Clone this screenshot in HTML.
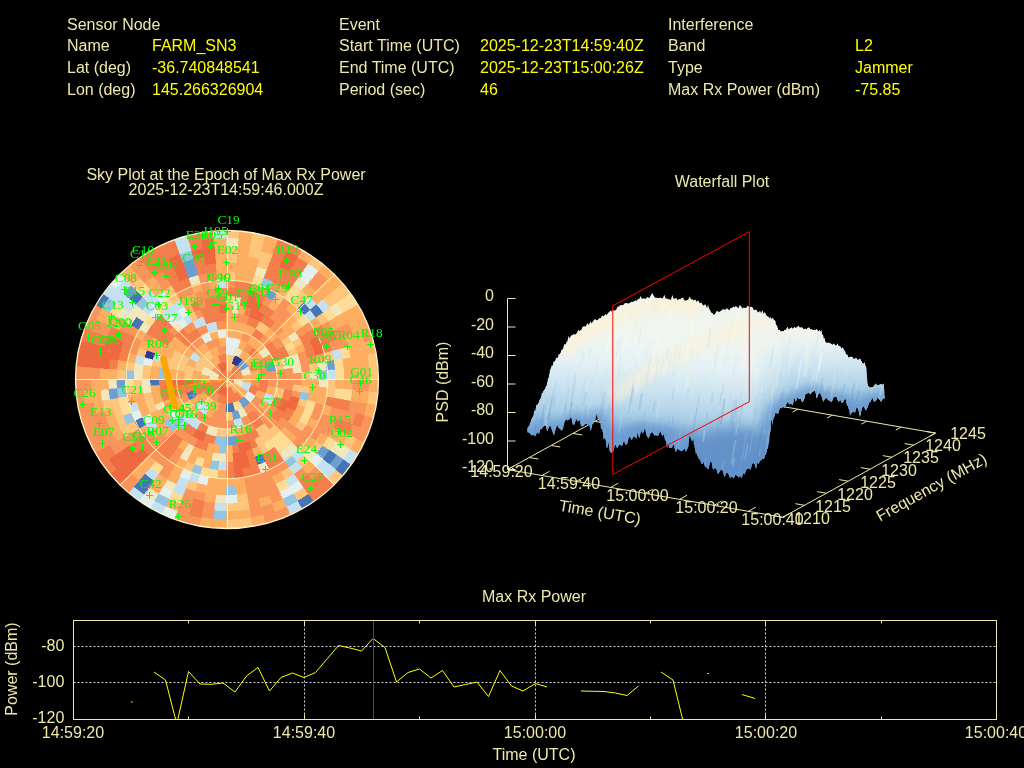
<!DOCTYPE html>
<html lang="en"><head><meta charset="utf-8"><title>Interference Event Report</title>
<style>html,body{margin:0;padding:0;background:#000;overflow:hidden}svg{display:block}text{font-family:"Liberation Sans",Arial,sans-serif;font-size:16px;fill:#eee8aa}.v{fill:#ffff00}.s{font-family:"Liberation Serif","Times New Roman",serif;font-size:13.3px;fill:#00ff00}.m{text-anchor:middle}.e{text-anchor:end}</style></head><body>
<svg width="1024" height="768" viewBox="0 0 1024 768">
<rect width="1024" height="768" fill="#000"/>
<g id="header">
<text x="67" y="30">Sensor Node</text>
<text x="67" y="51">Name</text>
<text x="152" y="51" class="v">FARM_SN3</text>
<text x="67" y="73">Lat (deg)</text>
<text x="152" y="73" class="v">-36.740848541</text>
<text x="67" y="95">Lon (deg)</text>
<text x="152" y="95" class="v">145.266326904</text>
<text x="339" y="30">Event</text>
<text x="339" y="51">Start Time (UTC)</text>
<text x="480" y="51" class="v">2025-12-23T14:59:40Z</text>
<text x="339" y="73">End Time (UTC)</text>
<text x="480" y="73" class="v">2025-12-23T15:00:26Z</text>
<text x="339" y="95">Period (sec)</text>
<text x="480" y="95" class="v">46</text>
<text x="668" y="30">Interference</text>
<text x="668" y="51">Band</text>
<text x="855" y="51" class="v">L2</text>
<text x="668" y="73">Type</text>
<text x="855" y="73" class="v">Jammer</text>
<text x="668" y="95">Max Rx Power (dBm)</text>
<text x="855" y="95" class="v">-75.85</text>
</g>
<g id="sky">
<text x="226" y="180" class="m">Sky Plot at the Epoch of Max Rx Power</text>
<text x="226" y="195" class="m">2025-12-23T14:59:46.000Z</text>
<ellipse cx="227.0" cy="379.5" rx="151.5" ry="149.0" fill="#f9955a"/>
<clipPath id="hc"><ellipse cx="227.0" cy="379.5" rx="151.5" ry="149.0"/></clipPath>
<g clip-path="url(#hc)" shape-rendering="crispEdges">
<path d="M226.2 379.0L233.5 374.9A8.4 8.3 0 0 1 233.5 383.1L226.2 379.0ZM226.2 379.0L226.2 387.3A8.4 8.3 0 0 1 218.9 383.1L226.2 379.0ZM226.2 379.0L218.9 374.9A8.4 8.3 0 0 1 226.2 370.7L226.2 379.0ZM230.4 371.8L234.6 364.7A16.8 16.6 0 0 1 240.8 370.7L233.5 374.9A8.4 8.3 0 0 0 230.4 371.8ZM230.4 386.2L234.6 393.3A16.8 16.6 0 0 1 226.2 395.6L226.2 387.3A8.4 8.3 0 0 0 230.4 386.2ZM222.0 386.2L217.8 393.3A16.8 16.6 0 0 1 209.4 379.0L217.8 379.0A8.4 8.3 0 0 0 222.0 386.2ZM237.0 391.7L242.4 398.0A25.2 24.8 0 0 1 217.6 402.3L220.4 394.6A16.8 16.6 0 0 0 237.0 391.7ZM215.4 391.7L210.0 398.0A25.2 24.8 0 0 1 201.3 383.3L209.6 381.9A16.8 16.6 0 0 0 215.4 391.7ZM220.4 363.4L217.6 355.7A25.2 24.8 0 0 1 226.2 354.2L226.2 362.4A16.8 16.6 0 0 0 220.4 363.4ZM250.6 385.4L258.7 387.6A33.7 33.1 0 0 1 255.4 395.6L248.1 391.4A25.2 24.8 0 0 0 250.6 385.4ZM204.3 391.4L197.0 395.6A33.7 33.1 0 0 1 192.5 379.0L200.9 379.0A25.2 24.8 0 0 0 204.3 391.4ZM247.8 353.6L253.3 347.3A42.1 41.4 0 0 1 258.4 352.4L252.0 357.7A33.7 33.1 0 0 0 247.8 353.6ZM259.9 379.0L268.3 379.0A42.1 41.4 0 0 1 265.7 393.2L257.8 390.3A33.7 33.1 0 0 0 259.9 379.0ZM194.6 390.3L186.7 393.2A42.1 41.4 0 0 1 184.8 386.2L193.0 384.7A33.7 33.1 0 0 0 194.6 390.3ZM253.3 410.7L258.7 417.0A50.5 49.7 0 0 1 251.5 422.0L247.2 414.8A42.1 41.4 0 0 0 253.3 410.7ZM186.7 393.2L178.7 396.0A50.5 49.7 0 0 1 176.5 387.6L184.8 386.2A42.1 41.4 0 0 0 186.7 393.2ZM251.4 336.0L255.7 328.8A58.9 57.9 0 0 1 264.1 334.6L258.7 341.0A50.5 49.7 0 0 0 251.4 336.0ZM264.9 347.1L271.3 341.8A58.9 57.9 0 0 1 281.6 359.2L273.7 362.0A50.5 49.7 0 0 0 264.9 347.1ZM273.7 396.0L281.6 398.8A58.9 57.9 0 0 1 277.2 408.0L269.9 403.8A50.5 49.7 0 0 0 273.7 396.0ZM258.7 417.0L264.1 423.4A58.9 57.9 0 0 1 255.7 429.2L251.5 422.0A50.5 49.7 0 0 0 258.7 417.0ZM208.9 425.7L206.0 433.4A58.9 57.9 0 0 1 196.7 429.2L200.9 422.0A50.5 49.7 0 0 0 208.9 425.7ZM178.7 396.0L170.8 398.8A58.9 57.9 0 0 1 168.2 389.1L176.5 387.6A50.5 49.7 0 0 0 178.7 396.0ZM187.5 347.1L181.1 341.8A58.9 57.9 0 0 1 196.7 328.8L201.0 336.0A50.5 49.7 0 0 0 187.5 347.1ZM246.4 324.6L249.2 316.8A67.3 66.2 0 0 1 259.9 321.6L255.7 328.8A58.9 57.9 0 0 0 246.4 324.6ZM277.2 350.0L284.5 345.9A67.3 66.2 0 0 1 289.5 356.4L281.6 359.2A58.9 57.9 0 0 0 277.2 350.0ZM284.2 389.1L292.5 390.5A67.3 66.2 0 0 1 289.5 401.6L281.6 398.8A58.9 57.9 0 0 0 284.2 389.1ZM277.2 408.0L284.5 412.1A67.3 66.2 0 0 1 277.8 421.6L271.3 416.2A58.9 57.9 0 0 0 277.2 408.0ZM255.7 429.2L259.9 436.4A67.3 66.2 0 0 1 237.9 444.2L236.4 436.1A58.9 57.9 0 0 0 255.7 429.2ZM216.0 436.1L214.5 444.2A67.3 66.2 0 0 1 203.2 441.2L206.0 433.4A58.9 57.9 0 0 0 216.0 436.1ZM196.7 429.2L192.5 436.4A67.3 66.2 0 0 1 182.9 429.7L188.3 423.4A58.9 57.9 0 0 0 196.7 429.2ZM170.8 398.8L162.9 401.6A67.3 66.2 0 0 1 158.9 379.0L167.3 379.0A58.9 57.9 0 0 0 170.8 398.8ZM181.1 341.8L174.6 336.4A67.3 66.2 0 0 1 182.9 328.3L188.3 334.6A58.9 57.9 0 0 0 181.1 341.8ZM206.0 324.6L203.2 316.8A67.3 66.2 0 0 1 226.2 312.8L226.2 321.1A58.9 57.9 0 0 0 206.0 324.6ZM243.6 315.0L245.8 307.0A75.8 74.5 0 0 1 252.1 309.0L249.2 316.8A67.3 66.2 0 0 0 243.6 315.0ZM259.9 321.6L264.1 314.5A75.8 74.5 0 0 1 274.9 321.9L269.5 328.3A67.3 66.2 0 0 0 259.9 321.6ZM287.2 407.0L294.9 410.5A75.8 74.5 0 0 1 288.3 421.7L281.4 417.0A67.3 66.2 0 0 0 287.2 407.0ZM254.7 439.0L258.2 446.5A75.8 74.5 0 0 1 252.1 449.0L249.2 441.2A67.3 66.2 0 0 0 254.7 439.0ZM237.9 444.2L239.4 452.4A75.8 74.5 0 0 1 232.8 453.2L232.1 445.0A67.3 66.2 0 0 0 237.9 444.2ZM208.8 443.0L206.6 451.0A75.8 74.5 0 0 1 194.2 446.5L197.7 439.0A67.3 66.2 0 0 0 208.8 443.0ZM167.9 345.9L160.6 341.8A75.8 74.5 0 0 1 168.2 331.1L174.6 336.4A67.3 66.2 0 0 0 167.9 345.9ZM203.2 316.8L200.3 309.0A75.8 74.5 0 0 1 219.6 304.8L220.3 313.0A67.3 66.2 0 0 0 203.2 316.8ZM239.4 305.6L240.8 297.5A84.2 82.8 0 0 1 248.0 299.0L245.8 307.0A75.8 74.5 0 0 0 239.4 305.6ZM258.2 311.5L261.8 304.0A84.2 82.8 0 0 1 274.5 311.2L269.6 318.0A75.8 74.5 0 0 0 258.2 311.5ZM252.1 449.0L255.0 456.8A84.2 82.8 0 0 1 248.0 459.0L245.8 451.0A75.8 74.5 0 0 0 252.1 449.0ZM182.8 440.0L177.9 446.8A84.2 82.8 0 0 1 166.7 437.5L172.6 431.7A75.8 74.5 0 0 0 182.8 440.0ZM160.6 341.8L153.3 337.6A84.2 82.8 0 0 1 166.7 320.5L172.6 326.3A75.8 74.5 0 0 0 160.6 341.8ZM194.2 311.5L190.6 304.0A84.2 82.8 0 0 1 197.4 301.2L200.3 309.0A75.8 74.5 0 0 0 194.2 311.5ZM206.6 307.0L204.4 299.0A84.2 82.8 0 0 1 226.2 296.2L226.2 304.5A75.8 74.5 0 0 0 206.6 307.0ZM226.2 296.2L226.2 287.9A92.6 91.1 0 0 1 250.2 291.0L248.0 299.0A84.2 82.8 0 0 0 226.2 296.2ZM255.0 301.2L257.9 293.4A92.6 91.1 0 0 1 265.3 296.5L261.8 304.0A84.2 82.8 0 0 0 255.0 301.2ZM299.1 337.6L306.4 333.5A92.6 91.1 0 0 1 315.6 355.4L307.5 357.6A84.2 82.8 0 0 0 299.1 337.6ZM274.5 446.8L279.3 453.6A92.6 91.1 0 0 1 265.3 461.5L261.8 454.0A84.2 82.8 0 0 0 274.5 446.8ZM255.0 456.8L257.9 464.6A92.6 91.1 0 0 1 250.2 467.0L248.0 459.0A84.2 82.8 0 0 0 255.0 456.8ZM233.5 461.5L234.3 469.7A92.6 91.1 0 0 1 226.2 470.1L226.2 461.8A84.2 82.8 0 0 0 233.5 461.5ZM177.9 446.8L173.1 453.6A92.6 91.1 0 0 1 160.7 443.4L166.7 437.5A84.2 82.8 0 0 0 177.9 446.8ZM153.3 337.6L146.0 333.5A92.6 91.1 0 0 1 160.7 314.6L166.7 320.5A84.2 82.8 0 0 0 153.3 337.6ZM234.3 288.3L235.0 280.0A101.0 99.3 0 0 1 252.3 283.1L250.2 291.0A92.6 91.1 0 0 0 234.3 288.3ZM306.4 333.5L313.7 329.3A101.0 99.3 0 0 1 317.7 337.0L310.1 340.5A92.6 91.1 0 0 0 306.4 333.5ZM279.3 453.6L284.1 460.4A101.0 99.3 0 0 1 268.9 469.0L265.3 461.5A92.6 91.1 0 0 0 279.3 453.6ZM257.9 464.6L260.7 472.3A101.0 99.3 0 0 1 243.7 476.8L242.3 468.7A92.6 91.1 0 0 0 257.9 464.6ZM234.3 469.7L235.0 478.0A101.0 99.3 0 0 1 226.2 478.3L226.2 470.1A92.6 91.1 0 0 0 234.3 469.7ZM173.1 453.6L168.3 460.4A101.0 99.3 0 0 1 154.8 449.2L160.7 443.4A92.6 91.1 0 0 0 173.1 453.6ZM313.7 329.3L321.0 325.2A109.4 107.6 0 0 1 331.9 351.1L323.8 353.3A101.0 99.3 0 0 0 313.7 329.3ZM325.7 396.2L334.0 397.7A109.4 107.6 0 0 1 331.9 406.9L323.8 404.7A101.0 99.3 0 0 0 325.7 396.2ZM154.8 449.2L148.8 455.1A109.4 107.6 0 0 1 136.6 440.7L143.5 436.0A101.0 99.3 0 0 0 154.8 449.2ZM126.7 361.8L118.4 360.3A109.4 107.6 0 0 1 127.0 333.5L134.7 337.0A101.0 99.3 0 0 0 126.7 361.8ZM175.7 293.0L171.5 285.8A109.4 107.6 0 0 1 188.8 277.9L191.7 285.7A101.0 99.3 0 0 0 175.7 293.0ZM263.6 277.9L266.5 270.1A117.8 115.9 0 0 1 293.8 284.1L289.0 290.9A109.4 107.6 0 0 0 263.6 277.9ZM325.4 333.5L333.0 330.0A117.8 115.9 0 0 1 336.9 339.4L329.0 342.2A109.4 107.6 0 0 0 325.4 333.5ZM334.0 397.7L342.2 399.1A117.8 115.9 0 0 1 340.0 409.0L331.9 406.9A109.4 107.6 0 0 0 334.0 397.7ZM142.4 448.2L135.9 453.5A117.8 115.9 0 0 1 129.7 445.5L136.6 440.7A109.4 107.6 0 0 0 142.4 448.2ZM117.2 369.6L108.8 368.9A117.8 115.9 0 0 1 110.2 358.9L118.4 360.3A109.4 107.6 0 0 0 117.2 369.6ZM123.4 342.2L115.5 339.4A117.8 115.9 0 0 1 119.4 330.0L127.0 333.5A109.4 107.6 0 0 0 123.4 342.2ZM171.5 285.8L167.3 278.6A117.8 115.9 0 0 1 176.4 274.0L180.0 281.5A109.4 107.6 0 0 0 171.5 285.8ZM197.9 275.1L195.7 267.1A117.8 115.9 0 0 1 215.9 263.6L216.7 271.8A109.4 107.6 0 0 0 197.9 275.1ZM266.5 270.1L269.4 262.3A126.2 124.2 0 0 1 298.6 277.3L293.8 284.1A117.8 115.9 0 0 0 266.5 270.1ZM342.2 399.1L350.5 400.6A126.2 124.2 0 0 1 348.1 411.1L340.0 409.0A117.8 115.9 0 0 0 342.2 399.1ZM336.9 418.6L344.8 421.5A126.2 124.2 0 0 1 340.6 431.5L333.0 428.0A117.8 115.9 0 0 0 336.9 418.6ZM115.5 339.4L107.6 336.5A126.2 124.2 0 0 1 111.8 326.5L119.4 330.0A117.8 115.9 0 0 0 115.5 339.4ZM167.3 278.6L163.1 271.5A126.2 124.2 0 0 1 172.8 266.5L176.4 274.0A117.8 115.9 0 0 0 167.3 278.6ZM195.7 267.1L193.5 259.1A126.2 124.2 0 0 1 204.3 256.7L205.7 264.9A117.8 115.9 0 0 0 195.7 267.1ZM269.4 262.3L272.3 254.5A134.7 132.4 0 0 1 283.1 259.0L279.6 266.5A126.2 124.2 0 0 0 269.4 262.3ZM289.3 271.5L293.5 264.3A134.7 132.4 0 0 1 303.4 270.5L298.6 277.3A126.2 124.2 0 0 0 289.3 271.5ZM344.8 421.5L352.7 424.3A134.7 132.4 0 0 1 348.2 435.0L340.6 431.5A126.2 124.2 0 0 0 344.8 421.5ZM307.4 474.1L312.8 480.5A134.7 132.4 0 0 1 303.4 487.5L298.6 480.7A126.2 124.2 0 0 0 307.4 474.1ZM204.3 501.3L202.8 509.4A134.7 132.4 0 0 1 191.3 506.9L193.5 498.9A126.2 124.2 0 0 0 204.3 501.3ZM104.3 346.9L96.1 344.7A134.7 132.4 0 0 1 99.7 333.7L107.6 336.5A126.2 124.2 0 0 0 104.3 346.9ZM153.8 277.3L149.0 270.5A134.7 132.4 0 0 1 169.3 259.0L172.8 266.5A126.2 124.2 0 0 0 153.8 277.3ZM272.3 254.5L275.1 246.8A143.1 140.7 0 0 1 286.7 251.5L283.1 259.0A134.7 132.4 0 0 0 272.3 254.5ZM293.5 264.3L297.7 257.1A143.1 140.7 0 0 1 308.3 263.7L303.4 270.5A134.7 132.4 0 0 0 293.5 264.3ZM356.3 413.3L364.4 415.4A143.1 140.7 0 0 1 360.7 427.1L352.7 424.3A134.7 132.4 0 0 0 356.3 413.3ZM321.4 472.7L327.4 478.5A143.1 140.7 0 0 1 308.3 494.3L303.4 487.5A134.7 132.4 0 0 0 321.4 472.7ZM202.8 509.4L201.4 517.6A143.1 140.7 0 0 1 189.2 514.9L191.3 506.9A134.7 132.4 0 0 0 202.8 509.4ZM115.9 455.0L109.0 459.7A143.1 140.7 0 0 1 102.3 449.4L109.6 445.2A134.7 132.4 0 0 0 115.9 455.0ZM96.1 344.7L88.0 342.6A143.1 140.7 0 0 1 91.7 330.9L99.7 333.7A134.7 132.4 0 0 0 96.1 344.7ZM149.0 270.5L144.1 263.7A143.1 140.7 0 0 1 177.3 246.8L180.1 254.5A134.7 132.4 0 0 0 149.0 270.5ZM191.3 251.1L189.2 243.1A143.1 140.7 0 0 1 201.4 240.4L202.8 248.6A134.7 132.4 0 0 0 191.3 251.1ZM275.1 246.8L278.0 239.0A151.5 149.0 0 0 1 301.9 250.0L297.7 257.1A143.1 140.7 0 0 0 275.1 246.8ZM327.4 478.5L333.3 484.4A151.5 149.0 0 0 1 313.1 501.1L308.3 494.3A143.1 140.7 0 0 0 327.4 478.5ZM116.6 469.5L110.1 474.8A151.5 149.0 0 0 1 95.0 453.5L102.3 449.4A143.1 140.7 0 0 0 116.6 469.5ZM88.0 342.6L79.9 340.4A151.5 149.0 0 0 1 83.8 328.0L91.7 330.9A143.1 140.7 0 0 0 88.0 342.6ZM144.1 263.7L139.3 256.9A151.5 149.0 0 0 1 174.4 239.0L177.3 246.8A143.1 140.7 0 0 0 144.1 263.7ZM189.2 243.1L187.0 235.1A151.5 149.0 0 0 1 213.0 230.6L213.7 238.8A143.1 140.7 0 0 0 189.2 243.1Z" fill="#f47f4d" stroke="#f47f4d" stroke-width="0.4"/>
<path d="M226.2 379.0L233.5 383.1A8.4 8.3 0 0 1 226.2 387.3L226.2 379.0ZM226.2 370.7L226.2 362.4A16.8 16.6 0 0 1 234.6 364.7L230.4 371.8A8.4 8.3 0 0 0 226.2 370.7ZM226.2 362.4L226.2 354.2A25.2 24.8 0 0 1 234.8 355.7L232.0 363.4A16.8 16.6 0 0 0 226.2 362.4ZM211.6 370.7L204.3 366.6A25.2 24.8 0 0 1 210.0 360.0L215.4 366.3A16.8 16.6 0 0 0 211.6 370.7ZM213.6 400.5L209.4 407.7A33.7 33.1 0 0 1 202.4 402.4L208.3 396.6A25.2 24.8 0 0 0 213.6 400.5ZM201.8 372.6L193.7 370.4A33.7 33.1 0 0 1 209.4 350.3L213.6 357.5A25.2 24.8 0 0 0 201.8 372.6ZM232.0 411.6L233.5 419.8A42.1 41.4 0 0 1 226.2 420.4L226.2 412.1A33.7 33.1 0 0 0 232.0 411.6ZM192.5 379.0L184.1 379.0A42.1 41.4 0 0 1 186.7 364.8L194.6 367.7A33.7 33.1 0 0 0 192.5 379.0ZM194.0 405.6L187.5 410.9A50.5 49.7 0 0 1 182.5 403.8L189.8 399.7A42.1 41.4 0 0 0 194.0 405.6ZM184.8 371.8L176.5 370.4A50.5 49.7 0 0 1 182.5 354.2L189.8 358.3A42.1 41.4 0 0 0 184.8 371.8ZM273.7 362.0L281.6 359.2A58.9 57.9 0 0 1 284.2 368.9L275.9 370.4A50.5 49.7 0 0 0 273.7 362.0ZM275.9 387.6L284.2 389.1A58.9 57.9 0 0 1 281.6 398.8L273.7 396.0A50.5 49.7 0 0 0 275.9 387.6ZM235.0 427.9L236.4 436.1A58.9 57.9 0 0 1 216.0 436.1L217.4 427.9A50.5 49.7 0 0 0 235.0 427.9ZM176.5 370.4L168.2 368.9A58.9 57.9 0 0 1 175.2 350.0L182.5 354.2A50.5 49.7 0 0 0 176.5 370.4ZM255.7 328.8L259.9 321.6A67.3 66.2 0 0 1 269.5 328.3L264.1 334.6A58.9 57.9 0 0 0 255.7 328.8ZM264.1 423.4L269.5 429.7A67.3 66.2 0 0 1 259.9 436.4L255.7 429.2A58.9 57.9 0 0 0 264.1 423.4ZM168.2 368.9L159.9 367.5A67.3 66.2 0 0 1 162.9 356.4L170.8 359.2A58.9 57.9 0 0 0 168.2 368.9ZM281.4 341.0L288.3 336.3A75.8 74.5 0 0 1 291.8 341.8L284.5 345.9A67.3 66.2 0 0 0 281.4 341.0ZM287.2 351.0L294.9 347.5A75.8 74.5 0 0 1 297.4 353.5L289.5 356.4A67.3 66.2 0 0 0 287.2 351.0ZM293.3 384.8L301.7 385.5A75.8 74.5 0 0 1 300.8 391.9L292.5 390.5A67.3 66.2 0 0 0 293.3 384.8ZM273.8 425.8L279.8 431.7A75.8 74.5 0 0 1 258.2 446.5L254.7 439.0A67.3 66.2 0 0 0 273.8 425.8ZM159.9 367.5L151.6 366.1A75.8 74.5 0 0 1 153.0 359.7L161.2 361.9A67.3 66.2 0 0 0 159.9 367.5ZM192.5 321.6L188.3 314.5A75.8 74.5 0 0 1 194.2 311.5L197.7 319.0A67.3 66.2 0 0 0 192.5 321.6ZM226.2 304.5L226.2 296.2A84.2 82.8 0 0 1 233.5 296.5L232.8 304.8A75.8 74.5 0 0 0 226.2 304.5ZM291.8 341.8L299.1 337.6A84.2 82.8 0 0 1 302.5 344.0L294.9 347.5A75.8 74.5 0 0 0 291.8 341.8ZM301.7 372.5L310.0 371.8A84.2 82.8 0 0 1 310.4 379.0L301.9 379.0A75.8 74.5 0 0 0 301.7 372.5ZM301.7 385.5L310.0 386.2A84.2 82.8 0 0 1 309.1 393.4L300.8 391.9A75.8 74.5 0 0 0 301.7 385.5ZM299.4 398.3L307.5 400.4A84.2 82.8 0 0 1 305.3 407.3L297.4 404.5A75.8 74.5 0 0 0 299.4 398.3ZM264.1 443.5L268.3 450.7A84.2 82.8 0 0 1 261.8 454.0L258.2 446.5A75.8 74.5 0 0 0 264.1 443.5ZM157.5 410.5L149.9 414.0A84.2 82.8 0 0 1 143.3 393.4L151.6 391.9A75.8 74.5 0 0 0 157.5 410.5ZM150.4 379.0L142.0 379.0A84.2 82.8 0 0 1 143.3 364.6L151.6 366.1A75.8 74.5 0 0 0 150.4 379.0ZM290.7 325.8L297.1 320.5A92.6 91.1 0 0 1 302.0 326.8L295.1 331.5A84.2 82.8 0 0 0 290.7 325.8ZM309.1 364.6L317.4 363.2A92.6 91.1 0 0 1 318.4 371.1L310.0 371.8A84.2 82.8 0 0 0 309.1 364.6ZM299.1 420.4L306.4 424.5A92.6 91.1 0 0 1 302.0 431.2L295.1 426.5A84.2 82.8 0 0 0 299.1 420.4ZM143.3 393.4L135.0 394.8A92.6 91.1 0 0 1 133.6 379.0L142.0 379.0A84.2 82.8 0 0 0 143.3 393.4ZM144.9 357.6L136.8 355.4A92.6 91.1 0 0 1 139.2 347.9L147.1 350.7A84.2 82.8 0 0 0 144.9 357.6ZM272.5 300.1L276.7 293.0A101.0 99.3 0 0 1 284.1 297.6L279.3 304.4A92.6 91.1 0 0 0 272.5 300.1ZM291.7 314.6L297.6 308.8A101.0 99.3 0 0 1 303.6 315.1L297.1 320.5A92.6 91.1 0 0 0 291.7 314.6ZM194.5 464.6L191.7 472.3A101.0 99.3 0 0 1 183.5 469.0L187.1 461.5A92.6 91.1 0 0 0 194.5 464.6ZM135.0 394.8L126.7 396.2A101.0 99.3 0 0 1 125.6 387.7L134.0 386.9A92.6 91.1 0 0 0 135.0 394.8ZM134.0 371.1L125.6 370.3A101.0 99.3 0 0 1 126.7 361.8L135.0 363.2A92.6 91.1 0 0 0 134.0 371.1ZM173.1 304.4L168.3 297.6A101.0 99.3 0 0 1 175.7 293.0L179.9 300.1A92.6 91.1 0 0 0 173.1 304.4ZM226.2 279.7L226.2 271.4A109.4 107.6 0 0 1 235.7 271.8L235.0 280.0A101.0 99.3 0 0 0 226.2 279.7ZM291.1 302.9L296.5 296.6A109.4 107.6 0 0 1 303.6 302.9L297.6 308.8A101.0 99.3 0 0 0 291.1 302.9ZM323.8 353.3L331.9 351.1A109.4 107.6 0 0 1 334.0 360.3L325.7 361.8A101.0 99.3 0 0 0 323.8 353.3ZM327.2 379.0L335.6 379.0A109.4 107.6 0 0 1 334.0 397.7L325.7 396.2A101.0 99.3 0 0 0 327.2 379.0ZM303.6 442.9L310.0 448.2A109.4 107.6 0 0 1 303.6 455.1L297.6 449.2A101.0 99.3 0 0 0 303.6 442.9ZM138.7 428.7L131.4 432.8A109.4 107.6 0 0 1 127.0 424.5L134.7 421.0A101.0 99.3 0 0 0 138.7 428.7ZM125.2 379.0L116.8 379.0A109.4 107.6 0 0 1 117.2 369.6L125.6 370.3A101.0 99.3 0 0 0 125.2 379.0ZM168.3 297.6L163.4 290.9A109.4 107.6 0 0 1 171.5 285.8L175.7 293.0A101.0 99.3 0 0 0 168.3 297.6ZM296.5 296.6L301.9 290.2A117.8 115.9 0 0 1 309.5 297.1L303.6 302.9A109.4 107.6 0 0 0 296.5 296.6ZM315.8 317.3L322.7 312.5A117.8 115.9 0 0 1 328.2 321.1L321.0 325.2A109.4 107.6 0 0 0 315.8 317.3ZM315.8 440.7L322.7 445.5A117.8 115.9 0 0 1 316.5 453.5L310.0 448.2A109.4 107.6 0 0 0 315.8 440.7ZM303.6 455.1L309.5 460.9A117.8 115.9 0 0 1 301.9 467.8L296.5 461.4A109.4 107.6 0 0 0 303.6 455.1ZM289.0 467.1L293.8 473.9A117.8 115.9 0 0 1 285.1 479.4L280.9 472.2A109.4 107.6 0 0 0 289.0 467.1ZM197.9 482.9L195.7 490.9A117.8 115.9 0 0 1 185.9 487.9L188.8 480.1A109.4 107.6 0 0 0 197.9 482.9ZM131.4 432.8L124.2 436.9A117.8 115.9 0 0 1 110.2 399.1L118.4 397.7A109.4 107.6 0 0 0 131.4 432.8ZM226.2 263.1L226.2 254.8A126.2 124.2 0 0 1 237.2 255.3L236.5 263.6A117.8 115.9 0 0 0 226.2 263.1ZM256.7 267.1L258.9 259.1A126.2 124.2 0 0 1 269.4 262.3L266.5 270.1A117.8 115.9 0 0 0 256.7 267.1ZM246.7 493.1L248.1 501.3A126.2 124.2 0 0 1 237.2 502.7L236.5 494.4A117.8 115.9 0 0 0 246.7 493.1ZM112.4 409.0L104.3 411.1A126.2 124.2 0 0 1 101.9 400.6L110.2 399.1A117.8 115.9 0 0 0 112.4 409.0ZM226.2 254.8L226.2 246.6A134.7 132.4 0 0 1 237.9 247.1L237.2 255.3A126.2 124.2 0 0 0 226.2 254.8ZM248.1 256.7L249.6 248.6A134.7 132.4 0 0 1 272.3 254.5L269.4 262.3A126.2 124.2 0 0 0 248.1 256.7ZM322.9 299.2L329.4 293.9A134.7 132.4 0 0 1 336.5 303.0L329.6 307.8A126.2 124.2 0 0 0 322.9 299.2ZM248.1 501.3L249.6 509.4A134.7 132.4 0 0 1 226.2 511.4L226.2 503.2A126.2 124.2 0 0 0 248.1 501.3ZM136.9 291.2L131.0 285.3A134.7 132.4 0 0 1 139.6 277.5L145.0 283.9A126.2 124.2 0 0 0 136.9 291.2ZM249.6 248.6L251.0 240.4A143.1 140.7 0 0 1 263.2 243.1L261.1 251.1A134.7 132.4 0 0 0 249.6 248.6ZM329.4 293.9L335.8 288.5A143.1 140.7 0 0 1 343.4 298.3L336.5 303.0A134.7 132.4 0 0 0 329.4 293.9ZM348.2 435.0L355.9 438.5A143.1 140.7 0 0 1 350.1 449.4L342.8 445.2A134.7 132.4 0 0 0 348.2 435.0ZM303.4 487.5L308.3 494.3A143.1 140.7 0 0 1 297.7 500.9L293.5 493.7A134.7 132.4 0 0 0 303.4 487.5ZM226.2 238.3L226.2 230.0A151.5 149.0 0 0 1 239.4 230.6L238.7 238.8A143.1 140.7 0 0 0 226.2 238.3ZM251.0 240.4L252.5 232.3A151.5 149.0 0 0 1 265.4 235.1L263.2 243.1A143.1 140.7 0 0 0 251.0 240.4ZM308.3 263.7L313.1 256.9A151.5 149.0 0 0 1 323.6 264.9L318.2 271.2A143.1 140.7 0 0 0 308.3 263.7ZM335.8 288.5L342.3 283.2A151.5 149.0 0 0 1 350.3 293.5L343.4 298.3A143.1 140.7 0 0 0 335.8 288.5ZM367.1 354.6L375.4 353.1A151.5 149.0 0 0 1 377.7 379.0L369.3 379.0A143.1 140.7 0 0 0 367.1 354.6ZM368.7 391.3L377.1 392.0A151.5 149.0 0 0 1 375.4 404.9L367.1 403.4A143.1 140.7 0 0 0 368.7 391.3ZM335.8 469.5L342.3 474.8A151.5 149.0 0 0 1 333.3 484.4L327.4 478.5A143.1 140.7 0 0 0 335.8 469.5ZM251.0 517.6L252.5 525.7A151.5 149.0 0 0 1 226.2 528.0L226.2 519.7A143.1 140.7 0 0 0 251.0 517.6Z" fill="#fdc67c" stroke="#fdc67c" stroke-width="0.4"/>
<path d="M234.6 379.0L243.0 379.0A16.8 16.6 0 0 1 240.8 387.3L233.5 383.1A8.4 8.3 0 0 0 234.6 379.0ZM217.8 379.0L209.4 379.0A16.8 16.6 0 0 1 211.6 370.7L218.9 374.9A8.4 8.3 0 0 0 217.8 379.0ZM240.8 370.7L248.1 366.6A25.2 24.8 0 0 1 251.1 374.7L242.8 376.1A16.8 16.6 0 0 0 240.8 370.7ZM209.6 376.1L201.3 374.7A25.2 24.8 0 0 1 204.3 366.6L211.6 370.7A16.8 16.6 0 0 0 209.6 376.1ZM232.7 355.0L234.9 347.0A33.7 33.1 0 0 1 243.0 350.3L238.8 357.5A25.2 24.8 0 0 0 232.7 355.0ZM243.0 407.7L247.2 414.8A42.1 41.4 0 0 1 240.6 417.9L237.7 410.1A33.7 33.1 0 0 0 243.0 407.7ZM258.4 352.4L264.9 347.1A50.5 49.7 0 0 1 269.9 354.2L262.6 358.3A42.1 41.4 0 0 0 258.4 352.4ZM217.4 427.9L216.0 436.1A58.9 57.9 0 0 1 206.0 433.4L208.9 425.7A50.5 49.7 0 0 0 217.4 427.9ZM281.6 359.2L289.5 356.4A67.3 66.2 0 0 1 292.5 367.5L284.2 368.9A58.9 57.9 0 0 0 281.6 359.2ZM232.1 313.0L232.8 304.8A75.8 74.5 0 0 1 239.4 305.6L237.9 313.8A67.3 66.2 0 0 0 232.1 313.0ZM289.5 356.4L297.4 353.5A75.8 74.5 0 0 1 301.7 372.5L293.3 373.2A67.3 66.2 0 0 0 289.5 356.4ZM165.2 407.0L157.5 410.5A75.8 74.5 0 0 1 155.0 404.5L162.9 401.6A67.3 66.2 0 0 0 165.2 407.0ZM178.6 332.2L172.6 326.3A75.8 74.5 0 0 1 177.5 321.9L182.9 328.3A67.3 66.2 0 0 0 178.6 332.2ZM232.8 304.8L233.5 296.5A84.2 82.8 0 0 1 240.8 297.5L239.4 305.6A75.8 74.5 0 0 0 232.8 304.8ZM288.3 336.3L295.1 331.5A84.2 82.8 0 0 1 299.1 337.6L291.8 341.8A75.8 74.5 0 0 0 288.3 336.3ZM226.2 453.5L226.2 461.8A84.2 82.8 0 0 1 211.6 460.5L213.0 452.4A75.8 74.5 0 0 0 226.2 453.5ZM194.2 446.5L190.6 454.0A84.2 82.8 0 0 1 184.1 450.7L188.3 443.5A75.8 74.5 0 0 0 194.2 446.5ZM151.6 391.9L143.3 393.4A84.2 82.8 0 0 1 142.0 379.0L150.4 379.0A75.8 74.5 0 0 0 151.6 391.9ZM310.0 371.8L318.4 371.1A92.6 91.1 0 0 1 318.8 379.0L310.4 379.0A84.2 82.8 0 0 0 310.0 371.8ZM190.6 454.0L187.1 461.5A92.6 91.1 0 0 1 179.9 457.9L184.1 450.7A84.2 82.8 0 0 0 190.6 454.0ZM142.0 379.0L133.6 379.0A92.6 91.1 0 0 1 135.0 363.2L143.3 364.6A84.2 82.8 0 0 0 142.0 379.0ZM317.4 363.2L325.7 361.8A101.0 99.3 0 0 1 326.8 370.3L318.4 371.1A92.6 91.1 0 0 0 317.4 363.2ZM318.8 379.0L327.2 379.0A101.0 99.3 0 0 1 326.8 387.7L318.4 386.9A92.6 91.1 0 0 0 318.8 379.0ZM291.7 443.4L297.6 449.2A101.0 99.3 0 0 1 284.1 460.4L279.3 453.6A92.6 91.1 0 0 0 291.7 443.4ZM265.3 461.5L268.9 469.0A101.0 99.3 0 0 1 260.7 472.3L257.9 464.6A92.6 91.1 0 0 0 265.3 461.5ZM146.0 333.5L138.7 329.3A101.0 99.3 0 0 1 143.5 322.0L150.4 326.8A92.6 91.1 0 0 0 146.0 333.5ZM143.5 322.0L136.6 317.3A109.4 107.6 0 0 1 142.4 309.8L148.8 315.1A101.0 99.3 0 0 0 143.5 322.0ZM191.7 285.7L188.8 277.9A109.4 107.6 0 0 1 197.9 275.1L200.1 283.1A101.0 99.3 0 0 0 191.7 285.7ZM254.5 275.1L256.7 267.1A117.8 115.9 0 0 1 266.5 270.1L263.6 277.9A109.4 107.6 0 0 0 254.5 275.1ZM310.0 448.2L316.5 453.5A117.8 115.9 0 0 1 309.5 460.9L303.6 455.1A109.4 107.6 0 0 0 310.0 448.2ZM117.2 388.4L108.8 389.1A117.8 115.9 0 0 1 108.4 379.0L116.8 379.0A109.4 107.6 0 0 0 117.2 388.4ZM131.4 325.2L124.2 321.1A117.8 115.9 0 0 1 135.9 304.5L142.4 309.8A109.4 107.6 0 0 0 131.4 325.2ZM293.8 284.1L298.6 277.3A126.2 124.2 0 0 1 307.4 283.9L301.9 290.2A117.8 115.9 0 0 0 293.8 284.1ZM226.2 494.9L226.2 503.2A126.2 124.2 0 0 1 215.2 502.7L215.9 494.4A117.8 115.9 0 0 0 226.2 494.9ZM176.4 484.0L172.8 491.5A126.2 124.2 0 0 1 163.1 486.5L167.3 479.4A117.8 115.9 0 0 0 176.4 484.0ZM110.2 399.1L101.9 400.6A126.2 124.2 0 0 1 100.4 389.8L108.8 389.1A117.8 115.9 0 0 0 110.2 399.1ZM124.2 321.1L116.9 316.9A126.2 124.2 0 0 1 122.8 307.8L129.7 312.5A117.8 115.9 0 0 0 124.2 321.1ZM329.6 307.8L336.5 303.0A134.7 132.4 0 0 1 342.8 312.8L335.5 316.9A126.2 124.2 0 0 0 329.6 307.8ZM335.5 441.1L342.8 445.2A134.7 132.4 0 0 1 336.5 455.0L329.6 450.2A126.2 124.2 0 0 0 335.5 441.1ZM226.2 246.6L226.2 238.3A143.1 140.7 0 0 1 238.7 238.8L237.9 247.1A134.7 132.4 0 0 0 226.2 246.6ZM342.8 445.2L350.1 449.4A143.1 140.7 0 0 1 343.4 459.7L336.5 455.0A134.7 132.4 0 0 0 342.8 445.2ZM158.9 493.7L154.7 500.9A143.1 140.7 0 0 1 144.1 494.3L149.0 487.5A134.7 132.4 0 0 0 158.9 493.7Z" fill="#f2e8bf" stroke="#f2e8bf" stroke-width="0.4"/>
<path d="M233.5 383.1L240.8 387.3A16.8 16.6 0 0 1 234.6 393.3L230.4 386.2A8.4 8.3 0 0 0 233.5 383.1ZM242.8 376.1L251.1 374.7A25.2 24.8 0 0 1 251.1 383.3L242.8 381.9A16.8 16.6 0 0 0 242.8 376.1ZM240.8 387.3L248.1 391.4A25.2 24.8 0 0 1 242.4 398.0L237.0 391.7A16.8 16.6 0 0 0 240.8 387.3ZM209.6 381.9L201.3 383.3A25.2 24.8 0 0 1 201.3 374.7L209.6 376.1A16.8 16.6 0 0 0 209.6 381.9ZM215.4 366.3L210.0 360.0A25.2 24.8 0 0 1 217.6 355.7L220.4 363.4A16.8 16.6 0 0 0 215.4 366.3ZM238.8 357.5L243.0 350.3A33.7 33.1 0 0 1 255.4 362.4L248.1 366.6A25.2 24.8 0 0 0 238.8 357.5ZM250.6 372.6L258.7 370.4A33.7 33.1 0 0 1 259.9 379.0L251.4 379.0A25.2 24.8 0 0 0 250.6 372.6ZM219.7 403.0L217.5 411.0A33.7 33.1 0 0 1 209.4 407.7L213.6 400.5A25.2 24.8 0 0 0 219.7 403.0ZM208.3 396.6L202.4 402.4A33.7 33.1 0 0 1 197.0 395.6L204.3 391.4A25.2 24.8 0 0 0 208.3 396.6ZM200.9 379.0L192.5 379.0A33.7 33.1 0 0 1 193.7 370.4L201.8 372.6A25.2 24.8 0 0 0 200.9 379.0ZM213.6 357.5L209.4 350.3A33.7 33.1 0 0 1 217.5 347.0L219.7 355.0A25.2 24.8 0 0 0 213.6 357.5ZM237.7 347.9L240.6 340.1A42.1 41.4 0 0 1 247.2 343.2L243.0 350.3A33.7 33.1 0 0 0 237.7 347.9ZM252.0 357.7L258.4 352.4A42.1 41.4 0 0 1 262.6 358.3L255.4 362.4A33.7 33.1 0 0 0 252.0 357.7ZM257.8 390.3L265.7 393.2A42.1 41.4 0 0 1 262.6 399.7L255.4 395.6A33.7 33.1 0 0 0 257.8 390.3ZM214.7 410.1L211.8 417.9A42.1 41.4 0 0 1 205.2 414.8L209.4 407.7A33.7 33.1 0 0 0 214.7 410.1ZM200.4 400.3L194.0 405.6A42.1 41.4 0 0 1 189.8 399.7L197.0 395.6A33.7 33.1 0 0 0 200.4 400.3ZM194.6 367.7L186.7 364.8A42.1 41.4 0 0 1 189.8 358.3L197.0 362.4A33.7 33.1 0 0 0 194.6 367.7ZM200.4 357.7L194.0 352.4A42.1 41.4 0 0 1 205.2 343.2L209.4 350.3A33.7 33.1 0 0 0 200.4 357.7ZM220.4 346.4L218.9 338.2A42.1 41.4 0 0 1 226.2 337.6L226.2 345.9A33.7 33.1 0 0 0 220.4 346.4ZM226.2 337.6L226.2 329.3A50.5 49.7 0 0 1 243.5 332.3L240.6 340.1A42.1 41.4 0 0 0 226.2 337.6ZM247.2 343.2L251.4 336.0A50.5 49.7 0 0 1 264.9 347.1L258.4 352.4A42.1 41.4 0 0 0 247.2 343.2ZM267.6 386.2L275.9 387.6A50.5 49.7 0 0 1 273.7 396.0L265.7 393.2A42.1 41.4 0 0 0 267.6 386.2ZM262.6 399.7L269.9 403.8A50.5 49.7 0 0 1 264.9 410.9L258.4 405.6A42.1 41.4 0 0 0 262.6 399.7ZM199.1 410.7L193.7 417.0A50.5 49.7 0 0 1 187.5 410.9L194.0 405.6A42.1 41.4 0 0 0 199.1 410.7ZM184.1 379.0L175.7 379.0A50.5 49.7 0 0 1 176.5 370.4L184.8 371.8A42.1 41.4 0 0 0 184.1 379.0ZM189.8 358.3L182.5 354.2A50.5 49.7 0 0 1 187.5 347.1L194.0 352.4A42.1 41.4 0 0 0 189.8 358.3ZM211.8 340.1L208.9 332.3A50.5 49.7 0 0 1 217.4 330.1L218.9 338.2A42.1 41.4 0 0 0 211.8 340.1ZM226.2 329.3L226.2 321.1A58.9 57.9 0 0 1 255.7 328.8L251.4 336.0A50.5 49.7 0 0 0 226.2 329.3ZM243.5 425.7L246.4 433.4A58.9 57.9 0 0 1 236.4 436.1L235.0 427.9A50.5 49.7 0 0 0 243.5 425.7ZM187.5 410.9L181.1 416.2A58.9 57.9 0 0 1 170.8 398.8L178.7 396.0A50.5 49.7 0 0 0 187.5 410.9ZM175.7 379.0L167.3 379.0A58.9 57.9 0 0 1 168.2 368.9L176.5 370.4A50.5 49.7 0 0 0 175.7 379.0ZM182.5 354.2L175.2 350.0A58.9 57.9 0 0 1 181.1 341.8L187.5 347.1A50.5 49.7 0 0 0 182.5 354.2ZM226.2 321.1L226.2 312.8A67.3 66.2 0 0 1 237.9 313.8L236.4 321.9A58.9 57.9 0 0 0 226.2 321.1ZM264.1 334.6L269.5 328.3A67.3 66.2 0 0 1 277.8 336.4L271.3 341.8A58.9 57.9 0 0 0 264.1 334.6ZM175.2 408.0L167.9 412.1A67.3 66.2 0 0 1 162.9 401.6L170.8 398.8A58.9 57.9 0 0 0 175.2 408.0ZM170.8 359.2L162.9 356.4A67.3 66.2 0 0 1 174.6 336.4L181.1 341.8A58.9 57.9 0 0 0 170.8 359.2ZM226.2 312.8L226.2 304.5A75.8 74.5 0 0 1 232.8 304.8L232.1 313.0A67.3 66.2 0 0 0 226.2 312.8ZM237.9 313.8L239.4 305.6A75.8 74.5 0 0 1 245.8 307.0L243.6 315.0A67.3 66.2 0 0 0 237.9 313.8ZM277.8 336.4L284.2 331.1A75.8 74.5 0 0 1 288.3 336.3L281.4 341.0A67.3 66.2 0 0 0 277.8 336.4ZM232.1 445.0L232.8 453.2A75.8 74.5 0 0 1 226.2 453.5L226.2 445.2A67.3 66.2 0 0 0 232.1 445.0ZM220.3 445.0L219.6 453.2A75.8 74.5 0 0 1 206.6 451.0L208.8 443.0A67.3 66.2 0 0 0 220.3 445.0ZM171.0 417.0L164.1 421.7A75.8 74.5 0 0 1 157.5 410.5L165.2 407.0A67.3 66.2 0 0 0 171.0 417.0ZM162.9 401.6L155.0 404.5A75.8 74.5 0 0 1 150.7 385.5L159.1 384.8A67.3 66.2 0 0 0 162.9 401.6ZM158.9 379.0L150.4 379.0A75.8 74.5 0 0 1 151.6 366.1L159.9 367.5A67.3 66.2 0 0 0 158.9 379.0ZM162.9 356.4L155.0 353.5A75.8 74.5 0 0 1 160.6 341.8L167.9 345.9A67.3 66.2 0 0 0 162.9 356.4ZM279.8 326.3L285.7 320.5A84.2 82.8 0 0 1 295.1 331.5L288.3 336.3A75.8 74.5 0 0 0 279.8 326.3ZM294.9 347.5L302.5 344.0A84.2 82.8 0 0 1 305.3 350.7L297.4 353.5A75.8 74.5 0 0 0 294.9 347.5ZM301.9 379.0L310.4 379.0A84.2 82.8 0 0 1 310.0 386.2L301.7 385.5A75.8 74.5 0 0 0 301.9 379.0ZM297.4 404.5L305.3 407.3A84.2 82.8 0 0 1 295.1 426.5L288.3 421.7A75.8 74.5 0 0 0 297.4 404.5ZM284.2 426.9L290.7 432.2A84.2 82.8 0 0 1 285.7 437.5L279.8 431.7A75.8 74.5 0 0 0 284.2 426.9ZM258.2 446.5L261.8 454.0A84.2 82.8 0 0 1 255.0 456.8L252.1 449.0A75.8 74.5 0 0 0 258.2 446.5ZM232.8 453.2L233.5 461.5A84.2 82.8 0 0 1 226.2 461.8L226.2 453.5A75.8 74.5 0 0 0 232.8 453.2ZM213.0 452.4L211.6 460.5A84.2 82.8 0 0 1 190.6 454.0L194.2 446.5A75.8 74.5 0 0 0 213.0 452.4ZM188.3 443.5L184.1 450.7A84.2 82.8 0 0 1 177.9 446.8L182.8 440.0A75.8 74.5 0 0 0 188.3 443.5ZM172.6 431.7L166.7 437.5A84.2 82.8 0 0 1 149.9 414.0L157.5 410.5A75.8 74.5 0 0 0 172.6 431.7ZM155.0 353.5L147.1 350.7A84.2 82.8 0 0 1 153.3 337.6L160.6 341.8A75.8 74.5 0 0 0 155.0 353.5ZM188.3 314.5L184.1 307.3A84.2 82.8 0 0 1 190.6 304.0L194.2 311.5A75.8 74.5 0 0 0 188.3 314.5ZM268.3 307.3L272.5 300.1A92.6 91.1 0 0 1 279.3 304.4L274.5 311.2A84.2 82.8 0 0 0 268.3 307.3ZM285.7 320.5L291.7 314.6A92.6 91.1 0 0 1 297.1 320.5L290.7 325.8A84.2 82.8 0 0 0 285.7 320.5ZM310.4 379.0L318.8 379.0A92.6 91.1 0 0 1 315.6 402.6L307.5 400.4A84.2 82.8 0 0 0 310.4 379.0ZM290.7 432.2L297.1 437.5A92.6 91.1 0 0 1 291.7 443.4L285.7 437.5A84.2 82.8 0 0 0 290.7 432.2ZM211.6 460.5L210.1 468.7A92.6 91.1 0 0 1 202.2 467.0L204.4 459.0A84.2 82.8 0 0 0 211.6 460.5ZM197.4 456.8L194.5 464.6A92.6 91.1 0 0 1 187.1 461.5L190.6 454.0A84.2 82.8 0 0 0 197.4 456.8ZM161.7 432.2L155.3 437.5A92.6 91.1 0 0 1 150.4 431.2L157.3 426.5A84.2 82.8 0 0 0 161.7 432.2ZM149.9 414.0L142.3 417.5A92.6 91.1 0 0 1 135.0 394.8L143.3 393.4A84.2 82.8 0 0 0 149.9 414.0ZM147.1 350.7L139.2 347.9A92.6 91.1 0 0 1 142.3 340.5L149.9 344.0A84.2 82.8 0 0 0 147.1 350.7ZM184.1 307.3L179.9 300.1A92.6 91.1 0 0 1 194.5 293.4L197.4 301.2A84.2 82.8 0 0 0 184.1 307.3ZM285.7 309.2L291.1 302.9A101.0 99.3 0 0 1 297.6 308.8L291.7 314.6A92.6 91.1 0 0 0 285.7 309.2ZM315.6 355.4L323.8 353.3A101.0 99.3 0 0 1 325.7 361.8L317.4 363.2A92.6 91.1 0 0 0 315.6 355.4ZM318.4 386.9L326.8 387.7A101.0 99.3 0 0 1 323.8 404.7L315.6 402.6A92.6 91.1 0 0 0 318.4 386.9ZM310.1 417.5L317.7 421.0A101.0 99.3 0 0 1 313.7 428.7L306.4 424.5A92.6 91.1 0 0 0 310.1 417.5ZM226.2 470.1L226.2 478.3A101.0 99.3 0 0 1 217.4 478.0L218.1 469.7A92.6 91.1 0 0 0 226.2 470.1ZM187.1 461.5L183.5 469.0A101.0 99.3 0 0 1 175.7 465.0L179.9 457.9A92.6 91.1 0 0 0 187.1 461.5ZM150.4 431.2L143.5 436.0A101.0 99.3 0 0 1 138.7 428.7L146.0 424.5A92.6 91.1 0 0 0 150.4 431.2ZM136.8 402.6L128.6 404.7A101.0 99.3 0 0 1 126.7 396.2L135.0 394.8A92.6 91.1 0 0 0 136.8 402.6ZM135.0 363.2L126.7 361.8A101.0 99.3 0 0 1 128.6 353.3L136.8 355.4A92.6 91.1 0 0 0 135.0 363.2ZM142.3 340.5L134.7 337.0A101.0 99.3 0 0 1 138.7 329.3L146.0 333.5A92.6 91.1 0 0 0 142.3 340.5ZM194.5 293.4L191.7 285.7A101.0 99.3 0 0 1 200.1 283.1L202.2 291.0A92.6 91.1 0 0 0 194.5 293.4ZM210.1 289.3L208.7 281.2A101.0 99.3 0 0 1 217.4 280.0L218.1 288.3A92.6 91.1 0 0 0 210.1 289.3ZM235.0 280.0L235.7 271.8A109.4 107.6 0 0 1 254.5 275.1L252.3 283.1A101.0 99.3 0 0 0 235.0 280.0ZM276.7 293.0L280.9 285.8A109.4 107.6 0 0 1 289.0 290.9L284.1 297.6A101.0 99.3 0 0 0 276.7 293.0ZM308.9 322.0L315.8 317.3A109.4 107.6 0 0 1 321.0 325.2L313.7 329.3A101.0 99.3 0 0 0 308.9 322.0ZM323.8 404.7L331.9 406.9A109.4 107.6 0 0 1 329.0 415.8L321.1 413.0A101.0 99.3 0 0 0 323.8 404.7ZM308.9 436.0L315.8 440.7A109.4 107.6 0 0 1 310.0 448.2L303.6 442.9A101.0 99.3 0 0 0 308.9 436.0ZM243.7 476.8L245.2 485.0A109.4 107.6 0 0 1 207.2 485.0L208.7 476.8A101.0 99.3 0 0 0 243.7 476.8ZM183.5 469.0L180.0 476.5A109.4 107.6 0 0 1 171.5 472.2L175.7 465.0A101.0 99.3 0 0 0 183.5 469.0ZM125.6 370.3L117.2 369.6A109.4 107.6 0 0 1 118.4 360.3L126.7 361.8A101.0 99.3 0 0 0 125.6 370.3ZM217.4 280.0L216.7 271.8A109.4 107.6 0 0 1 226.2 271.4L226.2 279.7A101.0 99.3 0 0 0 217.4 280.0ZM226.2 271.4L226.2 263.1A117.8 115.9 0 0 1 256.7 267.1L254.5 275.1A109.4 107.6 0 0 0 226.2 271.4ZM335.6 379.0L344.0 379.0A117.8 115.9 0 0 1 343.6 389.1L335.2 388.4A109.4 107.6 0 0 0 335.6 379.0ZM321.0 432.8L328.2 436.9A117.8 115.9 0 0 1 322.7 445.5L315.8 440.7A109.4 107.6 0 0 0 321.0 432.8ZM280.9 472.2L285.1 479.4A117.8 115.9 0 0 1 276.0 484.0L272.4 476.5A109.4 107.6 0 0 0 280.9 472.2ZM245.2 485.0L246.7 493.1A117.8 115.9 0 0 1 236.5 494.4L235.7 486.2A109.4 107.6 0 0 0 245.2 485.0ZM226.2 486.6L226.2 494.9A117.8 115.9 0 0 1 195.7 490.9L197.9 482.9A109.4 107.6 0 0 0 226.2 486.6ZM180.0 476.5L176.4 484.0A117.8 115.9 0 0 1 167.3 479.4L171.5 472.2A109.4 107.6 0 0 0 180.0 476.5ZM155.9 461.4L150.5 467.8A117.8 115.9 0 0 1 142.9 460.9L148.8 455.1A109.4 107.6 0 0 0 155.9 461.4ZM116.8 379.0L108.4 379.0A117.8 115.9 0 0 1 108.8 368.9L117.2 369.6A109.4 107.6 0 0 0 116.8 379.0ZM155.9 296.6L150.5 290.2A117.8 115.9 0 0 1 158.6 284.1L163.4 290.9A109.4 107.6 0 0 0 155.9 296.6ZM216.7 271.8L215.9 263.6A117.8 115.9 0 0 1 226.2 263.1L226.2 271.4A109.4 107.6 0 0 0 216.7 271.8ZM236.5 263.6L237.2 255.3A126.2 124.2 0 0 1 258.9 259.1L256.7 267.1A117.8 115.9 0 0 0 236.5 263.6ZM301.9 290.2L307.4 283.9A126.2 124.2 0 0 1 322.9 299.2L316.5 304.5A117.8 115.9 0 0 0 301.9 290.2ZM328.2 321.1L335.5 316.9A126.2 124.2 0 0 1 340.6 326.5L333.0 330.0A117.8 115.9 0 0 0 328.2 321.1ZM342.2 358.9L350.5 357.4A126.2 124.2 0 0 1 352.0 389.8L343.6 389.1A117.8 115.9 0 0 0 342.2 358.9ZM333.0 428.0L340.6 431.5A126.2 124.2 0 0 1 335.5 441.1L328.2 436.9A117.8 115.9 0 0 0 333.0 428.0ZM309.5 460.9L315.5 466.8A126.2 124.2 0 0 1 307.4 474.1L301.9 467.8A117.8 115.9 0 0 0 309.5 460.9ZM215.9 494.4L215.2 502.7A126.2 124.2 0 0 1 204.3 501.3L205.7 493.1A117.8 115.9 0 0 0 215.9 494.4ZM167.3 479.4L163.1 486.5A126.2 124.2 0 0 1 153.8 480.7L158.6 473.9A117.8 115.9 0 0 0 167.3 479.4ZM150.5 467.8L145.0 474.1A126.2 124.2 0 0 1 136.9 466.8L142.9 460.9A117.8 115.9 0 0 0 150.5 467.8ZM124.2 436.9L116.9 441.1A126.2 124.2 0 0 1 104.3 411.1L112.4 409.0A117.8 115.9 0 0 0 124.2 436.9ZM108.8 389.1L100.4 389.8A126.2 124.2 0 0 1 100.4 368.2L108.8 368.9A117.8 115.9 0 0 0 108.8 389.1ZM119.4 330.0L111.8 326.5A126.2 124.2 0 0 1 116.9 316.9L124.2 321.1A117.8 115.9 0 0 0 119.4 330.0ZM150.5 290.2L145.0 283.9A126.2 124.2 0 0 1 153.8 277.3L158.6 284.1A117.8 115.9 0 0 0 150.5 290.2ZM215.9 263.6L215.2 255.3A126.2 124.2 0 0 1 226.2 254.8L226.2 263.1A117.8 115.9 0 0 0 215.9 263.6ZM237.2 255.3L237.9 247.1A134.7 132.4 0 0 1 249.6 248.6L248.1 256.7A126.2 124.2 0 0 0 237.2 255.3ZM315.5 291.2L321.4 285.3A134.7 132.4 0 0 1 329.4 293.9L322.9 299.2A126.2 124.2 0 0 0 315.5 291.2ZM335.5 316.9L342.8 312.8A134.7 132.4 0 0 1 348.2 323.0L340.6 326.5A126.2 124.2 0 0 0 335.5 316.9ZM344.8 336.5L352.7 333.7A134.7 132.4 0 0 1 360.9 379.0L352.4 379.0A126.2 124.2 0 0 0 344.8 336.5ZM352.0 389.8L360.4 390.5A134.7 132.4 0 0 1 358.8 402.0L350.5 400.6A126.2 124.2 0 0 0 352.0 389.8ZM340.6 431.5L348.2 435.0A134.7 132.4 0 0 1 342.8 445.2L335.5 441.1A126.2 124.2 0 0 0 340.6 431.5ZM269.4 495.7L272.3 503.5A134.7 132.4 0 0 1 261.1 506.9L258.9 498.9A126.2 124.2 0 0 0 269.4 495.7ZM163.1 486.5L158.9 493.7A134.7 132.4 0 0 1 149.0 487.5L153.8 480.7A126.2 124.2 0 0 0 163.1 486.5ZM145.0 474.1L139.6 480.5A134.7 132.4 0 0 1 131.0 472.7L136.9 466.8A126.2 124.2 0 0 0 145.0 474.1ZM104.3 411.1L96.1 413.3A134.7 132.4 0 0 1 91.5 379.0L99.9 379.0A126.2 124.2 0 0 0 104.3 411.1ZM111.8 326.5L104.2 323.0A134.7 132.4 0 0 1 109.6 312.8L116.9 316.9A126.2 124.2 0 0 0 111.8 326.5ZM215.2 255.3L214.5 247.1A134.7 132.4 0 0 1 226.2 246.6L226.2 254.8A126.2 124.2 0 0 0 215.2 255.3ZM237.9 247.1L238.7 238.8A143.1 140.7 0 0 1 251.0 240.4L249.6 248.6A134.7 132.4 0 0 0 237.9 247.1ZM261.1 251.1L263.2 243.1A143.1 140.7 0 0 1 275.1 246.8L272.3 254.5A134.7 132.4 0 0 0 261.1 251.1ZM321.4 285.3L327.4 279.5A143.1 140.7 0 0 1 335.8 288.5L329.4 293.9A134.7 132.4 0 0 0 321.4 285.3ZM342.8 312.8L350.1 308.6A143.1 140.7 0 0 1 369.3 379.0L360.9 379.0A134.7 132.4 0 0 0 342.8 312.8ZM360.4 390.5L368.7 391.3A143.1 140.7 0 0 1 367.1 403.4L358.8 402.0A134.7 132.4 0 0 0 360.4 390.5ZM283.1 499.0L286.7 506.5A143.1 140.7 0 0 1 275.1 511.2L272.3 503.5A134.7 132.4 0 0 0 283.1 499.0ZM249.6 509.4L251.0 517.6A143.1 140.7 0 0 1 226.2 519.7L226.2 511.4A134.7 132.4 0 0 0 249.6 509.4ZM180.1 503.5L177.3 511.2A143.1 140.7 0 0 1 165.7 506.5L169.3 499.0A134.7 132.4 0 0 0 180.1 503.5ZM93.6 402.0L85.3 403.4A143.1 140.7 0 0 1 83.7 391.3L92.0 390.5A134.7 132.4 0 0 0 93.6 402.0ZM104.2 323.0L96.5 319.5A143.1 140.7 0 0 1 102.3 308.6L109.6 312.8A134.7 132.4 0 0 0 104.2 323.0ZM131.0 285.3L125.0 279.5A143.1 140.7 0 0 1 134.2 271.2L139.6 277.5A134.7 132.4 0 0 0 131.0 285.3ZM214.5 247.1L213.7 238.8A143.1 140.7 0 0 1 226.2 238.3L226.2 246.6A134.7 132.4 0 0 0 214.5 247.1ZM238.7 238.8L239.4 230.6A151.5 149.0 0 0 1 252.5 232.3L251.0 240.4A143.1 140.7 0 0 0 238.7 238.8ZM263.2 243.1L265.4 235.1A151.5 149.0 0 0 1 278.0 239.0L275.1 246.8A143.1 140.7 0 0 0 263.2 243.1ZM297.7 257.1L301.9 250.0A151.5 149.0 0 0 1 313.1 256.9L308.3 263.7A143.1 140.7 0 0 0 297.7 257.1ZM318.2 271.2L323.6 264.9A151.5 149.0 0 0 1 342.3 283.2L335.8 288.5A143.1 140.7 0 0 0 318.2 271.2ZM350.1 308.6L357.4 304.5A151.5 149.0 0 0 1 368.6 328.0L360.7 330.9A143.1 140.7 0 0 0 350.1 308.6ZM364.4 342.6L372.5 340.4A151.5 149.0 0 0 1 375.4 353.1L367.1 354.6A143.1 140.7 0 0 0 364.4 342.6ZM369.3 379.0L377.7 379.0A151.5 149.0 0 0 1 377.1 392.0L368.7 391.3A143.1 140.7 0 0 0 369.3 379.0ZM367.1 403.4L375.4 404.9A151.5 149.0 0 0 1 372.5 417.6L364.4 415.4A143.1 140.7 0 0 0 367.1 403.4ZM355.9 438.5L363.5 442.0A151.5 149.0 0 0 1 357.4 453.5L350.1 449.4A143.1 140.7 0 0 0 355.9 438.5ZM263.2 514.9L265.4 522.9A151.5 149.0 0 0 1 252.5 525.7L251.0 517.6A143.1 140.7 0 0 0 263.2 514.9ZM226.2 519.7L226.2 528.0A151.5 149.0 0 0 1 199.9 525.7L201.4 517.6A143.1 140.7 0 0 0 226.2 519.7ZM125.0 279.5L119.1 273.6A151.5 149.0 0 0 1 128.8 264.9L134.2 271.2A143.1 140.7 0 0 0 125.0 279.5Z" fill="#fdae61" stroke="#fdae61" stroke-width="0.4"/>
<path d="M226.2 387.3L226.2 395.6A16.8 16.6 0 0 1 217.8 393.3L222.0 386.2A8.4 8.3 0 0 0 226.2 387.3ZM222.0 371.8L217.8 364.7A16.8 16.6 0 0 1 226.2 362.4L226.2 370.7A8.4 8.3 0 0 0 222.0 371.8ZM193.0 384.7L184.8 386.2A42.1 41.4 0 0 1 184.1 379.0L192.5 379.0A33.7 33.1 0 0 0 193.0 384.7ZM184.8 386.2L176.5 387.6A50.5 49.7 0 0 1 175.7 379.0L184.1 379.0A42.1 41.4 0 0 0 184.8 386.2ZM176.5 387.6L168.2 389.1A58.9 57.9 0 0 1 167.3 379.0L175.7 379.0A50.5 49.7 0 0 0 176.5 387.6ZM281.6 398.8L289.5 401.6A67.3 66.2 0 0 1 284.5 412.1L277.2 408.0A58.9 57.9 0 0 0 281.6 398.8ZM206.0 433.4L203.2 441.2A67.3 66.2 0 0 1 192.5 436.4L196.7 429.2A58.9 57.9 0 0 0 206.0 433.4ZM249.2 316.8L252.1 309.0A75.8 74.5 0 0 1 264.1 314.5L259.9 321.6A67.3 66.2 0 0 0 249.2 316.8ZM291.2 396.1L299.4 398.3A75.8 74.5 0 0 1 294.9 410.5L287.2 407.0A67.3 66.2 0 0 0 291.2 396.1ZM249.2 441.2L252.1 449.0A75.8 74.5 0 0 1 239.4 452.4L237.9 444.2A67.3 66.2 0 0 0 249.2 441.2ZM220.3 313.0L219.6 304.8A75.8 74.5 0 0 1 226.2 304.5L226.2 312.8A67.3 66.2 0 0 0 220.3 313.0ZM245.8 307.0L248.0 299.0A84.2 82.8 0 0 1 261.8 304.0L258.2 311.5A75.8 74.5 0 0 0 245.8 307.0ZM245.8 451.0L248.0 459.0A84.2 82.8 0 0 1 233.5 461.5L232.8 453.2A75.8 74.5 0 0 0 245.8 451.0ZM248.0 299.0L250.2 291.0A92.6 91.1 0 0 1 257.9 293.4L255.0 301.2A84.2 82.8 0 0 0 248.0 299.0ZM248.0 459.0L250.2 467.0A92.6 91.1 0 0 1 234.3 469.7L233.5 461.5A84.2 82.8 0 0 0 248.0 459.0ZM310.1 340.5L317.7 337.0A101.0 99.3 0 0 1 323.8 353.3L315.6 355.4A92.6 91.1 0 0 0 310.1 340.5ZM242.3 468.7L243.7 476.8A101.0 99.3 0 0 1 235.0 478.0L234.3 469.7A92.6 91.1 0 0 0 242.3 468.7ZM148.8 455.1L142.9 460.9A117.8 115.9 0 0 1 135.9 453.5L142.4 448.2A109.4 107.6 0 0 0 148.8 455.1ZM118.4 360.3L110.2 358.9A117.8 115.9 0 0 1 115.5 339.4L123.4 342.2A109.4 107.6 0 0 0 118.4 360.3ZM180.0 281.5L176.4 274.0A117.8 115.9 0 0 1 185.9 270.1L188.8 277.9A109.4 107.6 0 0 0 180.0 281.5ZM142.9 460.9L136.9 466.8A126.2 124.2 0 0 1 122.8 450.2L129.7 445.5A117.8 115.9 0 0 0 142.9 460.9ZM108.8 368.9L100.4 368.2A126.2 124.2 0 0 1 107.6 336.5L115.5 339.4A117.8 115.9 0 0 0 108.8 368.9ZM176.4 274.0L172.8 266.5A126.2 124.2 0 0 1 183.0 262.3L185.9 270.1A117.8 115.9 0 0 0 176.4 274.0ZM205.7 264.9L204.3 256.7A126.2 124.2 0 0 1 215.2 255.3L215.9 263.6A117.8 115.9 0 0 0 205.7 264.9ZM279.6 266.5L283.1 259.0A134.7 132.4 0 0 1 293.5 264.3L289.3 271.5A126.2 124.2 0 0 0 279.6 266.5ZM136.9 466.8L131.0 472.7A134.7 132.4 0 0 1 115.9 455.0L122.8 450.2A126.2 124.2 0 0 0 136.9 466.8ZM100.4 368.2L92.0 367.5A134.7 132.4 0 0 1 96.1 344.7L104.3 346.9A126.2 124.2 0 0 0 100.4 368.2ZM172.8 266.5L169.3 259.0A134.7 132.4 0 0 1 180.1 254.5L183.0 262.3A126.2 124.2 0 0 0 172.8 266.5ZM193.5 259.1L191.3 251.1A134.7 132.4 0 0 1 214.5 247.1L215.2 255.3A126.2 124.2 0 0 0 193.5 259.1ZM283.1 259.0L286.7 251.5A143.1 140.7 0 0 1 297.7 257.1L293.5 264.3A134.7 132.4 0 0 0 283.1 259.0ZM131.0 472.7L125.0 478.5A143.1 140.7 0 0 1 109.0 459.7L115.9 455.0A134.7 132.4 0 0 0 131.0 472.7ZM92.0 367.5L83.7 366.7A143.1 140.7 0 0 1 88.0 342.6L96.1 344.7A134.7 132.4 0 0 0 92.0 367.5ZM202.8 248.6L201.4 240.4A143.1 140.7 0 0 1 213.7 238.8L214.5 247.1A134.7 132.4 0 0 0 202.8 248.6ZM125.0 478.5L119.1 484.4A151.5 149.0 0 0 1 110.1 474.8L116.6 469.5A143.1 140.7 0 0 0 125.0 478.5ZM83.7 366.7L75.3 366.0A151.5 149.0 0 0 1 79.9 340.4L88.0 342.6A143.1 140.7 0 0 0 83.7 366.7Z" fill="#ee6940" stroke="#ee6940" stroke-width="0.4"/>
<path d="M232.0 363.4L234.8 355.7A25.2 24.8 0 0 1 242.4 360.0L237.0 366.3A16.8 16.6 0 0 0 232.0 363.4ZM153.0 359.7L144.9 357.6A84.2 82.8 0 0 1 147.1 350.7L155.0 353.5A75.8 74.5 0 0 0 153.0 359.7Z" fill="#2b3a95" stroke="#2b3a95" stroke-width="0.4"/>
<path d="M237.0 366.3L242.4 360.0A25.2 24.8 0 0 1 248.1 366.6L240.8 370.7A16.8 16.6 0 0 0 237.0 366.3ZM244.1 396.6L250.0 402.4A33.7 33.1 0 0 1 243.0 407.7L238.8 400.5A25.2 24.8 0 0 0 244.1 396.6ZM237.7 410.1L240.6 417.9A42.1 41.4 0 0 1 233.5 419.8L232.0 411.6A33.7 33.1 0 0 0 237.7 410.1ZM265.7 364.8L273.7 362.0A50.5 49.7 0 0 1 275.9 370.4L267.6 371.8A42.1 41.4 0 0 0 265.7 364.8ZM236.4 436.1L237.9 444.2A67.3 66.2 0 0 1 226.2 445.2L226.2 436.9A58.9 57.9 0 0 0 236.4 436.1ZM265.3 296.5L268.9 289.0A101.0 99.3 0 0 1 276.7 293.0L272.5 300.1A92.6 91.1 0 0 0 265.3 296.5ZM325.7 361.8L334.0 360.3A109.4 107.6 0 0 1 335.2 369.6L326.8 370.3A101.0 99.3 0 0 0 325.7 361.8ZM125.6 387.7L117.2 388.4A109.4 107.6 0 0 1 116.8 379.0L125.2 379.0A101.0 99.3 0 0 0 125.6 387.7ZM118.4 397.7L110.2 399.1A117.8 115.9 0 0 1 108.8 389.1L117.2 388.4A109.4 107.6 0 0 0 118.4 397.7ZM188.8 277.9L185.9 270.1A117.8 115.9 0 0 1 195.7 267.1L197.9 275.1A109.4 107.6 0 0 0 188.8 277.9ZM322.7 445.5L329.6 450.2A126.2 124.2 0 0 1 322.9 458.8L316.5 453.5A117.8 115.9 0 0 0 322.7 445.5ZM185.9 270.1L183.0 262.3A126.2 124.2 0 0 1 193.5 259.1L195.7 267.1A117.8 115.9 0 0 0 185.9 270.1ZM129.5 299.2L123.0 293.9A134.7 132.4 0 0 1 131.0 285.3L136.9 291.2A126.2 124.2 0 0 0 129.5 299.2ZM336.5 455.0L343.4 459.7A143.1 140.7 0 0 1 335.8 469.5L329.4 464.1A134.7 132.4 0 0 0 336.5 455.0Z" fill="#6c9fd0" stroke="#6c9fd0" stroke-width="0.4"/>
<path d="M242.8 381.9L251.1 383.3A25.2 24.8 0 0 1 248.1 391.4L240.8 387.3A16.8 16.6 0 0 0 242.8 381.9ZM209.4 407.7L205.2 414.8A42.1 41.4 0 0 1 194.0 405.6L200.4 400.3A33.7 33.1 0 0 0 209.4 407.7ZM197.0 362.4L189.8 358.3A42.1 41.4 0 0 1 194.0 352.4L200.4 357.7A33.7 33.1 0 0 0 197.0 362.4ZM265.7 393.2L273.7 396.0A50.5 49.7 0 0 1 269.9 403.8L262.6 399.7A42.1 41.4 0 0 0 265.7 393.2ZM240.6 417.9L243.5 425.7A50.5 49.7 0 0 1 235.0 427.9L233.5 419.8A42.1 41.4 0 0 0 240.6 417.9ZM200.9 422.0L196.7 429.2A58.9 57.9 0 0 1 181.1 416.2L187.5 410.9A50.5 49.7 0 0 0 200.9 422.0ZM208.9 332.3L206.0 324.6A58.9 57.9 0 0 1 216.0 321.9L217.4 330.1A50.5 49.7 0 0 0 208.9 332.3ZM196.7 328.8L192.5 321.6A67.3 66.2 0 0 1 203.2 316.8L206.0 324.6A58.9 57.9 0 0 0 196.7 328.8ZM161.2 361.9L153.0 359.7A75.8 74.5 0 0 1 155.0 353.5L162.9 356.4A67.3 66.2 0 0 0 161.2 361.9ZM187.6 324.8L182.8 318.0A75.8 74.5 0 0 1 188.3 314.5L192.5 321.6A67.3 66.2 0 0 0 187.6 324.8ZM177.5 321.9L172.1 315.6A84.2 82.8 0 0 1 177.9 311.2L182.8 318.0A75.8 74.5 0 0 0 177.5 321.9ZM226.2 461.8L226.2 470.1A92.6 91.1 0 0 1 218.1 469.7L218.9 461.5A84.2 82.8 0 0 0 226.2 461.8ZM157.3 426.5L150.4 431.2A92.6 91.1 0 0 1 146.0 424.5L153.3 420.4A84.2 82.8 0 0 0 157.3 426.5ZM143.3 364.6L135.0 363.2A92.6 91.1 0 0 1 136.8 355.4L144.9 357.6A84.2 82.8 0 0 0 143.3 364.6ZM166.7 320.5L160.7 314.6A92.6 91.1 0 0 1 179.9 300.1L184.1 307.3A84.2 82.8 0 0 0 166.7 320.5ZM139.2 410.1L131.3 413.0A101.0 99.3 0 0 1 128.6 404.7L136.8 402.6A92.6 91.1 0 0 0 139.2 410.1ZM218.1 288.3L217.4 280.0A101.0 99.3 0 0 1 226.2 279.7L226.2 287.9A92.6 91.1 0 0 0 218.1 288.3ZM303.6 315.1L310.0 309.8A109.4 107.6 0 0 1 315.8 317.3L308.9 322.0A101.0 99.3 0 0 0 303.6 315.1ZM326.8 370.3L335.2 369.6A109.4 107.6 0 0 1 335.6 379.0L327.2 379.0A101.0 99.3 0 0 0 326.8 370.3ZM297.6 449.2L303.6 455.1A109.4 107.6 0 0 1 296.5 461.4L291.1 455.1A101.0 99.3 0 0 0 297.6 449.2ZM200.1 474.9L197.9 482.9A109.4 107.6 0 0 1 188.8 480.1L191.7 472.3A101.0 99.3 0 0 0 200.1 474.9ZM148.8 315.1L142.4 309.8A109.4 107.6 0 0 1 155.9 296.6L161.3 302.9A101.0 99.3 0 0 0 148.8 315.1ZM303.6 302.9L309.5 297.1A117.8 115.9 0 0 1 316.5 304.5L310.0 309.8A109.4 107.6 0 0 0 303.6 302.9ZM331.9 351.1L340.0 349.0A117.8 115.9 0 0 1 342.2 358.9L334.0 360.3A109.4 107.6 0 0 0 331.9 351.1ZM296.5 461.4L301.9 467.8A117.8 115.9 0 0 1 293.8 473.9L289.0 467.1A109.4 107.6 0 0 0 296.5 461.4ZM188.8 480.1L185.9 487.9A117.8 115.9 0 0 1 176.4 484.0L180.0 476.5A109.4 107.6 0 0 0 188.8 480.1ZM148.8 302.9L142.9 297.1A117.8 115.9 0 0 1 150.5 290.2L155.9 296.6A109.4 107.6 0 0 0 148.8 302.9ZM316.5 304.5L322.9 299.2A126.2 124.2 0 0 1 329.6 307.8L322.7 312.5A117.8 115.9 0 0 0 316.5 304.5ZM293.8 473.9L298.6 480.7A126.2 124.2 0 0 1 289.3 486.5L285.1 479.4A117.8 115.9 0 0 0 293.8 473.9ZM185.9 487.9L183.0 495.7A126.2 124.2 0 0 1 172.8 491.5L176.4 484.0A117.8 115.9 0 0 0 185.9 487.9ZM158.6 473.9L153.8 480.7A126.2 124.2 0 0 1 145.0 474.1L150.5 467.8A117.8 115.9 0 0 0 158.6 473.9ZM129.7 312.5L122.8 307.8A126.2 124.2 0 0 1 129.5 299.2L135.9 304.5A117.8 115.9 0 0 0 129.7 312.5ZM322.9 458.8L329.4 464.1A134.7 132.4 0 0 1 321.4 472.7L315.5 466.8A126.2 124.2 0 0 0 322.9 458.8ZM226.2 503.2L226.2 511.4A134.7 132.4 0 0 1 214.5 510.9L215.2 502.7A126.2 124.2 0 0 0 226.2 503.2ZM122.8 307.8L115.9 303.0A134.7 132.4 0 0 1 123.0 293.9L129.5 299.2A126.2 124.2 0 0 0 122.8 307.8ZM329.4 464.1L335.8 469.5A143.1 140.7 0 0 1 327.4 478.5L321.4 472.7A134.7 132.4 0 0 0 329.4 464.1ZM115.9 303.0L109.0 298.3A143.1 140.7 0 0 1 125.0 279.5L131.0 285.3A134.7 132.4 0 0 0 115.9 303.0ZM180.1 254.5L177.3 246.8A143.1 140.7 0 0 1 189.2 243.1L191.3 251.1A134.7 132.4 0 0 0 180.1 254.5ZM350.1 449.4L357.4 453.5A151.5 149.0 0 0 1 350.3 464.5L343.4 459.7A143.1 140.7 0 0 0 350.1 449.4ZM297.7 500.9L302.0 508.0A151.5 149.0 0 0 1 290.2 514.0L286.7 506.5A143.1 140.7 0 0 0 297.7 500.9ZM165.7 506.5L162.2 514.0A151.5 149.0 0 0 1 150.4 508.0L154.7 500.9A143.1 140.7 0 0 0 165.7 506.5ZM144.1 494.3L139.3 501.1A151.5 149.0 0 0 1 128.8 493.1L134.2 486.8A143.1 140.7 0 0 0 144.1 494.3ZM109.0 298.3L102.1 293.5A151.5 149.0 0 0 1 110.1 283.2L116.6 288.5A143.1 140.7 0 0 0 109.0 298.3ZM177.3 246.8L174.4 239.0A151.5 149.0 0 0 1 187.0 235.1L189.2 243.1A143.1 140.7 0 0 0 177.3 246.8ZM213.7 238.8L213.0 230.6A151.5 149.0 0 0 1 226.2 230.0L226.2 238.3A143.1 140.7 0 0 0 213.7 238.8Z" fill="#c3e1ef" stroke="#c3e1ef" stroke-width="0.4"/>
<path d="M226.2 354.2L226.2 345.9A33.7 33.1 0 0 1 234.9 347.0L232.7 355.0A25.2 24.8 0 0 0 226.2 354.2ZM248.1 391.4L255.4 395.6A33.7 33.1 0 0 1 250.0 402.4L244.1 396.6A25.2 24.8 0 0 0 248.1 391.4ZM226.2 345.9L226.2 337.6A42.1 41.4 0 0 1 240.6 340.1L237.7 347.9A33.7 33.1 0 0 0 226.2 345.9ZM205.2 343.2L201.0 336.0A50.5 49.7 0 0 1 208.9 332.3L211.8 340.1A42.1 41.4 0 0 0 205.2 343.2ZM218.9 338.2L217.4 330.1A50.5 49.7 0 0 1 226.2 329.3L226.2 337.6A42.1 41.4 0 0 0 218.9 338.2ZM181.1 416.2L174.6 421.6A67.3 66.2 0 0 1 167.9 412.1L175.2 408.0A58.9 57.9 0 0 0 181.1 416.2ZM182.9 328.3L177.5 321.9A75.8 74.5 0 0 1 182.8 318.0L187.6 324.8A67.3 66.2 0 0 0 182.9 328.3ZM151.6 366.1L143.3 364.6A84.2 82.8 0 0 1 144.9 357.6L153.0 359.7A75.8 74.5 0 0 0 151.6 366.1ZM172.6 326.3L166.7 320.5A84.2 82.8 0 0 1 172.1 315.6L177.5 321.9A75.8 74.5 0 0 0 172.6 326.3ZM182.8 318.0L177.9 311.2A84.2 82.8 0 0 1 184.1 307.3L188.3 314.5A75.8 74.5 0 0 0 182.8 318.0ZM153.3 420.4L146.0 424.5A92.6 91.1 0 0 1 142.3 417.5L149.9 414.0A84.2 82.8 0 0 0 153.3 420.4ZM142.3 417.5L134.7 421.0A101.0 99.3 0 0 1 131.3 413.0L139.2 410.1A92.6 91.1 0 0 0 142.3 417.5ZM155.3 320.5L148.8 315.1A101.0 99.3 0 0 1 154.8 308.8L160.7 314.6A92.6 91.1 0 0 0 155.3 320.5ZM208.7 476.8L207.2 485.0A109.4 107.6 0 0 1 197.9 482.9L200.1 474.9A101.0 99.3 0 0 0 208.7 476.8ZM191.7 472.3L188.8 480.1A109.4 107.6 0 0 1 180.0 476.5L183.5 469.0A101.0 99.3 0 0 0 191.7 472.3ZM161.3 302.9L155.9 296.6A109.4 107.6 0 0 1 163.4 290.9L168.3 297.6A101.0 99.3 0 0 0 161.3 302.9ZM316.5 453.5L322.9 458.8A126.2 124.2 0 0 1 315.5 466.8L309.5 460.9A117.8 115.9 0 0 0 316.5 453.5ZM236.5 494.4L237.2 502.7A126.2 124.2 0 0 1 226.2 503.2L226.2 494.9A117.8 115.9 0 0 0 236.5 494.4ZM298.6 277.3L303.4 270.5A134.7 132.4 0 0 1 312.8 277.5L307.4 283.9A126.2 124.2 0 0 0 298.6 277.3ZM298.6 480.7L303.4 487.5A134.7 132.4 0 0 1 283.1 499.0L279.6 491.5A126.2 124.2 0 0 0 298.6 480.7ZM172.8 491.5L169.3 499.0A134.7 132.4 0 0 1 158.9 493.7L163.1 486.5A126.2 124.2 0 0 0 172.8 491.5ZM303.4 270.5L308.3 263.7A143.1 140.7 0 0 1 318.2 271.2L312.8 277.5A134.7 132.4 0 0 0 303.4 270.5ZM177.3 511.2L174.4 519.0A151.5 149.0 0 0 1 162.2 514.0L165.7 506.5A143.1 140.7 0 0 0 177.3 511.2ZM154.7 500.9L150.4 508.0A151.5 149.0 0 0 1 139.3 501.1L144.1 494.3A143.1 140.7 0 0 0 154.7 500.9ZM116.6 288.5L110.1 283.2A151.5 149.0 0 0 1 119.1 273.6L125.0 279.5A143.1 140.7 0 0 0 116.6 288.5Z" fill="#e3f0ee" stroke="#e3f0ee" stroke-width="0.4"/>
<path d="M238.8 400.5L243.0 407.7A33.7 33.1 0 0 1 234.9 411.0L232.7 403.0A25.2 24.8 0 0 0 238.8 400.5ZM284.5 345.9L291.8 341.8A75.8 74.5 0 0 1 294.9 347.5L287.2 351.0A67.3 66.2 0 0 0 284.5 345.9ZM279.8 431.7L285.7 437.5A84.2 82.8 0 0 1 268.3 450.7L264.1 443.5A75.8 74.5 0 0 0 279.8 431.7ZM307.5 400.4L315.6 402.6A92.6 91.1 0 0 1 306.4 424.5L299.1 420.4A84.2 82.8 0 0 0 307.5 400.4ZM285.7 437.5L291.7 443.4A92.6 91.1 0 0 1 279.3 453.6L274.5 446.8A84.2 82.8 0 0 0 285.7 437.5ZM204.4 459.0L202.2 467.0A92.6 91.1 0 0 1 194.5 464.6L197.4 456.8A84.2 82.8 0 0 0 204.4 459.0ZM297.1 320.5L303.6 315.1A101.0 99.3 0 0 1 308.9 322.0L302.0 326.8A92.6 91.1 0 0 0 297.1 320.5ZM218.1 469.7L217.4 478.0A101.0 99.3 0 0 1 200.1 474.9L202.2 467.0A92.6 91.1 0 0 0 218.1 469.7ZM134.0 386.9L125.6 387.7A101.0 99.3 0 0 1 125.2 379.0L133.6 379.0A92.6 91.1 0 0 0 134.0 386.9ZM150.4 326.8L143.5 322.0A101.0 99.3 0 0 1 148.8 315.1L155.3 320.5A92.6 91.1 0 0 0 150.4 326.8ZM160.7 314.6L154.8 308.8A101.0 99.3 0 0 1 168.3 297.6L173.1 304.4A92.6 91.1 0 0 0 160.7 314.6ZM252.3 283.1L254.5 275.1A109.4 107.6 0 0 1 263.6 277.9L260.7 285.7A101.0 99.3 0 0 0 252.3 283.1ZM284.1 297.6L289.0 290.9A109.4 107.6 0 0 1 296.5 296.6L291.1 302.9A101.0 99.3 0 0 0 284.1 297.6ZM131.3 413.0L123.4 415.8A109.4 107.6 0 0 1 118.4 397.7L126.7 396.2A101.0 99.3 0 0 0 131.3 413.0ZM289.0 290.9L293.8 284.1A117.8 115.9 0 0 1 301.9 290.2L296.5 296.6A109.4 107.6 0 0 0 289.0 290.9ZM334.0 360.3L342.2 358.9A117.8 115.9 0 0 1 344.0 379.0L335.6 379.0A109.4 107.6 0 0 0 334.0 360.3ZM335.2 388.4L343.6 389.1A117.8 115.9 0 0 1 342.2 399.1L334.0 397.7A109.4 107.6 0 0 0 335.2 388.4ZM163.4 467.1L158.6 473.9A117.8 115.9 0 0 1 150.5 467.8L155.9 461.4A109.4 107.6 0 0 0 163.4 467.1ZM322.7 312.5L329.6 307.8A126.2 124.2 0 0 1 335.5 316.9L328.2 321.1A117.8 115.9 0 0 0 322.7 312.5ZM340.0 349.0L348.1 346.9A126.2 124.2 0 0 1 350.5 357.4L342.2 358.9A117.8 115.9 0 0 0 340.0 349.0ZM343.6 389.1L352.0 389.8A126.2 124.2 0 0 1 350.5 400.6L342.2 399.1A117.8 115.9 0 0 0 343.6 389.1ZM328.2 436.9L335.5 441.1A126.2 124.2 0 0 1 329.6 450.2L322.7 445.5A117.8 115.9 0 0 0 328.2 436.9ZM285.1 479.4L289.3 486.5A126.2 124.2 0 0 1 279.6 491.5L276.0 484.0A117.8 115.9 0 0 0 285.1 479.4ZM142.9 297.1L136.9 291.2A126.2 124.2 0 0 1 145.0 283.9L150.5 290.2A117.8 115.9 0 0 0 142.9 297.1ZM183.0 495.7L180.1 503.5A134.7 132.4 0 0 1 169.3 499.0L172.8 491.5A126.2 124.2 0 0 0 183.0 495.7ZM116.9 316.9L109.6 312.8A134.7 132.4 0 0 1 115.9 303.0L122.8 307.8A126.2 124.2 0 0 0 116.9 316.9ZM336.5 303.0L343.4 298.3A143.1 140.7 0 0 1 350.1 308.6L342.8 312.8A134.7 132.4 0 0 0 336.5 303.0ZM343.4 298.3L350.3 293.5A151.5 149.0 0 0 1 357.4 304.5L350.1 308.6A143.1 140.7 0 0 0 343.4 298.3Z" fill="#fddd96" stroke="#fddd96" stroke-width="0.4"/>
<path d="M232.7 403.0L234.9 411.0A33.7 33.1 0 0 1 226.2 412.1L226.2 403.8A25.2 24.8 0 0 0 232.7 403.0ZM197.0 395.6L189.8 399.7A42.1 41.4 0 0 1 186.7 393.2L194.6 390.3A33.7 33.1 0 0 0 197.0 395.6ZM159.1 384.8L150.7 385.5A75.8 74.5 0 0 1 150.4 379.0L158.9 379.0A67.3 66.2 0 0 0 159.1 384.8ZM261.8 454.0L265.3 461.5A92.6 91.1 0 0 1 257.9 464.6L255.0 456.8A84.2 82.8 0 0 0 261.8 454.0ZM146.0 424.5L138.7 428.7A101.0 99.3 0 0 1 134.7 421.0L142.3 417.5A92.6 91.1 0 0 0 146.0 424.5ZM297.6 308.8L303.6 302.9A109.4 107.6 0 0 1 310.0 309.8L303.6 315.1A101.0 99.3 0 0 0 297.6 308.8ZM138.7 329.3L131.4 325.2A109.4 107.6 0 0 1 136.6 317.3L143.5 322.0A101.0 99.3 0 0 0 138.7 329.3ZM310.0 309.8L316.5 304.5A117.8 115.9 0 0 1 322.7 312.5L315.8 317.3A109.4 107.6 0 0 0 310.0 309.8ZM135.9 304.5L129.5 299.2A126.2 124.2 0 0 1 136.9 291.2L142.9 297.1A117.8 115.9 0 0 0 135.9 304.5ZM329.6 450.2L336.5 455.0A134.7 132.4 0 0 1 329.4 464.1L322.9 458.8A126.2 124.2 0 0 0 329.6 450.2ZM153.8 480.7L149.0 487.5A134.7 132.4 0 0 1 139.6 480.5L145.0 474.1A126.2 124.2 0 0 0 153.8 480.7ZM149.0 487.5L144.1 494.3A143.1 140.7 0 0 1 134.2 486.8L139.6 480.5A134.7 132.4 0 0 0 149.0 487.5ZM343.4 459.7L350.3 464.5A151.5 149.0 0 0 1 342.3 474.8L335.8 469.5A143.1 140.7 0 0 0 343.4 459.7ZM308.3 494.3L313.1 501.1A151.5 149.0 0 0 1 302.0 508.0L297.7 500.9A143.1 140.7 0 0 0 308.3 494.3ZM102.3 308.6L95.0 304.5A151.5 149.0 0 0 1 102.1 293.5L109.0 298.3A143.1 140.7 0 0 0 102.3 308.6Z" fill="#4575b4" stroke="#4575b4" stroke-width="0.4"/>
<path d="M226.2 436.9L226.2 445.2A67.3 66.2 0 0 1 214.5 444.2L216.0 436.1A58.9 57.9 0 0 0 226.2 436.9ZM188.3 423.4L182.9 429.7A67.3 66.2 0 0 1 174.6 421.6L181.1 416.2A58.9 57.9 0 0 0 188.3 423.4ZM167.3 379.0L158.9 379.0A67.3 66.2 0 0 1 159.9 367.5L168.2 368.9A58.9 57.9 0 0 0 167.3 379.0ZM226.2 445.2L226.2 453.5A75.8 74.5 0 0 1 219.6 453.2L220.3 445.0A67.3 66.2 0 0 0 226.2 445.2ZM178.6 425.8L172.6 431.7A75.8 74.5 0 0 1 164.1 421.7L171.0 417.0A67.3 66.2 0 0 0 178.6 425.8ZM300.8 391.9L309.1 393.4A84.2 82.8 0 0 1 307.5 400.4L299.4 398.3A75.8 74.5 0 0 0 300.8 391.9ZM218.9 461.5L218.1 469.7A92.6 91.1 0 0 1 210.1 468.7L211.6 460.5A84.2 82.8 0 0 0 218.9 461.5ZM318.4 371.1L326.8 370.3A101.0 99.3 0 0 1 327.2 379.0L318.8 379.0A92.6 91.1 0 0 0 318.4 371.1ZM202.2 467.0L200.1 474.9A101.0 99.3 0 0 1 191.7 472.3L194.5 464.6A92.6 91.1 0 0 0 202.2 467.0ZM133.6 379.0L125.2 379.0A101.0 99.3 0 0 1 125.6 370.3L134.0 371.1A92.6 91.1 0 0 0 133.6 379.0ZM260.7 285.7L263.6 277.9A109.4 107.6 0 0 1 272.4 281.5L268.9 289.0A101.0 99.3 0 0 0 260.7 285.7ZM291.1 455.1L296.5 461.4A109.4 107.6 0 0 1 289.0 467.1L284.1 460.4A101.0 99.3 0 0 0 291.1 455.1ZM134.7 421.0L127.0 424.5A109.4 107.6 0 0 1 123.4 415.8L131.3 413.0A101.0 99.3 0 0 0 134.7 421.0ZM126.7 396.2L118.4 397.7A109.4 107.6 0 0 1 117.2 388.4L125.6 387.7A101.0 99.3 0 0 0 126.7 396.2ZM235.7 486.2L236.5 494.4A117.8 115.9 0 0 1 226.2 494.9L226.2 486.6A109.4 107.6 0 0 0 235.7 486.2ZM142.4 309.8L135.9 304.5A117.8 115.9 0 0 1 142.9 297.1L148.8 302.9A109.4 107.6 0 0 0 142.4 309.8ZM183.0 262.3L180.1 254.5A134.7 132.4 0 0 1 191.3 251.1L193.5 259.1A126.2 124.2 0 0 0 183.0 262.3ZM293.5 493.7L297.7 500.9A143.1 140.7 0 0 1 286.7 506.5L283.1 499.0A134.7 132.4 0 0 0 293.5 493.7ZM226.2 511.4L226.2 519.7A143.1 140.7 0 0 1 213.7 519.2L214.5 510.9A134.7 132.4 0 0 0 226.2 511.4ZM169.3 499.0L165.7 506.5A143.1 140.7 0 0 1 154.7 500.9L158.9 493.7A134.7 132.4 0 0 0 169.3 499.0ZM109.6 312.8L102.3 308.6A143.1 140.7 0 0 1 109.0 298.3L115.9 303.0A134.7 132.4 0 0 0 109.6 312.8Z" fill="#93c4e0" stroke="#93c4e0" stroke-width="0.4"/>
</g>
<g fill="none" stroke="#fff2b5" stroke-width="1"><ellipse cx="227.0" cy="379.5" rx="50.5" ry="49.7"/><ellipse cx="227.0" cy="379.5" rx="101.0" ry="99.3"/><ellipse cx="227.0" cy="379.5" rx="151.5" ry="149.0" stroke="#fff6c8" stroke-width="1.3"/><line x1="227.5" y1="528.5" x2="227.5" y2="230.5"/><line x1="120.4" y1="484.9" x2="334.6" y2="274.1"/><line x1="76.0" y1="379.5" x2="379.0" y2="379.5"/><line x1="120.4" y1="274.1" x2="334.6" y2="484.9"/></g>
<line x1="227.5" y1="379.4" x2="172.8" y2="387.5" stroke="#ffa500" stroke-width="1.2"/>
<path d="M224.0 231.5h7M227.5 228.0v7M191.0 246.5h7M194.5 243.0v7M207.0 246.5h7M210.5 243.0v7M210.0 242.5h7M213.5 239.0v7M138.0 261.5h7M141.5 258.0v7M136.0 265.5h7M139.5 262.0v7M151.0 272.5h7M154.5 269.0v7M162.0 276.5h7M165.5 273.0v7M188.0 269.5h7M191.5 266.0v7M223.0 262.5h7M226.5 259.0v7M121.0 289.5h7M124.5 286.0v7M129.0 302.5h7M132.5 299.0v7M155.0 304.5h7M158.5 301.0v7M108.0 316.5h7M111.5 313.0v7M152.0 317.5h7M155.5 314.0v7M185.0 312.5h7M188.5 309.0v7M215.0 288.5h7M218.5 285.0v7M212.0 289.5h7M215.5 286.0v7M212.0 304.5h7M215.5 301.0v7M223.0 308.5h7M226.5 305.0v7M283.0 260.5h7M286.5 257.0v7M285.0 285.5h7M288.5 282.0v7M272.0 299.5h7M275.5 296.0v7M255.0 299.5h7M258.5 296.0v7M255.0 303.5h7M258.5 300.0v7M241.0 305.5h7M244.5 302.0v7M231.0 317.5h7M234.5 314.0v7M297.0 311.5h7M300.5 308.0v7M85.0 337.5h7M88.5 334.0v7M114.0 333.5h7M117.5 330.0v7M115.0 334.5h7M118.5 331.0v7M97.0 351.5h7M100.5 348.0v7M106.0 351.5h7M109.5 348.0v7M161.0 330.5h7M164.5 327.0v7M153.0 355.5h7M156.5 352.0v7M79.0 404.5h7M82.5 401.0v7M128.0 401.5h7M131.5 398.0v7M96.0 423.5h7M99.5 420.0v7M167.0 406.5h7M170.5 403.0v7M190.0 395.5h7M193.5 392.0v7M198.0 401.5h7M201.5 398.0v7M201.0 417.5h7M204.5 414.0v7M169.0 420.5h7M172.5 417.0v7M175.0 419.5h7M178.5 416.0v7M175.0 425.5h7M178.5 422.0v7M181.0 425.5h7M184.5 422.0v7M318.0 343.5h7M321.5 340.0v7M323.0 346.5h7M326.5 343.0v7M344.0 346.5h7M347.5 343.0v7M367.0 344.5h7M370.5 341.0v7M258.0 374.5h7M261.5 371.0v7M255.0 378.5h7M258.5 375.0v7M277.0 373.5h7M280.5 370.0v7M315.0 370.5h7M318.5 367.0v7M309.0 387.5h7M312.5 384.0v7M357.0 383.5h7M360.5 380.0v7M356.0 391.5h7M359.5 388.0v7M267.0 413.5h7M270.5 410.0v7M99.0 443.5h7M102.5 440.0v7M129.0 448.5h7M132.5 445.0v7M139.0 447.5h7M142.5 444.0v7M149.0 431.5h7M152.5 428.0v7M153.0 442.5h7M156.5 439.0v7M146.0 495.5h7M149.5 492.0v7M175.0 516.5h7M178.5 513.0v7M236.0 440.5h7M239.5 437.0v7M335.0 431.5h7M338.5 428.0v7M337.0 444.5h7M340.5 441.0v7M301.0 460.5h7M304.5 457.0v7M262.0 469.5h7M265.5 466.0v7M307.0 488.5h7M310.5 485.0v7" stroke="#00ff00" stroke-width="1" fill="none"/>
<text x="228.6" y="223.9" class="s m">C19</text>
<text x="196.5" y="238.8" class="s m">E34</text>
<text x="211.5" y="239.3" class="s m">R05</text>
<text x="215.0" y="234.9" class="s m">J195</text>
<text x="143.1" y="254.2" class="s m">C10</text>
<text x="141.2" y="258.1" class="s m">C16</text>
<text x="156.4" y="265.4" class="s m">E21</text>
<text x="167.3" y="268.7" class="s m">C07</text>
<text x="193.4" y="262.3" class="s m">C40</text>
<text x="227.5" y="254.4" class="s m">E02</text>
<text x="125.9" y="282.3" class="s m">C08</text>
<text x="134.5" y="295.2" class="s m">E15</text>
<text x="159.5" y="297.1" class="s m">C22</text>
<text x="112.9" y="308.9" class="s m">C13</text>
<text x="156.8" y="310.1" class="s m">C03</text>
<text x="190.4" y="304.6" class="s m">J199</text>
<text x="219.5" y="281.1" class="s m">G10</text>
<text x="217.2" y="281.7" class="s m">J196</text>
<text x="217.3" y="296.7" class="s m">C59</text>
<text x="227.5" y="301.0" class="s m">C01</text>
<text x="287.6" y="252.6" class="s m">R19</text>
<text x="289.5" y="277.6" class="s m">J193</text>
<text x="276.7" y="291.6" class="s m">C29</text>
<text x="259.5" y="292.1" class="s m">C04</text>
<text x="259.5" y="296.0" class="s m">E33</text>
<text x="246.5" y="297.9" class="s m">E26</text>
<text x="236.4" y="310.1" class="s m">G17</text>
<text x="301.7" y="303.9" class="s m">C47</text>
<text x="89.5" y="329.5" class="s m">G05</text>
<text x="118.9" y="326.3" class="s m">J200</text>
<text x="120.4" y="327.1" class="s m">J202</text>
<text x="102.0" y="344.3" class="s m">C60</text>
<text x="110.6" y="343.8" class="s m">G02</text>
<text x="166.5" y="322.4" class="s m">R27</text>
<text x="157.5" y="347.7" class="s m">R06</text>
<text x="84.5" y="397.4" class="s m">C26</text>
<text x="132.6" y="394.3" class="s m">C21</text>
<text x="100.8" y="415.7" class="s m">E13</text>
<text x="171.5" y="398.4" class="s m">G23</text>
<text x="195.0" y="388.1" class="s m">C32</text>
<text x="202.9" y="393.5" class="s m">E08</text>
<text x="205.6" y="410.3" class="s m">C39</text>
<text x="174.3" y="412.6" class="s m">C44</text>
<text x="180.2" y="411.9" class="s m">C45</text>
<text x="180.5" y="417.9" class="s m">C06</text>
<text x="186.0" y="417.9" class="s m">G16</text>
<text x="323.4" y="336.2" class="s m">E05</text>
<text x="327.5" y="338.8" class="s m">G07</text>
<text x="348.6" y="338.5" class="s m">R04</text>
<text x="371.5" y="337.3" class="s m">R18</text>
<text x="262.9" y="367.0" class="s m">E03</text>
<text x="260.1" y="370.4" class="s m">E10</text>
<text x="282.5" y="366.2" class="s m">G30</text>
<text x="320.0" y="363.1" class="s m">R09</text>
<text x="314.5" y="380.2" class="s m">C30</text>
<text x="361.7" y="376.0" class="s m">G01</text>
<text x="360.6" y="384.1" class="s m">C46</text>
<text x="271.5" y="405.6" class="s m">C36</text>
<text x="103.7" y="435.6" class="s m">E07</text>
<text x="133.7" y="441.2" class="s m">C56</text>
<text x="143.6" y="439.6" class="s m">G15</text>
<text x="153.6" y="423.5" class="s m">C09</text>
<text x="157.5" y="434.5" class="s m">R07</text>
<text x="150.6" y="487.6" class="s m">C42</text>
<text x="179.8" y="508.4" class="s m">R26</text>
<text x="240.6" y="433.2" class="s m">R16</text>
<text x="339.8" y="423.5" class="s m">R15</text>
<text x="341.5" y="436.5" class="s m">C02</text>
<text x="306.4" y="452.7" class="s m">E24</text>
<text x="267.3" y="461.8" class="s m">E31</text>
<text x="312.5" y="481.3" class="s m">C27</text>
<line x1="163.4" y1="358.8" x2="174.6" y2="406.3" stroke="#ffa500" stroke-width="6.5" stroke-linecap="round"/>
</g>
<g id="wf">
<text x="722" y="187" class="m">Waterfall Plot</text>
<path d="M507.5 469.5 L782.7 517.3 L935.5 433.1 L660.3 385.3 Z M507.5 469.5 L515.1 465.3 M660.3 385.3 L655.0 388.2 M541.9 475.5 L549.5 471.3 M694.7 391.3 L689.4 394.2 M576.3 481.4 L583.9 477.2 M729.1 397.2 L723.8 400.2 M610.7 487.4 L618.3 483.2 M763.5 403.2 L758.2 406.2 M645.1 493.4 L652.7 489.2 M797.9 409.2 L792.6 412.1 M679.5 499.4 L687.1 495.2 M832.3 415.2 L827.0 418.1 M713.9 505.4 L721.5 501.1 M866.7 421.2 L861.4 424.1 M748.3 511.3 L755.9 507.1 M901.1 427.1 L895.8 430.1 M782.7 517.3 L790.3 513.1 M935.5 433.1 L930.2 436.0 M782.7 517.3 L773.6 515.7 M507.5 469.5 L516.6 471.1 M804.5 505.3 L795.4 503.7 M529.3 457.5 L538.4 459.0 M826.4 493.2 L817.3 491.7 M551.2 445.4 L560.2 447.0 M848.2 481.2 L839.1 479.6 M573.0 433.4 L582.1 435.0 M870.0 469.2 L860.9 467.6 M594.8 421.4 L603.9 423.0 M891.8 457.2 L882.8 455.6 M616.6 409.4 L625.7 410.9 M913.7 445.1 L904.6 443.6 M638.5 397.3 L647.6 398.9 M935.5 433.1 L926.4 431.5 M660.3 385.3 L669.4 386.9 M507.5 469.5 L507.5 298.5 M507.5 298.5 L515.5 298.5 M507.5 327.0 L515.5 327.0 M507.5 355.5 L515.5 355.5 M507.5 384.0 L515.5 384.0 M507.5 412.5 L515.5 412.5 M507.5 441.0 L515.5 441.0 M507.5 469.5 L515.5 469.5" stroke="#eee8aa" stroke-width="1" fill="none"/>
<defs>
<linearGradient id="wg" gradientUnits="userSpaceOnUse" x1="650" y1="296" x2="639" y2="478"><stop offset="0.000" stop-color="#edf4f1"/><stop offset="0.159" stop-color="#f1f5ee"/><stop offset="0.269" stop-color="#eef5f1"/><stop offset="0.379" stop-color="#e4f1f5"/><stop offset="0.516" stop-color="#cbe3f0"/><stop offset="0.626" stop-color="#b2d4e9"/><stop offset="0.725" stop-color="#94bddf"/><stop offset="0.846" stop-color="#76a5d3"/><stop offset="1.000" stop-color="#5a89c3"/></linearGradient>
<linearGradient id="wg2" gradientUnits="userSpaceOnUse" x1="0" y1="326" x2="0" y2="412"><stop offset="0.000" stop-color="#f3f4ea"/><stop offset="0.221" stop-color="#e6f1f3"/><stop offset="0.453" stop-color="#cfe5f1"/><stop offset="0.686" stop-color="#b0d2e8"/><stop offset="0.860" stop-color="#8db8dc"/><stop offset="1.000" stop-color="#6f9fd0"/></linearGradient>
<linearGradient id="wm" gradientUnits="userSpaceOnUse" x1="752" y1="0" x2="792" y2="0"><stop offset="0" stop-color="#000"/><stop offset="1" stop-color="#fff"/></linearGradient>
<mask id="wmk" maskUnits="userSpaceOnUse" x="740" y="300" width="160" height="130"><rect x="740" y="300" width="160" height="130" fill="url(#wm)"/></mask>
<clipPath id="wc"><path d="M527.2 428.7 L528.2 426.7 L529.3 425.8 L529.8 424.4 L530.3 422.0 L530.8 422.1 L531.2 419.2 L531.7 419.3 L532.2 416.9 L532.7 417.2 L533.2 415.7 L533.6 414.8 L534.1 410.8 L534.6 411.1 L535.1 410.6 L535.6 409.4 L536.1 405.9 L536.5 404.6 L537.0 405.0 L537.5 404.5 L538.0 403.6 L538.6 402.9 L539.1 400.8 L539.7 399.4 L540.2 398.9 L540.8 397.5 L541.3 395.8 L541.9 392.6 L542.5 393.6 L543.0 391.2 L543.6 391.1 L544.1 389.7 L544.7 389.3 L545.2 388.6 L545.8 386.4 L546.3 385.9 L546.9 384.4 L547.2 382.0 L547.6 381.5 L547.9 378.8 L548.3 378.3 L548.6 378.0 L548.9 376.3 L549.3 372.9 L549.6 374.3 L549.9 370.6 L550.3 367.9 L550.6 369.8 L551.0 368.8 L551.3 366.1 L552.0 365.7 L552.8 365.4 L553.5 361.6 L554.2 361.8 L555.0 361.0 L555.7 359.3 L556.4 357.3 L557.1 358.3 L557.9 357.6 L558.6 354.3 L559.3 354.5 L560.1 353.4 L560.8 352.6 L561.5 350.0 L562.3 349.5 L563.0 349.2 L563.7 346.6 L564.5 344.0 L565.2 343.9 L565.9 345.0 L566.6 341.6 L567.4 342.0 L568.1 338.3 L568.8 336.0 L569.6 338.9 L570.3 337.0 L571.4 335.5 L572.6 335.0 L573.7 334.0 L574.8 335.0 L576.0 334.0 L577.1 332.9 L578.2 329.9 L579.3 330.9 L580.5 330.4 L581.6 329.5 L582.7 326.8 L583.9 326.5 L585.0 326.4 L586.1 326.5 L587.2 323.1 L588.4 324.9 L589.5 323.8 L590.6 321.3 L591.7 323.7 L592.9 321.4 L594.0 320.2 L595.1 318.9 L596.2 320.2 L597.4 320.3 L598.5 319.3 L599.6 318.0 L600.8 318.3 L602.0 315.7 L603.2 316.0 L604.4 315.8 L605.6 313.9 L606.8 315.2 L608.0 312.9 L609.2 312.2 L610.4 310.5 L611.6 311.8 L612.8 309.4 L614.0 311.1 L615.2 310.4 L616.4 309.4 L617.6 306.7 L618.8 306.7 L620.0 305.6 L621.2 304.9 L622.4 305.2 L623.6 304.8 L624.8 303.2 L626.0 303.1 L627.3 303.6 L628.7 303.5 L630.0 303.0 L631.3 301.8 L632.6 302.1 L634.0 301.4 L635.3 300.4 L636.6 301.1 L637.9 299.2 L639.3 299.1 L640.6 295.9 L641.9 298.9 L643.2 298.5 L644.5 298.4 L645.8 298.9 L647.2 297.0 L648.5 297.9 L649.8 297.6 L651.1 294.7 L652.4 293.1 L653.7 296.0 L655.1 297.8 L656.4 297.7 L657.7 298.2 L659.0 298.0 L660.4 297.7 L661.7 298.5 L663.0 298.2 L664.3 294.8 L665.7 298.9 L667.0 298.6 L668.3 299.6 L669.7 299.5 L671.0 299.9 L672.3 295.0 L673.7 299.3 L675.0 298.4 L676.4 298.2 L677.7 300.4 L679.0 298.9 L680.4 299.2 L681.7 298.1 L683.0 297.8 L684.4 300.5 L685.7 300.7 L687.1 300.3 L688.4 299.5 L689.8 296.6 L691.1 299.8 L692.5 299.3 L693.8 300.8 L695.2 299.4 L696.5 302.1 L697.9 300.3 L699.2 302.4 L700.4 303.2 L701.6 302.8 L702.7 304.9 L703.9 305.8 L705.1 303.9 L706.1 305.8 L707.1 308.2 L708.0 304.5 L709.0 308.5 L710.0 309.9 L711.0 312.1 L711.9 313.3 L712.9 313.2 L713.9 315.1 L715.2 313.8 L716.4 311.6 L717.7 311.1 L718.9 312.3 L720.2 311.2 L721.4 310.5 L722.7 309.2 L724.0 309.3 L725.3 309.9 L726.6 308.2 L727.9 308.9 L729.2 310.4 L730.5 307.9 L731.8 308.3 L733.1 306.4 L734.4 307.4 L735.7 306.1 L737.1 307.1 L738.4 308.6 L739.7 305.1 L741.0 306.2 L742.4 308.6 L743.7 307.6 L745.0 307.9 L746.3 307.8 L747.7 305.7 L749.0 306.6 L750.2 306.9 L751.5 306.8 L752.7 307.4 L753.9 310.3 L755.1 309.8 L756.4 309.8 L757.6 312.1 L758.8 312.6 L760.0 310.7 L761.2 313.4 L762.5 310.1 L763.7 314.3 L764.8 312.1 L766.0 314.7 L767.1 316.3 L768.3 316.4 L769.4 318.2 L770.6 317.3 L771.7 319.4 L772.9 317.6 L774.0 320.7 L774.5 320.1 L775.0 320.6 L775.4 321.6 L775.9 324.7 L776.4 325.6 L776.9 325.0 L777.3 327.8 L777.8 327.5 L778.3 330.5 L779.6 329.8 L780.9 331.8 L782.2 331.2 L783.5 331.2 L784.8 329.8 L786.1 330.1 L787.4 326.8 L788.7 329.8 L790.0 328.6 L791.4 327.6 L792.9 329.1 L794.3 326.9 L795.7 328.2 L797.1 327.1 L798.6 326.0 L800.0 327.9 L801.3 327.3 L802.6 328.0 L803.9 329.7 L805.2 328.4 L806.5 329.8 L807.8 328.1 L809.1 327.6 L810.4 329.6 L811.6 329.3 L812.9 330.2 L814.2 329.8 L815.5 330.3 L816.8 329.1 L818.1 332.0 L819.4 330.2 L820.7 332.0 L821.2 329.5 L821.8 334.6 L822.3 335.3 L822.9 334.1 L823.4 337.7 L823.9 339.8 L824.5 337.4 L825.0 341.2 L826.2 342.8 L827.5 342.9 L828.7 342.8 L830.0 343.3 L831.2 343.9 L832.5 345.0 L833.7 343.5 L835.0 345.3 L836.2 346.1 L837.5 343.5 L838.7 346.2 L840.0 345.9 L841.2 348.2 L841.9 349.0 L842.7 347.3 L843.4 348.8 L844.1 352.3 L844.8 349.7 L845.5 353.6 L846.3 355.2 L847.0 354.0 L848.3 357.7 L849.6 357.1 L851.0 356.8 L852.3 357.0 L853.6 358.9 L854.9 358.8 L856.2 358.1 L857.6 359.9 L858.9 359.8 L860.2 358.6 L860.9 360.9 L861.7 361.0 L862.4 363.6 L863.2 363.2 L863.9 364.3 L864.6 362.0 L865.4 365.9 L866.1 368.0 L866.2 365.6 L866.3 370.7 L866.4 372.4 L866.5 371.4 L866.6 375.2 L866.7 377.2 L866.9 377.7 L867.0 376.4 L867.1 379.5 L867.2 382.2 L867.3 382.8 L867.4 383.0 L867.5 383.4 L867.6 385.5 L868.9 386.8 L870.3 387.4 L871.6 387.5 L873.0 387.0 L874.3 385.8 L875.7 383.5 L877.0 385.5 L878.3 385.1 L879.7 384.7 L881.0 383.9 L882.4 385.1 L883.7 383.4 L883.8 386.7 L883.9 387.9 L884.0 390.4 L884.1 388.1 L884.2 392.1 L884.2 394.7 L884.3 395.1 L884.4 396.1 L884.5 398.5 L884.6 399.2 L884.6 397.9 L882.8 398.6 L881.1 401.8 L879.3 399.2 L877.5 397.4 L875.8 401.0 L874.0 401.5 L872.3 397.2 L870.5 401.4 L869.0 403.1 L867.6 407.0 L866.1 410.6 L864.6 408.1 L863.2 405.4 L861.7 408.7 L860.0 416.8 L858.4 409.4 L856.7 406.4 L855.0 412.6 L853.3 411.7 L851.7 412.5 L850.0 415.2 L849.4 407.9 L848.8 409.2 L848.2 404.7 L847.6 406.3 L847.0 404.8 L845.3 397.4 L843.6 401.2 L841.9 402.9 L840.2 399.5 L838.5 402.0 L836.8 397.2 L835.1 396.6 L833.4 397.7 L831.7 402.1 L830.0 400.9 L828.3 400.0 L826.6 398.1 L825.0 398.6 L823.3 401.7 L821.7 396.2 L820.1 392.8 L818.4 393.8 L816.8 398.6 L815.2 390.6 L813.5 391.3 L811.9 392.3 L810.3 394.2 L808.7 392.6 L807.1 393.4 L805.5 393.4 L803.9 399.8 L802.3 402.4 L800.7 398.5 L799.1 399.3 L797.5 397.3 L795.9 401.4 L794.3 397.5 L792.7 405.2 L791.1 403.5 L789.5 404.6 L787.9 401.4 L786.3 403.9 L784.7 408.0 L783.1 406.5 L781.5 408.3 L779.9 407.6 L778.3 413.4 L776.7 413.4 L776.0 411.6 L775.2 413.5 L774.5 416.6 L773.8 416.9 L773.1 419.9 L772.4 424.9 L771.6 418.4 L770.9 422.5 L770.7 426.3 L770.5 430.6 L770.2 432.8 L770.0 430.5 L769.8 434.6 L769.6 434.8 L769.3 436.4 L769.1 441.7 L768.9 442.3 L768.7 442.7 L768.4 444.5 L768.2 444.3 L768.0 449.3 L767.4 447.4 L766.9 450.1 L766.3 452.5 L765.8 455.2 L765.2 454.2 L763.9 459.3 L762.6 458.2 L761.2 460.3 L759.9 460.7 L758.6 463.9 L757.3 462.4 L756.0 468.7 L754.6 464.0 L753.3 463.1 L752.0 463.7 L750.5 469.9 L749.1 468.1 L747.6 468.7 L746.1 469.9 L744.6 474.5 L743.2 473.1 L741.7 478.1 L740.2 476.0 L738.8 477.4 L737.3 475.7 L735.5 474.8 L733.6 478.5 L731.8 476.3 L730.0 478.0 L728.2 473.2 L726.4 472.8 L724.5 476.9 L722.7 470.4 L721.1 469.3 L719.5 472.0 L717.9 473.9 L716.3 468.7 L714.7 467.9 L713.1 470.0 L711.5 461.3 L709.9 462.6 L708.3 469.4 L706.7 467.3 L705.1 467.0 L703.8 461.6 L702.6 464.2 L701.3 463.6 L700.1 459.8 L698.8 458.5 L697.6 456.0 L696.3 452.1 L696.0 454.8 L695.7 451.7 L695.3 450.4 L695.0 448.2 L694.7 447.4 L694.4 443.0 L694.0 445.8 L693.7 439.9 L693.4 438.6 L692.1 441.5 L690.8 437.9 L689.5 435.2 L688.2 447.0 L687.0 449.6 L685.7 451.8 L684.4 448.2 L683.1 450.3 L681.2 451.3 L679.4 449.9 L677.5 448.7 L675.6 452.3 L673.7 444.0 L671.9 447.8 L670.0 447.9 L669.0 447.1 L668.0 441.9 L667.0 448.7 L666.1 440.2 L665.1 440.5 L664.1 434.1 L662.1 435.8 L660.2 430.8 L658.2 435.7 L656.3 435.2 L654.4 435.3 L652.4 432.0 L650.5 433.0 L648.6 438.6 L646.7 435.5 L644.9 427.8 L643.0 433.5 L641.1 430.6 L639.2 438.2 L637.7 432.1 L636.3 438.6 L634.8 436.9 L633.3 436.3 L631.8 440.2 L630.4 437.5 L628.9 436.7 L627.2 443.8 L625.6 445.0 L623.9 440.3 L622.2 445.9 L620.5 444.8 L618.9 445.1 L617.2 448.6 L616.0 445.5 L614.8 444.5 L613.7 451.0 L612.5 451.3 L611.3 453.3 L610.4 452.1 L609.6 450.4 L608.7 441.3 L607.9 446.1 L607.0 448.3 L606.5 447.0 L605.9 440.9 L605.4 438.8 L604.8 438.8 L604.2 437.5 L603.7 440.0 L603.1 431.3 L602.6 431.8 L602.1 427.6 L601.5 429.2 L601.0 429.1 L600.4 421.0 L599.9 421.7 L599.3 422.2 L598.8 417.8 L598.2 420.3 L596.7 413.8 L595.3 419.7 L593.8 422.9 L592.3 424.2 L590.8 431.1 L589.4 424.9 L587.9 424.8 L586.2 423.7 L584.6 424.6 L582.9 426.3 L581.2 426.3 L579.5 419.4 L577.9 421.7 L576.2 418.8 L574.5 424.2 L572.9 424.8 L571.2 416.9 L569.5 419.2 L567.8 420.5 L566.2 419.3 L564.5 422.0 L563.0 428.4 L561.6 430.7 L560.1 429.1 L558.6 428.0 L557.2 425.0 L555.7 428.9 L554.0 435.4 L552.4 431.4 L550.7 426.2 L549.0 426.5 L547.3 431.5 L545.7 425.2 L544.0 426.1 L542.7 427.2 L541.5 429.2 L540.2 429.4 L539.0 434.1 L537.7 432.2 L536.5 433.5 L535.2 436.4 L533.4 434.8 L531.5 435.5 L529.6 433.1 L527.8 432.3 L527.6 433.2 L527.4 430.7 L527.2 428.4Z"/></clipPath>
<filter id="wb" x="-50%" y="-100%" width="200%" height="300%"><feGaussianBlur stdDeviation="7"/></filter>
<filter id="wb3" x="-50%" y="-100%" width="200%" height="300%"><feGaussianBlur stdDeviation="3.5"/></filter>
<filter id="wb2" x="-50%" y="-100%" width="200%" height="300%"><feGaussianBlur stdDeviation="4"/></filter>
</defs>
<path d="M527.2 428.7 L528.2 426.7 L529.3 425.8 L529.8 424.4 L530.3 422.0 L530.8 422.1 L531.2 419.2 L531.7 419.3 L532.2 416.9 L532.7 417.2 L533.2 415.7 L533.6 414.8 L534.1 410.8 L534.6 411.1 L535.1 410.6 L535.6 409.4 L536.1 405.9 L536.5 404.6 L537.0 405.0 L537.5 404.5 L538.0 403.6 L538.6 402.9 L539.1 400.8 L539.7 399.4 L540.2 398.9 L540.8 397.5 L541.3 395.8 L541.9 392.6 L542.5 393.6 L543.0 391.2 L543.6 391.1 L544.1 389.7 L544.7 389.3 L545.2 388.6 L545.8 386.4 L546.3 385.9 L546.9 384.4 L547.2 382.0 L547.6 381.5 L547.9 378.8 L548.3 378.3 L548.6 378.0 L548.9 376.3 L549.3 372.9 L549.6 374.3 L549.9 370.6 L550.3 367.9 L550.6 369.8 L551.0 368.8 L551.3 366.1 L552.0 365.7 L552.8 365.4 L553.5 361.6 L554.2 361.8 L555.0 361.0 L555.7 359.3 L556.4 357.3 L557.1 358.3 L557.9 357.6 L558.6 354.3 L559.3 354.5 L560.1 353.4 L560.8 352.6 L561.5 350.0 L562.3 349.5 L563.0 349.2 L563.7 346.6 L564.5 344.0 L565.2 343.9 L565.9 345.0 L566.6 341.6 L567.4 342.0 L568.1 338.3 L568.8 336.0 L569.6 338.9 L570.3 337.0 L571.4 335.5 L572.6 335.0 L573.7 334.0 L574.8 335.0 L576.0 334.0 L577.1 332.9 L578.2 329.9 L579.3 330.9 L580.5 330.4 L581.6 329.5 L582.7 326.8 L583.9 326.5 L585.0 326.4 L586.1 326.5 L587.2 323.1 L588.4 324.9 L589.5 323.8 L590.6 321.3 L591.7 323.7 L592.9 321.4 L594.0 320.2 L595.1 318.9 L596.2 320.2 L597.4 320.3 L598.5 319.3 L599.6 318.0 L600.8 318.3 L602.0 315.7 L603.2 316.0 L604.4 315.8 L605.6 313.9 L606.8 315.2 L608.0 312.9 L609.2 312.2 L610.4 310.5 L611.6 311.8 L612.8 309.4 L614.0 311.1 L615.2 310.4 L616.4 309.4 L617.6 306.7 L618.8 306.7 L620.0 305.6 L621.2 304.9 L622.4 305.2 L623.6 304.8 L624.8 303.2 L626.0 303.1 L627.3 303.6 L628.7 303.5 L630.0 303.0 L631.3 301.8 L632.6 302.1 L634.0 301.4 L635.3 300.4 L636.6 301.1 L637.9 299.2 L639.3 299.1 L640.6 295.9 L641.9 298.9 L643.2 298.5 L644.5 298.4 L645.8 298.9 L647.2 297.0 L648.5 297.9 L649.8 297.6 L651.1 294.7 L652.4 293.1 L653.7 296.0 L655.1 297.8 L656.4 297.7 L657.7 298.2 L659.0 298.0 L660.4 297.7 L661.7 298.5 L663.0 298.2 L664.3 294.8 L665.7 298.9 L667.0 298.6 L668.3 299.6 L669.7 299.5 L671.0 299.9 L672.3 295.0 L673.7 299.3 L675.0 298.4 L676.4 298.2 L677.7 300.4 L679.0 298.9 L680.4 299.2 L681.7 298.1 L683.0 297.8 L684.4 300.5 L685.7 300.7 L687.1 300.3 L688.4 299.5 L689.8 296.6 L691.1 299.8 L692.5 299.3 L693.8 300.8 L695.2 299.4 L696.5 302.1 L697.9 300.3 L699.2 302.4 L700.4 303.2 L701.6 302.8 L702.7 304.9 L703.9 305.8 L705.1 303.9 L706.1 305.8 L707.1 308.2 L708.0 304.5 L709.0 308.5 L710.0 309.9 L711.0 312.1 L711.9 313.3 L712.9 313.2 L713.9 315.1 L715.2 313.8 L716.4 311.6 L717.7 311.1 L718.9 312.3 L720.2 311.2 L721.4 310.5 L722.7 309.2 L724.0 309.3 L725.3 309.9 L726.6 308.2 L727.9 308.9 L729.2 310.4 L730.5 307.9 L731.8 308.3 L733.1 306.4 L734.4 307.4 L735.7 306.1 L737.1 307.1 L738.4 308.6 L739.7 305.1 L741.0 306.2 L742.4 308.6 L743.7 307.6 L745.0 307.9 L746.3 307.8 L747.7 305.7 L749.0 306.6 L750.2 306.9 L751.5 306.8 L752.7 307.4 L753.9 310.3 L755.1 309.8 L756.4 309.8 L757.6 312.1 L758.8 312.6 L760.0 310.7 L761.2 313.4 L762.5 310.1 L763.7 314.3 L764.8 312.1 L766.0 314.7 L767.1 316.3 L768.3 316.4 L769.4 318.2 L770.6 317.3 L771.7 319.4 L772.9 317.6 L774.0 320.7 L774.5 320.1 L775.0 320.6 L775.4 321.6 L775.9 324.7 L776.4 325.6 L776.9 325.0 L777.3 327.8 L777.8 327.5 L778.3 330.5 L779.6 329.8 L780.9 331.8 L782.2 331.2 L783.5 331.2 L784.8 329.8 L786.1 330.1 L787.4 326.8 L788.7 329.8 L790.0 328.6 L791.4 327.6 L792.9 329.1 L794.3 326.9 L795.7 328.2 L797.1 327.1 L798.6 326.0 L800.0 327.9 L801.3 327.3 L802.6 328.0 L803.9 329.7 L805.2 328.4 L806.5 329.8 L807.8 328.1 L809.1 327.6 L810.4 329.6 L811.6 329.3 L812.9 330.2 L814.2 329.8 L815.5 330.3 L816.8 329.1 L818.1 332.0 L819.4 330.2 L820.7 332.0 L821.2 329.5 L821.8 334.6 L822.3 335.3 L822.9 334.1 L823.4 337.7 L823.9 339.8 L824.5 337.4 L825.0 341.2 L826.2 342.8 L827.5 342.9 L828.7 342.8 L830.0 343.3 L831.2 343.9 L832.5 345.0 L833.7 343.5 L835.0 345.3 L836.2 346.1 L837.5 343.5 L838.7 346.2 L840.0 345.9 L841.2 348.2 L841.9 349.0 L842.7 347.3 L843.4 348.8 L844.1 352.3 L844.8 349.7 L845.5 353.6 L846.3 355.2 L847.0 354.0 L848.3 357.7 L849.6 357.1 L851.0 356.8 L852.3 357.0 L853.6 358.9 L854.9 358.8 L856.2 358.1 L857.6 359.9 L858.9 359.8 L860.2 358.6 L860.9 360.9 L861.7 361.0 L862.4 363.6 L863.2 363.2 L863.9 364.3 L864.6 362.0 L865.4 365.9 L866.1 368.0 L866.2 365.6 L866.3 370.7 L866.4 372.4 L866.5 371.4 L866.6 375.2 L866.7 377.2 L866.9 377.7 L867.0 376.4 L867.1 379.5 L867.2 382.2 L867.3 382.8 L867.4 383.0 L867.5 383.4 L867.6 385.5 L868.9 386.8 L870.3 387.4 L871.6 387.5 L873.0 387.0 L874.3 385.8 L875.7 383.5 L877.0 385.5 L878.3 385.1 L879.7 384.7 L881.0 383.9 L882.4 385.1 L883.7 383.4 L883.8 386.7 L883.9 387.9 L884.0 390.4 L884.1 388.1 L884.2 392.1 L884.2 394.7 L884.3 395.1 L884.4 396.1 L884.5 398.5 L884.6 399.2 L884.6 397.9 L882.8 398.6 L881.1 401.8 L879.3 399.2 L877.5 397.4 L875.8 401.0 L874.0 401.5 L872.3 397.2 L870.5 401.4 L869.0 403.1 L867.6 407.0 L866.1 410.6 L864.6 408.1 L863.2 405.4 L861.7 408.7 L860.0 416.8 L858.4 409.4 L856.7 406.4 L855.0 412.6 L853.3 411.7 L851.7 412.5 L850.0 415.2 L849.4 407.9 L848.8 409.2 L848.2 404.7 L847.6 406.3 L847.0 404.8 L845.3 397.4 L843.6 401.2 L841.9 402.9 L840.2 399.5 L838.5 402.0 L836.8 397.2 L835.1 396.6 L833.4 397.7 L831.7 402.1 L830.0 400.9 L828.3 400.0 L826.6 398.1 L825.0 398.6 L823.3 401.7 L821.7 396.2 L820.1 392.8 L818.4 393.8 L816.8 398.6 L815.2 390.6 L813.5 391.3 L811.9 392.3 L810.3 394.2 L808.7 392.6 L807.1 393.4 L805.5 393.4 L803.9 399.8 L802.3 402.4 L800.7 398.5 L799.1 399.3 L797.5 397.3 L795.9 401.4 L794.3 397.5 L792.7 405.2 L791.1 403.5 L789.5 404.6 L787.9 401.4 L786.3 403.9 L784.7 408.0 L783.1 406.5 L781.5 408.3 L779.9 407.6 L778.3 413.4 L776.7 413.4 L776.0 411.6 L775.2 413.5 L774.5 416.6 L773.8 416.9 L773.1 419.9 L772.4 424.9 L771.6 418.4 L770.9 422.5 L770.7 426.3 L770.5 430.6 L770.2 432.8 L770.0 430.5 L769.8 434.6 L769.6 434.8 L769.3 436.4 L769.1 441.7 L768.9 442.3 L768.7 442.7 L768.4 444.5 L768.2 444.3 L768.0 449.3 L767.4 447.4 L766.9 450.1 L766.3 452.5 L765.8 455.2 L765.2 454.2 L763.9 459.3 L762.6 458.2 L761.2 460.3 L759.9 460.7 L758.6 463.9 L757.3 462.4 L756.0 468.7 L754.6 464.0 L753.3 463.1 L752.0 463.7 L750.5 469.9 L749.1 468.1 L747.6 468.7 L746.1 469.9 L744.6 474.5 L743.2 473.1 L741.7 478.1 L740.2 476.0 L738.8 477.4 L737.3 475.7 L735.5 474.8 L733.6 478.5 L731.8 476.3 L730.0 478.0 L728.2 473.2 L726.4 472.8 L724.5 476.9 L722.7 470.4 L721.1 469.3 L719.5 472.0 L717.9 473.9 L716.3 468.7 L714.7 467.9 L713.1 470.0 L711.5 461.3 L709.9 462.6 L708.3 469.4 L706.7 467.3 L705.1 467.0 L703.8 461.6 L702.6 464.2 L701.3 463.6 L700.1 459.8 L698.8 458.5 L697.6 456.0 L696.3 452.1 L696.0 454.8 L695.7 451.7 L695.3 450.4 L695.0 448.2 L694.7 447.4 L694.4 443.0 L694.0 445.8 L693.7 439.9 L693.4 438.6 L692.1 441.5 L690.8 437.9 L689.5 435.2 L688.2 447.0 L687.0 449.6 L685.7 451.8 L684.4 448.2 L683.1 450.3 L681.2 451.3 L679.4 449.9 L677.5 448.7 L675.6 452.3 L673.7 444.0 L671.9 447.8 L670.0 447.9 L669.0 447.1 L668.0 441.9 L667.0 448.7 L666.1 440.2 L665.1 440.5 L664.1 434.1 L662.1 435.8 L660.2 430.8 L658.2 435.7 L656.3 435.2 L654.4 435.3 L652.4 432.0 L650.5 433.0 L648.6 438.6 L646.7 435.5 L644.9 427.8 L643.0 433.5 L641.1 430.6 L639.2 438.2 L637.7 432.1 L636.3 438.6 L634.8 436.9 L633.3 436.3 L631.8 440.2 L630.4 437.5 L628.9 436.7 L627.2 443.8 L625.6 445.0 L623.9 440.3 L622.2 445.9 L620.5 444.8 L618.9 445.1 L617.2 448.6 L616.0 445.5 L614.8 444.5 L613.7 451.0 L612.5 451.3 L611.3 453.3 L610.4 452.1 L609.6 450.4 L608.7 441.3 L607.9 446.1 L607.0 448.3 L606.5 447.0 L605.9 440.9 L605.4 438.8 L604.8 438.8 L604.2 437.5 L603.7 440.0 L603.1 431.3 L602.6 431.8 L602.1 427.6 L601.5 429.2 L601.0 429.1 L600.4 421.0 L599.9 421.7 L599.3 422.2 L598.8 417.8 L598.2 420.3 L596.7 413.8 L595.3 419.7 L593.8 422.9 L592.3 424.2 L590.8 431.1 L589.4 424.9 L587.9 424.8 L586.2 423.7 L584.6 424.6 L582.9 426.3 L581.2 426.3 L579.5 419.4 L577.9 421.7 L576.2 418.8 L574.5 424.2 L572.9 424.8 L571.2 416.9 L569.5 419.2 L567.8 420.5 L566.2 419.3 L564.5 422.0 L563.0 428.4 L561.6 430.7 L560.1 429.1 L558.6 428.0 L557.2 425.0 L555.7 428.9 L554.0 435.4 L552.4 431.4 L550.7 426.2 L549.0 426.5 L547.3 431.5 L545.7 425.2 L544.0 426.1 L542.7 427.2 L541.5 429.2 L540.2 429.4 L539.0 434.1 L537.7 432.2 L536.5 433.5 L535.2 436.4 L533.4 434.8 L531.5 435.5 L529.6 433.1 L527.8 432.3 L527.6 433.2 L527.4 430.7 L527.2 428.4Z" fill="url(#wg)"/>
<g clip-path="url(#wc)">
<g mask="url(#wmk)"><rect x="740" y="300" width="160" height="130" fill="url(#wg2)"/></g>
<path d="M884.6 398.9 L870.5 401.8 L861.7 409.0 L850.0 412.0 L847.0 403.0 L826.6 398.9 L811.9 393.0 L794.3 401.8 L776.7 410.6 L770.9 423.8 L768.0 447.2 L765.2 456.0 L752.0 467.7 L737.3 476.5 L722.7 473.6 L705.1 464.8 L696.3 456.0 L693.4 439.9 L683.1 450.1 L670.0 447.2 L664.1 437.0 L652.4 435.5 L639.2 432.6 L628.9 439.9 L617.2 445.7 L611.3 453.0 L607.0 444.3 L598.2 417.9 L587.9 426.7 L576.2 420.8 L564.5 426.7 L555.7 432.5 L544.0 426.7 L535.2 435.5 L527.8 434.0 L527.2 428.0" fill="none" stroke="#6a9bd0" stroke-width="16" stroke-linejoin="round" filter="url(#wb2)" opacity="0.85"/>
<path d="M563 354 L570 345 L580 336 L600 325 L622 314 L645 306 L672 304 L700 307" fill="none" stroke="#fbf1d8" stroke-width="15" stroke-linejoin="round" filter="url(#wb3)" opacity="0.8"/>
<path d="M612 398 L640 377 L670 359 L700 345 L730 332 L752 322 L765 322" fill="none" stroke="#fbf1d8" stroke-width="17" stroke-linejoin="round" filter="url(#wb3)" opacity="0.55"/>
<ellipse cx="733" cy="456" rx="48" ry="28" fill="#6291c9" filter="url(#wb)" opacity="0.95"/>
<ellipse cx="645" cy="436" rx="44" ry="11" fill="#6c9bd0" filter="url(#wb2)" opacity="0.8"/>
<path d="M675.4 303.2l4.1 -25.9" stroke="#fbe9c0" stroke-width="1.9" opacity="0.18"/><path d="M672.2 467.7l2.8 -17.3" stroke="#6f9fd2" stroke-width="1.6" opacity="0.26"/><path d="M672.6 457.1l2.9 -18.0" stroke="#6f9fd2" stroke-width="1.1" opacity="0.11"/><path d="M578.7 443.6l2.6 -16.3" stroke="#5a89c3" stroke-width="1.9" opacity="0.17"/><path d="M707.6 326.0l2.1 -13.4" stroke="#fdf0cf" stroke-width="2.4" opacity="0.12"/><path d="M702.6 443.3l5.0 -31.1" stroke="#6f9fd2" stroke-width="1.4" opacity="0.27"/><path d="M543.5 462.5l2.3 -14.2" stroke="#5a89c3" stroke-width="2.4" opacity="0.18"/><path d="M849.9 410.4l4.4 -27.4" stroke="#6f9fd2" stroke-width="1.9" opacity="0.27"/><path d="M749.1 409.4l1.8 -11.1" stroke="#cfe5f2" stroke-width="1.2" opacity="0.14"/><path d="M670.3 392.2l2.6 -16.0" stroke="#ffffff" stroke-width="1.1" opacity="0.29"/><path d="M818.4 334.3l4.6 -29.0" stroke="#ffffff" stroke-width="2.0" opacity="0.16"/><path d="M666.8 381.1l4.5 -28.1" stroke="#c5e0ef" stroke-width="1.9" opacity="0.16"/><path d="M616.7 369.3l2.5 -15.6" stroke="#fdf0cf" stroke-width="1.6" opacity="0.10"/><path d="M748.3 387.1l1.9 -12.1" stroke="#fdf0cf" stroke-width="2.1" opacity="0.19"/><path d="M591.9 384.2l1.4 -8.8" stroke="#b5d6ea" stroke-width="1.5" opacity="0.17"/><path d="M813.6 389.8l3.7 -23.1" stroke="#ffffff" stroke-width="1.9" opacity="0.12"/><path d="M789.1 438.4l3.1 -19.3" stroke="#5f8fc8" stroke-width="2.1" opacity="0.28"/><path d="M760.4 439.6l1.1 -6.7" stroke="#5f8fc8" stroke-width="2.5" opacity="0.25"/><path d="M818.1 334.5l5.0 -31.5" stroke="#e6f2f6" stroke-width="1.4" opacity="0.26"/><path d="M811.0 422.1l4.0 -24.7" stroke="#6f9fd2" stroke-width="1.0" opacity="0.17"/><path d="M797.2 328.3l4.7 -29.3" stroke="#fbe9c0" stroke-width="2.3" opacity="0.19"/><path d="M618.5 471.7l3.0 -18.5" stroke="#5a89c3" stroke-width="1.3" opacity="0.20"/><path d="M641.6 306.6l1.7 -10.7" stroke="#fdf0cf" stroke-width="1.9" opacity="0.16"/><path d="M644.7 367.1l4.3 -26.6" stroke="#c5e0ef" stroke-width="1.1" opacity="0.21"/><path d="M754.5 364.0l4.6 -28.7" stroke="#fdf0cf" stroke-width="1.7" opacity="0.24"/><path d="M847.0 344.9l3.2 -19.9" stroke="#e6f2f6" stroke-width="2.1" opacity="0.17"/><path d="M661.8 365.7l1.6 -9.8" stroke="#c5e0ef" stroke-width="2.1" opacity="0.19"/><path d="M590.9 432.4l1.2 -7.3" stroke="#5a89c3" stroke-width="1.3" opacity="0.23"/><path d="M878.3 404.3l3.7 -23.3" stroke="#a9cde6" stroke-width="2.1" opacity="0.25"/><path d="M606.9 351.8l3.6 -22.3" stroke="#ffffff" stroke-width="1.7" opacity="0.28"/><path d="M575.0 340.5l3.7 -23.0" stroke="#ffffff" stroke-width="1.0" opacity="0.21"/><path d="M636.1 393.1l3.2 -19.9" stroke="#ffffff" stroke-width="1.8" opacity="0.22"/><path d="M600.7 411.1l2.9 -18.3" stroke="#6f9fd2" stroke-width="0.9" opacity="0.26"/><path d="M779.9 380.3l1.2 -7.7" stroke="#b5d6ea" stroke-width="2.3" opacity="0.26"/><path d="M671.1 347.0l1.0 -6.3" stroke="#fdf0cf" stroke-width="2.3" opacity="0.22"/><path d="M733.9 407.1l3.1 -19.5" stroke="#cfe5f2" stroke-width="1.3" opacity="0.28"/><path d="M543.7 394.6l2.6 -16.6" stroke="#b5d6ea" stroke-width="1.2" opacity="0.28"/><path d="M565.4 409.0l3.7 -23.1" stroke="#6f9fd2" stroke-width="1.1" opacity="0.14"/><path d="M744.5 390.2l3.6 -22.7" stroke="#fdf0cf" stroke-width="1.2" opacity="0.16"/><path d="M634.9 308.6l4.7 -29.1" stroke="#e6f2f6" stroke-width="2.0" opacity="0.10"/><path d="M828.6 432.6l2.9 -18.1" stroke="#cfe5f2" stroke-width="1.2" opacity="0.30"/><path d="M621.1 414.6l1.5 -9.2" stroke="#a9cde6" stroke-width="2.0" opacity="0.15"/><path d="M725.1 377.6l4.2 -26.5" stroke="#fdf0cf" stroke-width="2.5" opacity="0.16"/><path d="M858.6 459.2l1.3 -8.2" stroke="#5a89c3" stroke-width="0.9" opacity="0.15"/><path d="M612.1 432.4l4.9 -30.6" stroke="#a9cde6" stroke-width="1.2" opacity="0.18"/><path d="M742.0 367.5l4.5 -28.2" stroke="#fdf0cf" stroke-width="1.7" opacity="0.27"/><path d="M776.4 452.6l2.8 -17.4" stroke="#6f9fd2" stroke-width="1.8" opacity="0.16"/><path d="M603.5 410.8l1.3 -8.0" stroke="#6f9fd2" stroke-width="1.1" opacity="0.11"/><path d="M566.0 465.4l2.4 -15.0" stroke="#6f9fd2" stroke-width="2.0" opacity="0.11"/><path d="M577.3 414.6l1.1 -7.1" stroke="#5f8fc8" stroke-width="2.1" opacity="0.11"/><path d="M738.2 364.7l4.4 -27.3" stroke="#fdf0cf" stroke-width="2.3" opacity="0.11"/><path d="M836.9 462.8l4.9 -30.6" stroke="#5f8fc8" stroke-width="1.3" opacity="0.14"/><path d="M540.1 469.0l4.8 -29.7" stroke="#5f8fc8" stroke-width="2.2" opacity="0.23"/><path d="M630.3 317.8l1.4 -8.5" stroke="#fdf0cf" stroke-width="1.4" opacity="0.17"/><path d="M621.0 362.5l4.8 -30.2" stroke="#ffffff" stroke-width="2.0" opacity="0.17"/><path d="M642.2 471.6l3.1 -19.1" stroke="#a9cde6" stroke-width="1.9" opacity="0.11"/><path d="M675.0 377.7l4.2 -26.1" stroke="#c5e0ef" stroke-width="1.7" opacity="0.11"/><path d="M729.5 427.2l4.4 -27.5" stroke="#5a89c3" stroke-width="2.2" opacity="0.13"/><path d="M528.5 336.0l4.1 -25.8" stroke="#ffffff" stroke-width="0.9" opacity="0.20"/><path d="M703.0 441.8l1.7 -10.8" stroke="#cfe5f2" stroke-width="1.8" opacity="0.29"/><path d="M711.4 402.9l1.6 -10.1" stroke="#6f9fd2" stroke-width="2.4" opacity="0.15"/><path d="M587.0 467.1l4.1 -25.9" stroke="#cfe5f2" stroke-width="2.2" opacity="0.24"/><path d="M808.1 411.8l2.4 -15.2" stroke="#cfe5f2" stroke-width="2.4" opacity="0.28"/><path d="M793.3 375.1l3.6 -22.8" stroke="#c5e0ef" stroke-width="1.2" opacity="0.15"/><path d="M848.8 389.2l2.5 -15.9" stroke="#b5d6ea" stroke-width="2.4" opacity="0.13"/><path d="M739.5 422.7l3.5 -21.7" stroke="#5f8fc8" stroke-width="1.5" opacity="0.17"/><path d="M583.3 450.1l3.7 -23.2" stroke="#a9cde6" stroke-width="1.2" opacity="0.19"/><path d="M803.3 403.1l1.5 -9.3" stroke="#cfe5f2" stroke-width="1.9" opacity="0.24"/><path d="M708.7 347.6l4.1 -25.6" stroke="#fdf0cf" stroke-width="1.1" opacity="0.13"/><path d="M616.1 358.1l3.1 -19.6" stroke="#b5d6ea" stroke-width="1.3" opacity="0.29"/><path d="M620.1 470.0l5.1 -31.9" stroke="#6f9fd2" stroke-width="2.4" opacity="0.12"/><path d="M664.8 475.1l4.3 -26.7" stroke="#a9cde6" stroke-width="1.6" opacity="0.14"/><path d="M755.1 319.0l1.8 -11.4" stroke="#e6f2f6" stroke-width="1.6" opacity="0.10"/><path d="M832.1 377.7l1.9 -11.8" stroke="#c5e0ef" stroke-width="1.6" opacity="0.13"/><path d="M742.9 372.0l4.0 -25.3" stroke="#ffffff" stroke-width="2.0" opacity="0.22"/><path d="M758.4 450.6l3.7 -23.4" stroke="#5a89c3" stroke-width="2.3" opacity="0.24"/><path d="M756.4 380.8l2.3 -14.1" stroke="#ffffff" stroke-width="2.3" opacity="0.15"/><path d="M670.4 426.8l1.6 -10.1" stroke="#cfe5f2" stroke-width="1.7" opacity="0.10"/><path d="M833.6 392.2l3.7 -23.2" stroke="#b5d6ea" stroke-width="2.3" opacity="0.17"/><path d="M531.8 448.1l4.7 -29.6" stroke="#5f8fc8" stroke-width="1.0" opacity="0.21"/><path d="M585.3 439.2l4.9 -30.5" stroke="#5a89c3" stroke-width="1.5" opacity="0.27"/><path d="M690.6 336.5l2.9 -18.4" stroke="#ffffff" stroke-width="1.9" opacity="0.27"/><path d="M713.7 373.0l4.9 -30.6" stroke="#b5d6ea" stroke-width="2.5" opacity="0.14"/><path d="M710.9 466.0l4.0 -25.0" stroke="#5a89c3" stroke-width="1.5" opacity="0.11"/><path d="M625.7 371.1l1.0 -6.3" stroke="#ffffff" stroke-width="2.4" opacity="0.23"/><path d="M768.3 403.3l1.4 -8.8" stroke="#a9cde6" stroke-width="2.1" opacity="0.29"/><path d="M715.6 339.0l4.3 -26.8" stroke="#e6f2f6" stroke-width="1.6" opacity="0.13"/><path d="M858.9 312.3l4.3 -26.8" stroke="#fdf0cf" stroke-width="1.7" opacity="0.21"/><path d="M608.5 471.6l2.4 -15.2" stroke="#cfe5f2" stroke-width="1.6" opacity="0.16"/><path d="M723.2 322.3l4.4 -27.7" stroke="#fbe9c0" stroke-width="2.2" opacity="0.15"/><path d="M778.7 422.4l5.0 -31.6" stroke="#6f9fd2" stroke-width="1.7" opacity="0.26"/><path d="M812.4 363.7l3.7 -23.0" stroke="#c5e0ef" stroke-width="1.7" opacity="0.19"/><path d="M754.9 417.3l2.5 -15.4" stroke="#a9cde6" stroke-width="2.3" opacity="0.11"/><path d="M822.7 461.2l4.2 -26.4" stroke="#6f9fd2" stroke-width="1.7" opacity="0.17"/><path d="M735.4 417.0l1.8 -11.5" stroke="#5f8fc8" stroke-width="1.9" opacity="0.15"/><path d="M564.1 325.4l1.9 -12.1" stroke="#e6f2f6" stroke-width="1.5" opacity="0.13"/><path d="M849.9 440.9l1.7 -10.4" stroke="#5a89c3" stroke-width="2.5" opacity="0.12"/><path d="M849.0 397.6l3.6 -22.6" stroke="#c5e0ef" stroke-width="1.2" opacity="0.24"/><path d="M717.0 432.1l2.8 -17.4" stroke="#5f8fc8" stroke-width="1.8" opacity="0.15"/><path d="M611.4 324.8l3.0 -18.8" stroke="#ffffff" stroke-width="1.7" opacity="0.28"/><path d="M777.4 343.9l1.6 -10.3" stroke="#ffffff" stroke-width="1.2" opacity="0.16"/><path d="M775.7 388.6l2.2 -13.7" stroke="#ffffff" stroke-width="1.5" opacity="0.18"/><path d="M870.0 313.4l3.6 -22.6" stroke="#ffffff" stroke-width="0.9" opacity="0.11"/><path d="M790.2 477.8l4.3 -27.0" stroke="#5f8fc8" stroke-width="1.7" opacity="0.20"/><path d="M847.5 306.0l3.9 -24.7" stroke="#fdf0cf" stroke-width="1.4" opacity="0.27"/><path d="M658.4 384.5l3.1 -19.7" stroke="#b5d6ea" stroke-width="1.4" opacity="0.17"/><path d="M617.6 309.4l2.2 -13.5" stroke="#fbe9c0" stroke-width="2.2" opacity="0.18"/><path d="M707.3 348.4l3.1 -19.2" stroke="#b5d6ea" stroke-width="1.9" opacity="0.26"/><path d="M645.8 356.4l2.2 -13.8" stroke="#fdf0cf" stroke-width="2.5" opacity="0.12"/><path d="M882.8 371.0l3.3 -20.4" stroke="#ffffff" stroke-width="1.8" opacity="0.11"/><path d="M634.9 301.1l1.8 -10.9" stroke="#e6f2f6" stroke-width="1.9" opacity="0.23"/><path d="M808.9 461.9l3.5 -21.9" stroke="#5a89c3" stroke-width="1.1" opacity="0.23"/><path d="M773.3 456.0l1.3 -8.2" stroke="#5f8fc8" stroke-width="2.0" opacity="0.19"/><path d="M799.5 318.0l1.7 -10.7" stroke="#ffffff" stroke-width="1.6" opacity="0.12"/><path d="M859.3 302.4l4.6 -28.7" stroke="#fdf0cf" stroke-width="2.2" opacity="0.21"/><path d="M619.8 353.8l2.7 -17.0" stroke="#c5e0ef" stroke-width="0.9" opacity="0.21"/><path d="M733.9 462.7l3.0 -18.9" stroke="#5a89c3" stroke-width="1.0" opacity="0.12"/><path d="M816.5 402.4l4.8 -29.9" stroke="#cfe5f2" stroke-width="1.0" opacity="0.24"/><path d="M739.4 476.8l3.7 -23.1" stroke="#6f9fd2" stroke-width="1.7" opacity="0.18"/><path d="M564.3 414.7l1.8 -11.5" stroke="#6f9fd2" stroke-width="1.9" opacity="0.19"/><path d="M531.3 419.1l5.1 -31.7" stroke="#5f8fc8" stroke-width="1.2" opacity="0.12"/><path d="M696.2 349.0l3.3 -20.8" stroke="#ffffff" stroke-width="2.1" opacity="0.14"/><path d="M545.8 437.8l3.9 -24.6" stroke="#6f9fd2" stroke-width="2.1" opacity="0.12"/><path d="M751.8 426.2l2.9 -18.0" stroke="#a9cde6" stroke-width="2.4" opacity="0.11"/><path d="M539.4 310.8l4.6 -29.0" stroke="#ffffff" stroke-width="1.5" opacity="0.16"/><path d="M741.6 470.5l4.4 -27.7" stroke="#5a89c3" stroke-width="1.0" opacity="0.17"/><path d="M732.7 378.1l3.8 -23.6" stroke="#b5d6ea" stroke-width="2.4" opacity="0.12"/><path d="M867.6 329.2l4.3 -26.8" stroke="#e6f2f6" stroke-width="1.5" opacity="0.26"/><path d="M864.4 439.7l3.3 -20.7" stroke="#a9cde6" stroke-width="1.3" opacity="0.22"/><path d="M759.7 442.7l3.5 -21.6" stroke="#5a89c3" stroke-width="2.1" opacity="0.10"/><path d="M581.8 448.2l3.4 -21.2" stroke="#6f9fd2" stroke-width="1.5" opacity="0.24"/><path d="M742.2 459.5l4.3 -27.0" stroke="#a9cde6" stroke-width="2.0" opacity="0.16"/><path d="M623.4 328.0l4.8 -29.9" stroke="#ffffff" stroke-width="1.4" opacity="0.13"/><path d="M845.1 476.7l1.6 -9.8" stroke="#5a89c3" stroke-width="2.0" opacity="0.28"/><path d="M651.5 315.1l3.3 -20.4" stroke="#e6f2f6" stroke-width="1.2" opacity="0.25"/><path d="M859.7 341.7l3.5 -21.8" stroke="#e6f2f6" stroke-width="1.6" opacity="0.14"/><path d="M618.7 433.7l4.3 -26.6" stroke="#cfe5f2" stroke-width="1.8" opacity="0.21"/><path d="M654.4 311.1l2.6 -16.4" stroke="#fbe9c0" stroke-width="2.3" opacity="0.20"/><path d="M697.7 404.9l1.7 -10.9" stroke="#6f9fd2" stroke-width="1.0" opacity="0.26"/><path d="M631.2 402.9l2.5 -15.3" stroke="#5a89c3" stroke-width="2.3" opacity="0.15"/><path d="M856.5 387.8l4.6 -28.5" stroke="#c5e0ef" stroke-width="1.9" opacity="0.26"/><path d="M583.6 406.3l2.4 -15.0" stroke="#5a89c3" stroke-width="1.9" opacity="0.12"/><path d="M600.9 455.0l3.3 -20.7" stroke="#5a89c3" stroke-width="1.8" opacity="0.15"/><path d="M805.4 375.8l4.9 -30.6" stroke="#fdf0cf" stroke-width="2.2" opacity="0.29"/><path d="M618.4 306.7l1.8 -11.2" stroke="#fdf0cf" stroke-width="1.5" opacity="0.11"/><path d="M540.4 365.8l3.9 -24.3" stroke="#ffffff" stroke-width="2.4" opacity="0.28"/><path d="M550.9 406.5l2.6 -16.3" stroke="#5f8fc8" stroke-width="2.0" opacity="0.12"/><path d="M641.5 341.5l1.3 -8.3" stroke="#e6f2f6" stroke-width="1.2" opacity="0.27"/><path d="M660.0 341.9l4.0 -24.7" stroke="#fdf0cf" stroke-width="1.0" opacity="0.15"/><path d="M653.3 460.7l4.7 -29.5" stroke="#5f8fc8" stroke-width="1.3" opacity="0.20"/><path d="M791.3 435.6l3.0 -18.6" stroke="#5f8fc8" stroke-width="1.1" opacity="0.25"/><path d="M862.4 420.5l2.2 -13.8" stroke="#5a89c3" stroke-width="1.6" opacity="0.23"/><path d="M695.6 366.2l2.6 -16.1" stroke="#c5e0ef" stroke-width="1.7" opacity="0.13"/><path d="M612.9 325.5l3.8 -23.6" stroke="#ffffff" stroke-width="1.6" opacity="0.28"/><path d="M812.4 327.9l4.4 -27.7" stroke="#ffffff" stroke-width="2.4" opacity="0.27"/><path d="M844.4 324.9l2.8 -17.6" stroke="#ffffff" stroke-width="2.4" opacity="0.18"/><path d="M535.7 313.4l5.0 -31.3" stroke="#fbe9c0" stroke-width="2.2" opacity="0.20"/><path d="M751.6 325.4l1.9 -11.8" stroke="#ffffff" stroke-width="1.2" opacity="0.19"/><path d="M844.6 378.1l1.6 -9.9" stroke="#ffffff" stroke-width="1.6" opacity="0.13"/><path d="M624.5 449.4l2.4 -14.7" stroke="#6f9fd2" stroke-width="1.3" opacity="0.12"/><path d="M690.4 385.9l1.6 -10.0" stroke="#fdf0cf" stroke-width="1.0" opacity="0.28"/><path d="M765.9 337.6l2.9 -18.4" stroke="#fbe9c0" stroke-width="1.1" opacity="0.25"/><path d="M873.6 376.9l2.0 -12.8" stroke="#b5d6ea" stroke-width="2.4" opacity="0.12"/><path d="M631.0 459.5l1.2 -7.5" stroke="#a9cde6" stroke-width="1.1" opacity="0.23"/><path d="M685.4 390.4l3.1 -19.3" stroke="#ffffff" stroke-width="0.9" opacity="0.27"/><path d="M715.5 333.1l2.8 -17.3" stroke="#e6f2f6" stroke-width="1.2" opacity="0.21"/><path d="M577.2 332.1l4.2 -26.0" stroke="#fdf0cf" stroke-width="1.2" opacity="0.12"/><path d="M559.1 408.3l3.0 -18.9" stroke="#a9cde6" stroke-width="1.2" opacity="0.13"/><path d="M766.5 411.9l1.8 -11.0" stroke="#a9cde6" stroke-width="1.2" opacity="0.11"/><path d="M788.8 372.6l4.0 -24.8" stroke="#ffffff" stroke-width="1.7" opacity="0.17"/><path d="M628.3 413.8l4.9 -30.6" stroke="#5f8fc8" stroke-width="0.9" opacity="0.28"/><path d="M697.7 455.2l2.1 -12.9" stroke="#6f9fd2" stroke-width="1.8" opacity="0.30"/><path d="M541.1 425.0l3.4 -20.9" stroke="#5f8fc8" stroke-width="1.5" opacity="0.29"/><path d="M872.9 312.7l2.4 -15.3" stroke="#fdf0cf" stroke-width="2.2" opacity="0.27"/><path d="M642.3 426.6l2.5 -15.9" stroke="#5f8fc8" stroke-width="1.4" opacity="0.12"/><path d="M788.2 379.5l1.1 -6.7" stroke="#fdf0cf" stroke-width="1.1" opacity="0.15"/><path d="M559.5 410.2l1.7 -10.4" stroke="#a9cde6" stroke-width="1.3" opacity="0.26"/><path d="M538.7 317.2l3.9 -24.2" stroke="#fdf0cf" stroke-width="1.3" opacity="0.27"/><path d="M754.7 382.6l2.0 -12.2" stroke="#ffffff" stroke-width="1.1" opacity="0.27"/><path d="M783.3 308.0l1.5 -9.2" stroke="#e6f2f6" stroke-width="1.8" opacity="0.25"/><path d="M567.2 321.6l4.6 -29.0" stroke="#fdf0cf" stroke-width="2.3" opacity="0.13"/><path d="M731.9 432.9l1.6 -10.3" stroke="#5f8fc8" stroke-width="2.4" opacity="0.18"/><path d="M677.7 449.5l3.1 -19.7" stroke="#cfe5f2" stroke-width="2.5" opacity="0.11"/><path d="M657.3 371.3l4.4 -27.8" stroke="#ffffff" stroke-width="2.2" opacity="0.21"/><path d="M879.0 357.1l2.6 -16.4" stroke="#fdf0cf" stroke-width="1.0" opacity="0.20"/><path d="M869.0 466.3l2.0 -12.5" stroke="#cfe5f2" stroke-width="2.0" opacity="0.10"/><path d="M566.8 333.4l2.3 -14.4" stroke="#fdf0cf" stroke-width="1.7" opacity="0.10"/><path d="M577.6 472.6l4.2 -26.2" stroke="#cfe5f2" stroke-width="1.9" opacity="0.26"/><path d="M842.8 457.5l1.1 -6.9" stroke="#5a89c3" stroke-width="1.3" opacity="0.24"/><path d="M625.3 396.5l4.8 -30.0" stroke="#fdf0cf" stroke-width="1.1" opacity="0.12"/><path d="M532.9 342.1l1.1 -7.0" stroke="#ffffff" stroke-width="1.4" opacity="0.23"/><path d="M570.9 405.8l4.9 -30.9" stroke="#5a89c3" stroke-width="2.3" opacity="0.12"/><path d="M738.1 465.9l2.8 -17.4" stroke="#5a89c3" stroke-width="1.1" opacity="0.16"/><path d="M672.7 351.3l2.0 -12.3" stroke="#ffffff" stroke-width="2.1" opacity="0.16"/><path d="M689.7 423.7l1.9 -11.8" stroke="#cfe5f2" stroke-width="1.2" opacity="0.24"/><path d="M692.1 397.5l3.5 -21.9" stroke="#ffffff" stroke-width="2.2" opacity="0.11"/><path d="M646.8 333.6l3.2 -20.2" stroke="#e6f2f6" stroke-width="0.9" opacity="0.17"/><path d="M834.8 342.5l3.3 -20.5" stroke="#e6f2f6" stroke-width="1.3" opacity="0.28"/><path d="M604.9 310.1l1.1 -6.6" stroke="#ffffff" stroke-width="1.9" opacity="0.17"/><path d="M762.1 392.0l4.4 -27.7" stroke="#c5e0ef" stroke-width="2.1" opacity="0.12"/><path d="M608.2 470.8l4.0 -25.2" stroke="#6f9fd2" stroke-width="1.6" opacity="0.23"/><path d="M578.0 336.0l3.5 -21.9" stroke="#fbe9c0" stroke-width="2.2" opacity="0.20"/><path d="M791.0 432.3l4.1 -25.8" stroke="#cfe5f2" stroke-width="1.3" opacity="0.23"/><path d="M753.0 425.2l2.7 -16.7" stroke="#5f8fc8" stroke-width="0.9" opacity="0.25"/><path d="M736.6 388.6l5.0 -31.0" stroke="#fdf0cf" stroke-width="1.1" opacity="0.27"/><path d="M627.4 410.6l1.4 -8.9" stroke="#cfe5f2" stroke-width="2.0" opacity="0.16"/><path d="M653.5 362.8l3.1 -19.7" stroke="#fdf0cf" stroke-width="1.5" opacity="0.16"/><path d="M808.2 451.2l3.0 -19.0" stroke="#cfe5f2" stroke-width="1.4" opacity="0.21"/><path d="M813.9 377.5l2.5 -15.8" stroke="#b5d6ea" stroke-width="1.0" opacity="0.28"/><path d="M643.3 450.1l4.4 -27.8" stroke="#a9cde6" stroke-width="1.2" opacity="0.19"/><path d="M852.2 301.9l1.2 -7.2" stroke="#e6f2f6" stroke-width="1.4" opacity="0.21"/><path d="M639.2 410.4l2.8 -17.4" stroke="#5a89c3" stroke-width="2.1" opacity="0.19"/><path d="M693.3 307.2l3.8 -23.6" stroke="#e6f2f6" stroke-width="2.4" opacity="0.24"/><path d="M715.0 317.6l2.5 -15.7" stroke="#e6f2f6" stroke-width="1.9" opacity="0.29"/><path d="M582.9 333.5l2.7 -17.0" stroke="#e6f2f6" stroke-width="1.6" opacity="0.22"/><path d="M882.6 361.1l3.2 -19.8" stroke="#ffffff" stroke-width="1.2" opacity="0.16"/><path d="M876.3 447.0l3.1 -19.3" stroke="#5f8fc8" stroke-width="1.9" opacity="0.16"/><path d="M650.2 466.5l3.1 -19.2" stroke="#cfe5f2" stroke-width="1.9" opacity="0.20"/><path d="M818.6 337.0l4.7 -29.2" stroke="#e6f2f6" stroke-width="1.2" opacity="0.23"/><path d="M742.7 362.9l5.1 -31.8" stroke="#ffffff" stroke-width="2.0" opacity="0.10"/><path d="M529.0 426.5l3.3 -20.4" stroke="#a9cde6" stroke-width="1.5" opacity="0.12"/><path d="M533.5 305.3l1.7 -10.6" stroke="#fbe9c0" stroke-width="2.3" opacity="0.28"/><path d="M711.1 325.6l1.8 -11.2" stroke="#ffffff" stroke-width="1.1" opacity="0.20"/><path d="M709.4 305.2l1.3 -8.0" stroke="#e6f2f6" stroke-width="2.2" opacity="0.22"/><path d="M815.1 311.1l1.0 -6.3" stroke="#fbe9c0" stroke-width="1.1" opacity="0.15"/><path d="M626.1 305.9l3.6 -22.3" stroke="#ffffff" stroke-width="1.5" opacity="0.19"/><path d="M665.3 309.7l4.7 -29.2" stroke="#ffffff" stroke-width="1.6" opacity="0.22"/><path d="M616.8 307.8l4.8 -30.2" stroke="#fdf0cf" stroke-width="1.4" opacity="0.28"/><path d="M818.5 354.1l3.5 -21.7" stroke="#ffffff" stroke-width="2.5" opacity="0.11"/><path d="M769.1 420.1l3.4 -21.2" stroke="#cfe5f2" stroke-width="1.4" opacity="0.28"/><path d="M700.4 441.1l2.0 -12.3" stroke="#6f9fd2" stroke-width="1.2" opacity="0.18"/><path d="M530.7 457.0l2.6 -16.3" stroke="#a9cde6" stroke-width="1.1" opacity="0.21"/><path d="M665.3 371.8l1.2 -7.7" stroke="#ffffff" stroke-width="1.6" opacity="0.28"/><path d="M725.2 369.0l2.9 -18.1" stroke="#c5e0ef" stroke-width="1.3" opacity="0.11"/><path d="M764.5 360.8l1.6 -10.1" stroke="#b5d6ea" stroke-width="1.0" opacity="0.15"/><path d="M825.3 322.7l2.8 -17.5" stroke="#fdf0cf" stroke-width="1.2" opacity="0.17"/><path d="M785.2 367.1l4.9 -30.9" stroke="#b5d6ea" stroke-width="1.4" opacity="0.20"/><path d="M600.8 452.8l3.8 -23.6" stroke="#a9cde6" stroke-width="1.9" opacity="0.19"/><path d="M880.4 395.2l2.6 -16.5" stroke="#fdf0cf" stroke-width="1.2" opacity="0.27"/><path d="M571.7 391.3l3.2 -20.1" stroke="#c5e0ef" stroke-width="2.1" opacity="0.25"/><path d="M538.2 427.8l1.6 -9.8" stroke="#5f8fc8" stroke-width="1.5" opacity="0.12"/><path d="M591.0 451.5l2.3 -14.3" stroke="#5f8fc8" stroke-width="1.0" opacity="0.28"/><path d="M814.6 435.0l1.8 -11.0" stroke="#a9cde6" stroke-width="1.0" opacity="0.16"/><path d="M818.8 371.0l2.4 -15.3" stroke="#ffffff" stroke-width="2.1" opacity="0.28"/><path d="M834.6 323.5l2.1 -13.2" stroke="#ffffff" stroke-width="1.5" opacity="0.26"/><path d="M774.0 459.7l1.1 -6.7" stroke="#cfe5f2" stroke-width="1.3" opacity="0.27"/><path d="M653.4 411.9l1.7 -10.7" stroke="#5f8fc8" stroke-width="1.3" opacity="0.22"/><path d="M606.0 420.6l2.6 -16.5" stroke="#5a89c3" stroke-width="1.2" opacity="0.14"/><path d="M635.9 367.8l1.1 -7.0" stroke="#c5e0ef" stroke-width="1.9" opacity="0.29"/><path d="M729.0 340.5l3.0 -18.9" stroke="#fbe9c0" stroke-width="2.4" opacity="0.23"/><path d="M732.8 466.6l1.4 -8.9" stroke="#a9cde6" stroke-width="2.3" opacity="0.28"/><path d="M736.3 423.9l5.0 -31.3" stroke="#5f8fc8" stroke-width="1.0" opacity="0.16"/><path d="M804.7 361.5l4.8 -29.8" stroke="#ffffff" stroke-width="2.0" opacity="0.18"/><path d="M794.1 447.5l2.1 -13.3" stroke="#5f8fc8" stroke-width="1.5" opacity="0.29"/><path d="M685.6 360.6l3.1 -19.1" stroke="#ffffff" stroke-width="1.7" opacity="0.24"/><path d="M601.3 419.8l4.5 -28.0" stroke="#6f9fd2" stroke-width="1.7" opacity="0.14"/><path d="M867.0 446.9l3.3 -20.5" stroke="#6f9fd2" stroke-width="1.8" opacity="0.29"/><path d="M755.0 396.8l2.0 -12.5" stroke="#ffffff" stroke-width="1.2" opacity="0.17"/><path d="M560.9 413.3l1.5 -9.6" stroke="#cfe5f2" stroke-width="2.0" opacity="0.15"/><path d="M614.0 391.7l2.8 -17.6" stroke="#c5e0ef" stroke-width="2.0" opacity="0.13"/><path d="M779.9 404.6l2.0 -12.3" stroke="#5f8fc8" stroke-width="1.8" opacity="0.25"/><path d="M588.2 418.6l3.5 -21.6" stroke="#cfe5f2" stroke-width="2.2" opacity="0.18"/><path d="M601.5 422.8l1.0 -6.3" stroke="#cfe5f2" stroke-width="1.2" opacity="0.11"/><path d="M628.0 335.1l3.9 -24.2" stroke="#e6f2f6" stroke-width="2.4" opacity="0.13"/><path d="M686.4 401.3l2.2 -13.5" stroke="#5a89c3" stroke-width="1.0" opacity="0.10"/><path d="M881.2 433.6l1.3 -8.2" stroke="#a9cde6" stroke-width="2.5" opacity="0.21"/><path d="M566.7 387.0l2.8 -17.3" stroke="#b5d6ea" stroke-width="2.2" opacity="0.16"/><path d="M655.9 316.2l2.1 -13.4" stroke="#fbe9c0" stroke-width="1.9" opacity="0.12"/><path d="M794.1 304.5l2.6 -16.3" stroke="#fdf0cf" stroke-width="1.4" opacity="0.14"/><path d="M755.2 450.5l4.8 -30.1" stroke="#6f9fd2" stroke-width="1.1" opacity="0.24"/><path d="M638.5 409.8l2.5 -15.9" stroke="#a9cde6" stroke-width="1.4" opacity="0.17"/><path d="M724.2 365.7l4.4 -27.6" stroke="#b5d6ea" stroke-width="1.0" opacity="0.12"/><path d="M813.8 464.0l5.1 -32.0" stroke="#cfe5f2" stroke-width="2.3" opacity="0.29"/><path d="M704.0 388.9l1.6 -10.1" stroke="#c5e0ef" stroke-width="1.9" opacity="0.23"/><path d="M578.5 340.5l1.5 -9.6" stroke="#e6f2f6" stroke-width="1.0" opacity="0.11"/><path d="M684.5 334.0l4.0 -24.8" stroke="#ffffff" stroke-width="1.0" opacity="0.22"/><path d="M824.7 391.0l1.6 -9.7" stroke="#ffffff" stroke-width="2.0" opacity="0.20"/><path d="M678.0 360.3l2.8 -17.4" stroke="#b5d6ea" stroke-width="2.3" opacity="0.13"/><path d="M633.3 378.9l3.3 -20.6" stroke="#c5e0ef" stroke-width="1.8" opacity="0.19"/><path d="M721.2 392.0l2.7 -17.1" stroke="#fdf0cf" stroke-width="2.4" opacity="0.27"/><path d="M874.9 471.2l3.5 -22.1" stroke="#5f8fc8" stroke-width="2.1" opacity="0.17"/><path d="M762.4 400.6l2.7 -16.9" stroke="#a9cde6" stroke-width="1.7" opacity="0.23"/><path d="M634.6 361.1l4.6 -29.0" stroke="#ffffff" stroke-width="2.3" opacity="0.14"/><path d="M791.3 423.1l1.6 -9.8" stroke="#5a89c3" stroke-width="1.5" opacity="0.22"/><path d="M676.2 394.3l3.3 -20.7" stroke="#ffffff" stroke-width="1.3" opacity="0.15"/><path d="M872.8 336.1l4.1 -25.5" stroke="#fdf0cf" stroke-width="2.3" opacity="0.15"/><path d="M561.8 394.5l2.0 -12.5" stroke="#ffffff" stroke-width="1.3" opacity="0.19"/><path d="M720.7 424.0l4.0 -25.1" stroke="#5a89c3" stroke-width="1.8" opacity="0.27"/><path d="M769.9 442.5l1.5 -9.5" stroke="#5a89c3" stroke-width="1.8" opacity="0.24"/><path d="M797.5 320.4l5.1 -31.8" stroke="#ffffff" stroke-width="1.6" opacity="0.24"/><path d="M721.8 472.3l1.8 -11.0" stroke="#cfe5f2" stroke-width="2.1" opacity="0.13"/><path d="M804.3 310.2l1.9 -12.2" stroke="#fbe9c0" stroke-width="1.0" opacity="0.24"/><path d="M868.2 381.8l1.5 -9.1" stroke="#b5d6ea" stroke-width="1.6" opacity="0.28"/><path d="M749.1 455.2l3.3 -20.6" stroke="#a9cde6" stroke-width="1.2" opacity="0.25"/><path d="M649.5 435.9l3.8 -23.7" stroke="#a9cde6" stroke-width="1.1" opacity="0.17"/><path d="M790.5 468.7l4.0 -24.8" stroke="#5f8fc8" stroke-width="2.2" opacity="0.17"/><path d="M654.6 358.3l3.5 -21.7" stroke="#ffffff" stroke-width="2.4" opacity="0.24"/><path d="M618.6 334.4l2.8 -17.6" stroke="#e6f2f6" stroke-width="1.1" opacity="0.10"/><path d="M567.3 442.5l1.7 -10.8" stroke="#5a89c3" stroke-width="2.4" opacity="0.27"/><path d="M766.4 448.8l3.4 -21.3" stroke="#a9cde6" stroke-width="1.8" opacity="0.24"/><path d="M815.7 468.9l1.0 -6.4" stroke="#a9cde6" stroke-width="2.5" opacity="0.20"/><path d="M700.3 305.6l4.4 -27.8" stroke="#ffffff" stroke-width="1.2" opacity="0.26"/><path d="M769.9 369.9l2.9 -18.4" stroke="#b5d6ea" stroke-width="2.0" opacity="0.19"/><path d="M609.6 470.5l3.1 -19.4" stroke="#a9cde6" stroke-width="1.4" opacity="0.14"/><path d="M846.3 404.9l1.1 -7.1" stroke="#6f9fd2" stroke-width="2.2" opacity="0.25"/><path d="M646.0 383.4l4.9 -30.4" stroke="#c5e0ef" stroke-width="0.9" opacity="0.22"/><path d="M646.8 303.7l2.9 -17.9" stroke="#ffffff" stroke-width="1.9" opacity="0.25"/><path d="M579.1 368.4l1.2 -7.7" stroke="#c5e0ef" stroke-width="1.5" opacity="0.21"/><path d="M736.1 324.8l3.9 -24.2" stroke="#ffffff" stroke-width="2.3" opacity="0.25"/><path d="M753.4 413.0l2.5 -15.4" stroke="#a9cde6" stroke-width="2.2" opacity="0.15"/><path d="M811.6 325.1l1.3 -7.9" stroke="#fbe9c0" stroke-width="2.1" opacity="0.20"/><path d="M754.1 362.4l3.3 -20.3" stroke="#ffffff" stroke-width="1.4" opacity="0.24"/><path d="M767.1 457.3l4.2 -26.3" stroke="#5a89c3" stroke-width="1.5" opacity="0.15"/><path d="M611.6 362.2l1.5 -9.5" stroke="#ffffff" stroke-width="2.3" opacity="0.23"/><path d="M672.2 370.5l4.2 -26.1" stroke="#b5d6ea" stroke-width="1.8" opacity="0.13"/><path d="M784.3 344.9l3.3 -20.9" stroke="#fbe9c0" stroke-width="1.0" opacity="0.14"/><path d="M857.2 404.1l2.2 -13.9" stroke="#a9cde6" stroke-width="2.5" opacity="0.17"/><path d="M803.7 376.2l4.6 -28.6" stroke="#ffffff" stroke-width="2.2" opacity="0.16"/><path d="M590.4 459.8l3.2 -20.2" stroke="#6f9fd2" stroke-width="1.9" opacity="0.15"/><path d="M535.1 308.5l2.8 -17.6" stroke="#fbe9c0" stroke-width="2.3" opacity="0.23"/><path d="M598.0 430.6l5.0 -31.0" stroke="#5a89c3" stroke-width="1.0" opacity="0.11"/><path d="M818.6 402.4l4.0 -24.7" stroke="#5f8fc8" stroke-width="1.2" opacity="0.21"/><path d="M839.7 413.9l4.8 -30.0" stroke="#6f9fd2" stroke-width="1.4" opacity="0.27"/><path d="M537.6 386.6l3.5 -21.9" stroke="#c5e0ef" stroke-width="1.2" opacity="0.27"/><path d="M811.5 315.5l3.5 -21.9" stroke="#e6f2f6" stroke-width="2.5" opacity="0.18"/><path d="M862.7 455.4l1.1 -6.7" stroke="#a9cde6" stroke-width="1.8" opacity="0.30"/><path d="M547.9 409.3l4.0 -24.8" stroke="#a9cde6" stroke-width="1.2" opacity="0.10"/><path d="M602.9 394.2l4.5 -27.9" stroke="#c5e0ef" stroke-width="2.2" opacity="0.18"/><path d="M719.8 404.8l3.3 -20.4" stroke="#5a89c3" stroke-width="1.8" opacity="0.15"/><path d="M748.2 444.8l2.9 -18.4" stroke="#5f8fc8" stroke-width="2.1" opacity="0.16"/><path d="M803.0 474.0l2.8 -17.8" stroke="#a9cde6" stroke-width="1.5" opacity="0.21"/><path d="M625.5 345.0l3.3 -20.5" stroke="#ffffff" stroke-width="1.9" opacity="0.25"/><path d="M657.0 476.1l1.9 -11.9" stroke="#5f8fc8" stroke-width="2.4" opacity="0.22"/><path d="M571.5 396.7l1.8 -11.3" stroke="#b5d6ea" stroke-width="1.3" opacity="0.22"/><path d="M790.6 460.7l4.6 -28.6" stroke="#6f9fd2" stroke-width="1.7" opacity="0.17"/><path d="M780.6 378.6l4.5 -28.4" stroke="#b5d6ea" stroke-width="1.9" opacity="0.17"/><path d="M813.0 381.9l2.3 -14.4" stroke="#ffffff" stroke-width="1.1" opacity="0.25"/><path d="M551.3 414.9l2.6 -16.4" stroke="#a9cde6" stroke-width="1.0" opacity="0.21"/><path d="M673.9 463.6l4.9 -30.6" stroke="#6f9fd2" stroke-width="0.9" opacity="0.10"/><path d="M780.5 343.0l2.4 -15.2" stroke="#fbe9c0" stroke-width="2.1" opacity="0.23"/><path d="M634.3 477.0l1.9 -11.6" stroke="#5a89c3" stroke-width="2.2" opacity="0.20"/><path d="M860.5 436.9l4.9 -30.8" stroke="#6f9fd2" stroke-width="2.2" opacity="0.16"/><path d="M646.0 386.4l4.7 -29.2" stroke="#b5d6ea" stroke-width="1.4" opacity="0.22"/><path d="M868.6 337.7l1.2 -7.4" stroke="#fdf0cf" stroke-width="2.3" opacity="0.25"/><path d="M544.4 437.8l2.8 -17.4" stroke="#cfe5f2" stroke-width="2.3" opacity="0.30"/><path d="M633.9 304.3l1.4 -8.9" stroke="#ffffff" stroke-width="1.1" opacity="0.16"/><path d="M706.9 362.6l4.1 -25.5" stroke="#ffffff" stroke-width="2.0" opacity="0.12"/><path d="M648.9 463.5l3.9 -24.6" stroke="#a9cde6" stroke-width="2.5" opacity="0.11"/><path d="M611.5 441.0l3.8 -23.9" stroke="#5f8fc8" stroke-width="1.1" opacity="0.22"/><path d="M732.6 424.3l4.0 -24.9" stroke="#5f8fc8" stroke-width="2.5" opacity="0.16"/><path d="M840.8 321.4l3.0 -18.7" stroke="#fdf0cf" stroke-width="1.7" opacity="0.10"/><path d="M607.7 396.2l3.6 -22.5" stroke="#fdf0cf" stroke-width="1.7" opacity="0.12"/><path d="M653.9 388.3l4.8 -29.9" stroke="#c5e0ef" stroke-width="2.5" opacity="0.27"/><path d="M874.1 339.9l1.3 -7.9" stroke="#fdf0cf" stroke-width="0.9" opacity="0.15"/><path d="M872.0 335.0l1.2 -7.2" stroke="#fbe9c0" stroke-width="1.3" opacity="0.17"/><path d="M542.7 380.8l2.1 -13.3" stroke="#c5e0ef" stroke-width="2.0" opacity="0.30"/><path d="M839.2 427.8l2.6 -16.4" stroke="#a9cde6" stroke-width="1.8" opacity="0.18"/><path d="M581.8 435.5l4.6 -28.9" stroke="#6f9fd2" stroke-width="2.3" opacity="0.23"/><path d="M613.1 389.2l5.1 -31.7" stroke="#fdf0cf" stroke-width="2.1" opacity="0.30"/><path d="M821.9 418.1l1.3 -8.3" stroke="#5a89c3" stroke-width="2.2" opacity="0.28"/><path d="M545.6 423.6l2.3 -14.4" stroke="#cfe5f2" stroke-width="1.8" opacity="0.16"/><path d="M873.9 300.2l4.1 -25.4" stroke="#e6f2f6" stroke-width="1.7" opacity="0.22"/><path d="M882.1 341.7l3.6 -22.4" stroke="#e6f2f6" stroke-width="1.5" opacity="0.11"/><path d="M875.4 347.4l3.7 -23.1" stroke="#c5e0ef" stroke-width="1.0" opacity="0.26"/><path d="M764.5 464.5l4.1 -25.9" stroke="#a9cde6" stroke-width="2.4" opacity="0.19"/><path d="M784.9 392.9l2.9 -18.4" stroke="#b5d6ea" stroke-width="2.5" opacity="0.11"/><path d="M797.6 364.8l1.8 -11.3" stroke="#b5d6ea" stroke-width="2.2" opacity="0.15"/><path d="M589.4 446.3l2.9 -18.0" stroke="#5f8fc8" stroke-width="1.4" opacity="0.17"/><path d="M835.4 376.2l2.7 -16.7" stroke="#c5e0ef" stroke-width="1.5" opacity="0.17"/><path d="M764.0 393.0l2.2 -13.9" stroke="#ffffff" stroke-width="1.3" opacity="0.16"/><path d="M686.8 319.9l3.6 -22.5" stroke="#fdf0cf" stroke-width="2.1" opacity="0.13"/><path d="M770.1 365.3l3.1 -19.5" stroke="#b5d6ea" stroke-width="1.9" opacity="0.20"/><path d="M813.4 345.0l3.3 -20.5" stroke="#ffffff" stroke-width="1.8" opacity="0.11"/><path d="M591.5 427.8l2.1 -13.1" stroke="#a9cde6" stroke-width="1.3" opacity="0.15"/><path d="M684.0 393.5l3.0 -18.8" stroke="#ffffff" stroke-width="1.2" opacity="0.18"/><path d="M810.1 410.0l2.5 -15.7" stroke="#5f8fc8" stroke-width="2.0" opacity="0.18"/><path d="M542.9 434.1l5.0 -31.2" stroke="#cfe5f2" stroke-width="1.9" opacity="0.26"/><path d="M653.4 368.6l3.4 -21.0" stroke="#fdf0cf" stroke-width="1.2" opacity="0.29"/><path d="M781.4 366.3l3.7 -23.3" stroke="#c5e0ef" stroke-width="2.3" opacity="0.12"/><path d="M686.6 370.0l2.7 -16.8" stroke="#ffffff" stroke-width="1.1" opacity="0.21"/><path d="M860.9 424.8l2.8 -17.3" stroke="#cfe5f2" stroke-width="1.2" opacity="0.11"/><path d="M669.6 324.1l4.1 -25.6" stroke="#ffffff" stroke-width="2.0" opacity="0.25"/><path d="M671.0 307.2l3.8 -23.7" stroke="#fbe9c0" stroke-width="2.1" opacity="0.25"/><path d="M570.1 339.3l1.3 -8.0" stroke="#ffffff" stroke-width="1.1" opacity="0.12"/><path d="M796.2 400.5l1.2 -7.4" stroke="#6f9fd2" stroke-width="2.0" opacity="0.20"/><path d="M547.5 423.0l2.7 -16.9" stroke="#5a89c3" stroke-width="1.1" opacity="0.18"/><path d="M545.8 411.5l2.3 -14.3" stroke="#6f9fd2" stroke-width="1.7" opacity="0.10"/><path d="M880.0 348.9l2.1 -12.8" stroke="#c5e0ef" stroke-width="1.5" opacity="0.23"/><path d="M634.4 370.3l4.6 -29.0" stroke="#ffffff" stroke-width="1.4" opacity="0.15"/><path d="M663.4 377.6l3.2 -20.0" stroke="#c5e0ef" stroke-width="1.2" opacity="0.11"/><path d="M719.1 366.5l2.9 -18.1" stroke="#ffffff" stroke-width="2.0" opacity="0.13"/><path d="M859.2 360.8l2.9 -17.9" stroke="#fdf0cf" stroke-width="2.0" opacity="0.25"/><path d="M531.0 312.0l4.9 -30.7" stroke="#fbe9c0" stroke-width="1.0" opacity="0.14"/><path d="M684.3 335.7l1.8 -11.4" stroke="#e6f2f6" stroke-width="1.5" opacity="0.25"/><path d="M600.6 336.2l1.7 -10.7" stroke="#ffffff" stroke-width="1.0" opacity="0.27"/><path d="M553.6 406.1l1.7 -10.7" stroke="#5a89c3" stroke-width="2.1" opacity="0.13"/><path d="M606.6 428.2l4.1 -25.5" stroke="#6f9fd2" stroke-width="1.8" opacity="0.13"/><path d="M804.8 427.3l3.1 -19.4" stroke="#cfe5f2" stroke-width="1.1" opacity="0.26"/><path d="M866.5 373.8l3.7 -23.1" stroke="#c5e0ef" stroke-width="2.0" opacity="0.19"/><path d="M679.1 454.5l4.8 -30.0" stroke="#6f9fd2" stroke-width="1.0" opacity="0.27"/><path d="M632.5 341.4l3.4 -21.1" stroke="#fbe9c0" stroke-width="2.0" opacity="0.24"/><path d="M638.2 345.9l3.2 -20.3" stroke="#b5d6ea" stroke-width="1.1" opacity="0.26"/><path d="M876.9 369.7l1.1 -6.9" stroke="#ffffff" stroke-width="1.1" opacity="0.16"/><path d="M761.1 423.6l1.8 -11.2" stroke="#6f9fd2" stroke-width="2.1" opacity="0.19"/><path d="M769.7 320.4l4.4 -27.5" stroke="#ffffff" stroke-width="2.0" opacity="0.14"/><path d="M761.6 393.3l1.3 -7.9" stroke="#ffffff" stroke-width="1.5" opacity="0.25"/><path d="M704.8 465.5l1.3 -8.4" stroke="#cfe5f2" stroke-width="1.3" opacity="0.16"/><path d="M735.9 434.6l1.8 -11.2" stroke="#cfe5f2" stroke-width="1.3" opacity="0.28"/><path d="M829.0 340.4l4.8 -30.0" stroke="#ffffff" stroke-width="1.8" opacity="0.12"/><path d="M528.5 334.6l1.6 -10.0" stroke="#fbe9c0" stroke-width="1.0" opacity="0.17"/><path d="M688.1 344.0l4.0 -25.3" stroke="#fdf0cf" stroke-width="1.1" opacity="0.27"/><path d="M816.0 428.8l2.9 -17.8" stroke="#5a89c3" stroke-width="1.1" opacity="0.13"/><path d="M668.0 306.4l1.1 -7.0" stroke="#ffffff" stroke-width="1.6" opacity="0.24"/><path d="M675.9 449.0l1.3 -8.0" stroke="#6f9fd2" stroke-width="1.5" opacity="0.23"/><path d="M560.1 300.9l3.6 -22.8" stroke="#e6f2f6" stroke-width="1.4" opacity="0.15"/><path d="M565.9 342.5l1.6 -10.0" stroke="#fbe9c0" stroke-width="1.8" opacity="0.12"/><path d="M694.5 329.2l3.2 -19.9" stroke="#fbe9c0" stroke-width="1.5" opacity="0.14"/><path d="M671.7 336.2l1.5 -9.3" stroke="#fdf0cf" stroke-width="2.1" opacity="0.21"/><path d="M613.3 316.9l1.4 -8.7" stroke="#ffffff" stroke-width="1.7" opacity="0.26"/><path d="M731.1 422.6l1.9 -12.0" stroke="#6f9fd2" stroke-width="1.1" opacity="0.15"/><path d="M539.0 370.0l3.1 -19.5" stroke="#c5e0ef" stroke-width="1.8" opacity="0.12"/><path d="M764.3 338.7l2.0 -12.3" stroke="#ffffff" stroke-width="2.2" opacity="0.11"/><path d="M648.1 317.5l1.9 -11.6" stroke="#fdf0cf" stroke-width="2.2" opacity="0.17"/><path d="M816.6 382.2l4.8 -29.9" stroke="#ffffff" stroke-width="1.4" opacity="0.29"/><path d="M808.0 305.7l4.2 -26.5" stroke="#fdf0cf" stroke-width="2.1" opacity="0.24"/><path d="M581.8 361.3l1.5 -9.6" stroke="#b5d6ea" stroke-width="2.4" opacity="0.24"/><path d="M780.3 311.9l1.0 -6.1" stroke="#e6f2f6" stroke-width="1.0" opacity="0.21"/><path d="M645.5 312.3l3.5 -21.7" stroke="#ffffff" stroke-width="1.2" opacity="0.23"/><path d="M829.1 440.0l1.3 -8.4" stroke="#a9cde6" stroke-width="1.8" opacity="0.26"/><path d="M703.4 437.4l3.0 -18.9" stroke="#a9cde6" stroke-width="2.2" opacity="0.29"/><path d="M850.1 432.6l4.4 -27.6" stroke="#5a89c3" stroke-width="1.2" opacity="0.18"/><path d="M755.8 466.9l3.1 -19.3" stroke="#5a89c3" stroke-width="1.8" opacity="0.29"/><path d="M569.2 472.4l4.2 -26.5" stroke="#a9cde6" stroke-width="2.1" opacity="0.27"/><path d="M613.5 404.6l3.3 -20.6" stroke="#cfe5f2" stroke-width="1.8" opacity="0.29"/><path d="M844.7 308.9l3.7 -23.3" stroke="#e6f2f6" stroke-width="2.2" opacity="0.24"/><path d="M863.2 447.0l2.6 -16.6" stroke="#5f8fc8" stroke-width="1.3" opacity="0.23"/><path d="M809.9 418.1l4.7 -29.5" stroke="#cfe5f2" stroke-width="2.2" opacity="0.10"/><path d="M702.1 302.9l1.4 -8.9" stroke="#e6f2f6" stroke-width="1.6" opacity="0.22"/><path d="M690.9 359.7l1.8 -11.6" stroke="#c5e0ef" stroke-width="1.5" opacity="0.19"/><path d="M539.6 359.8l5.1 -31.8" stroke="#b5d6ea" stroke-width="2.0" opacity="0.19"/><path d="M763.3 443.7l1.5 -9.1" stroke="#5f8fc8" stroke-width="1.5" opacity="0.28"/><path d="M666.7 359.2l1.6 -9.9" stroke="#b5d6ea" stroke-width="1.3" opacity="0.28"/><path d="M745.2 459.1l2.6 -16.3" stroke="#cfe5f2" stroke-width="1.4" opacity="0.28"/><path d="M809.5 408.0l4.5 -28.3" stroke="#6f9fd2" stroke-width="1.5" opacity="0.10"/><path d="M831.8 318.5l2.0 -12.4" stroke="#fbe9c0" stroke-width="2.1" opacity="0.24"/><path d="M878.5 430.8l4.1 -25.6" stroke="#cfe5f2" stroke-width="1.1" opacity="0.25"/><path d="M618.2 374.1l3.1 -19.4" stroke="#c5e0ef" stroke-width="1.6" opacity="0.29"/><path d="M656.8 417.7l3.6 -22.4" stroke="#cfe5f2" stroke-width="2.4" opacity="0.26"/><path d="M549.2 416.5l3.0 -18.8" stroke="#5f8fc8" stroke-width="1.0" opacity="0.27"/><path d="M771.3 399.2l2.8 -17.6" stroke="#fdf0cf" stroke-width="2.3" opacity="0.25"/><path d="M794.9 306.2l2.3 -14.5" stroke="#fdf0cf" stroke-width="0.9" opacity="0.29"/><path d="M624.6 333.4l4.8 -29.9" stroke="#ffffff" stroke-width="2.5" opacity="0.13"/><path d="M737.9 474.8l3.6 -22.3" stroke="#6f9fd2" stroke-width="1.4" opacity="0.21"/><path d="M677.8 474.1l3.7 -22.9" stroke="#cfe5f2" stroke-width="1.7" opacity="0.29"/><path d="M656.2 460.7l2.3 -14.4" stroke="#5a89c3" stroke-width="1.7" opacity="0.11"/><path d="M717.5 459.1l1.8 -11.2" stroke="#5f8fc8" stroke-width="1.2" opacity="0.25"/><path d="M588.8 355.5l1.2 -7.4" stroke="#c5e0ef" stroke-width="2.5" opacity="0.26"/><path d="M656.2 423.4l2.1 -13.1" stroke="#cfe5f2" stroke-width="1.2" opacity="0.16"/><path d="M684.0 319.3l2.0 -12.8" stroke="#e6f2f6" stroke-width="1.4" opacity="0.26"/><path d="M696.2 320.0l4.8 -30.1" stroke="#e6f2f6" stroke-width="1.7" opacity="0.18"/><path d="M584.9 458.9l1.1 -7.1" stroke="#a9cde6" stroke-width="2.1" opacity="0.19"/><path d="M726.9 419.4l4.1 -25.6" stroke="#a9cde6" stroke-width="1.5" opacity="0.24"/><path d="M668.8 444.4l4.5 -28.1" stroke="#5f8fc8" stroke-width="1.3" opacity="0.25"/><path d="M542.7 447.1l3.3 -20.7" stroke="#a9cde6" stroke-width="1.9" opacity="0.17"/><path d="M877.1 457.7l4.6 -28.8" stroke="#5f8fc8" stroke-width="2.1" opacity="0.24"/><path d="M674.9 443.8l1.4 -8.9" stroke="#a9cde6" stroke-width="1.2" opacity="0.14"/><path d="M785.4 432.1l1.5 -9.1" stroke="#cfe5f2" stroke-width="1.5" opacity="0.29"/><path d="M792.3 360.8l2.6 -16.2" stroke="#c5e0ef" stroke-width="1.5" opacity="0.14"/><path d="M838.3 394.7l3.1 -19.6" stroke="#c5e0ef" stroke-width="1.1" opacity="0.17"/><path d="M551.5 373.6l3.0 -19.1" stroke="#fdf0cf" stroke-width="2.0" opacity="0.22"/><path d="M671.7 402.1l2.1 -13.1" stroke="#6f9fd2" stroke-width="1.1" opacity="0.23"/><path d="M796.5 389.1l4.7 -29.4" stroke="#ffffff" stroke-width="2.1" opacity="0.26"/><path d="M759.0 456.4l1.5 -9.4" stroke="#cfe5f2" stroke-width="1.9" opacity="0.16"/><path d="M552.0 407.4l4.4 -27.4" stroke="#a9cde6" stroke-width="1.9" opacity="0.28"/><path d="M638.1 364.0l3.3 -20.8" stroke="#ffffff" stroke-width="1.5" opacity="0.24"/><path d="M553.7 449.3l2.3 -14.5" stroke="#5f8fc8" stroke-width="1.6" opacity="0.25"/><path d="M687.1 389.6l5.0 -31.4" stroke="#fdf0cf" stroke-width="1.8" opacity="0.26"/><path d="M542.1 447.3l1.4 -8.9" stroke="#6f9fd2" stroke-width="1.4" opacity="0.29"/><path d="M871.4 394.5l1.9 -12.0" stroke="#fdf0cf" stroke-width="2.2" opacity="0.14"/><path d="M826.8 444.0l3.2 -20.0" stroke="#5f8fc8" stroke-width="1.3" opacity="0.13"/><path d="M816.6 347.7l2.5 -15.7" stroke="#c5e0ef" stroke-width="2.1" opacity="0.22"/><path d="M670.4 391.2l3.4 -21.3" stroke="#b5d6ea" stroke-width="2.0" opacity="0.28"/><path d="M547.5 366.1l3.2 -19.8" stroke="#c5e0ef" stroke-width="1.0" opacity="0.20"/><path d="M575.6 380.8l3.8 -23.7" stroke="#fdf0cf" stroke-width="1.6" opacity="0.17"/><path d="M595.6 371.7l2.1 -13.3" stroke="#b5d6ea" stroke-width="1.0" opacity="0.28"/><path d="M533.9 438.4l4.2 -26.5" stroke="#6f9fd2" stroke-width="2.1" opacity="0.14"/><path d="M797.0 449.2l2.2 -13.7" stroke="#5f8fc8" stroke-width="2.4" opacity="0.24"/><path d="M784.1 311.2l1.8 -11.3" stroke="#ffffff" stroke-width="2.2" opacity="0.23"/><path d="M794.1 395.7l3.3 -20.5" stroke="#b5d6ea" stroke-width="1.8" opacity="0.16"/><path d="M654.2 318.7l4.0 -25.2" stroke="#fbe9c0" stroke-width="1.6" opacity="0.11"/><path d="M781.9 437.5l2.4 -14.9" stroke="#6f9fd2" stroke-width="1.5" opacity="0.28"/><path d="M701.0 314.7l2.4 -14.8" stroke="#fbe9c0" stroke-width="1.7" opacity="0.26"/><path d="M573.7 319.4l3.3 -20.6" stroke="#e6f2f6" stroke-width="1.2" opacity="0.15"/><path d="M535.6 461.8l3.9 -24.5" stroke="#5a89c3" stroke-width="1.6" opacity="0.25"/><path d="M664.8 444.5l4.5 -27.9" stroke="#6f9fd2" stroke-width="1.1" opacity="0.12"/><path d="M787.1 394.6l1.1 -6.7" stroke="#ffffff" stroke-width="1.6" opacity="0.11"/><path d="M844.5 395.1l1.3 -7.8" stroke="#c5e0ef" stroke-width="1.4" opacity="0.21"/><path d="M692.4 436.9l4.7 -29.5" stroke="#5f8fc8" stroke-width="1.3" opacity="0.28"/><path d="M664.2 318.5l3.4 -21.4" stroke="#fdf0cf" stroke-width="2.4" opacity="0.19"/><path d="M731.7 463.8l3.8 -23.8" stroke="#cfe5f2" stroke-width="2.1" opacity="0.21"/><path d="M784.0 453.4l1.7 -10.4" stroke="#6f9fd2" stroke-width="2.0" opacity="0.19"/><path d="M841.5 407.8l1.5 -9.1" stroke="#cfe5f2" stroke-width="1.9" opacity="0.11"/><path d="M612.9 475.7l1.9 -11.9" stroke="#cfe5f2" stroke-width="1.8" opacity="0.25"/><path d="M607.8 431.5l3.7 -22.8" stroke="#6f9fd2" stroke-width="1.1" opacity="0.30"/><path d="M813.8 306.8l1.2 -7.3" stroke="#fdf0cf" stroke-width="2.4" opacity="0.29"/><path d="M804.0 307.9l3.3 -20.5" stroke="#e6f2f6" stroke-width="1.3" opacity="0.13"/><path d="M534.5 434.8l1.4 -8.7" stroke="#5f8fc8" stroke-width="1.2" opacity="0.26"/><path d="M586.0 391.2l1.4 -8.8" stroke="#ffffff" stroke-width="2.4" opacity="0.10"/><path d="M831.1 398.9l4.4 -27.4" stroke="#fdf0cf" stroke-width="1.8" opacity="0.22"/><path d="M809.9 395.7l3.9 -24.4" stroke="#fdf0cf" stroke-width="1.9" opacity="0.19"/><path d="M766.8 399.7l1.8 -11.4" stroke="#b5d6ea" stroke-width="2.2" opacity="0.26"/><path d="M691.0 321.7l3.7 -22.9" stroke="#fdf0cf" stroke-width="2.0" opacity="0.30"/><path d="M746.1 315.4l3.1 -19.5" stroke="#ffffff" stroke-width="1.0" opacity="0.15"/><path d="M841.8 475.1l1.3 -8.3" stroke="#a9cde6" stroke-width="1.4" opacity="0.25"/><path d="M580.6 407.9l5.0 -31.4" stroke="#6f9fd2" stroke-width="0.9" opacity="0.11"/><path d="M568.5 423.3l3.5 -21.6" stroke="#5a89c3" stroke-width="1.5" opacity="0.30"/><path d="M856.9 402.3l1.8 -11.5" stroke="#5f8fc8" stroke-width="2.4" opacity="0.27"/><path d="M783.1 305.5l3.8 -23.7" stroke="#e6f2f6" stroke-width="2.2" opacity="0.11"/><path d="M748.3 352.2l2.0 -12.6" stroke="#b5d6ea" stroke-width="1.3" opacity="0.16"/><path d="M652.1 357.7l1.4 -8.5" stroke="#ffffff" stroke-width="1.2" opacity="0.29"/>
</g>
<path d="M612.8 474.4 L612.8 305.8 L749.3 231.7 L749.3 401.7 Z" fill="none" stroke="#ff0000" stroke-width="1"/>
<text x="494" y="301.2" class="e">0</text>
<text x="494" y="329.7" class="e">-20</text>
<text x="494" y="358.2" class="e">-40</text>
<text x="494" y="386.7" class="e">-60</text>
<text x="494" y="415.2" class="e">-80</text>
<text x="494" y="443.7" class="e">-100</text>
<text x="494" y="472.2" class="e">-120</text>
<text transform="translate(448,382) rotate(-90)" class="m">PSD (dBm)</text>
<text x="501.5" y="476.5" class="m">14:59:20</text>
<text x="569" y="489" class="m">14:59:40</text>
<text x="637.5" y="501" class="m">15:00:00</text>
<text x="706.5" y="513" class="m">15:00:20</text>
<text x="772.5" y="525" class="m">15:00:40</text>
<text x="812" y="523.5" class="m">1210</text>
<text x="833" y="511.5" class="m">1215</text>
<text x="855" y="499.5" class="m">1220</text>
<text x="878" y="487.5" class="m">1225</text>
<text x="899" y="475.5" class="m">1230</text>
<text x="921" y="463" class="m">1235</text>
<text x="943" y="451" class="m">1240</text>
<text x="968" y="438.5" class="m">1245</text>
<text transform="translate(599,517.5) rotate(9.8)" class="m">Time (UTC)</text>
<text transform="translate(934,492) rotate(-28.9)" class="m">Frequency (MHz)</text>
</g>
<g id="bottom">
<text x="534" y="602" class="m">Max Rx Power</text>
<text x="534" y="760" class="m">Time (UTC)</text>
<text transform="translate(17,669) rotate(-90)" class="m">Power (dBm)</text>
<line x1="304.5" y1="620.5" x2="304.5" y2="719.5" stroke="#d8d8d8" stroke-width="1" stroke-dasharray="2 2"/>
<line x1="535.5" y1="620.5" x2="535.5" y2="719.5" stroke="#d8d8d8" stroke-width="1" stroke-dasharray="2 2"/>
<line x1="765.5" y1="620.5" x2="765.5" y2="719.5" stroke="#d8d8d8" stroke-width="1" stroke-dasharray="2 2"/>
<line x1="73.5" y1="646.5" x2="996.5" y2="646.5" stroke="#d8d8d8" stroke-width="1" stroke-dasharray="2 2"/>
<line x1="73.5" y1="682.5" x2="996.5" y2="682.5" stroke="#d8d8d8" stroke-width="1" stroke-dasharray="2 2"/>
<path d="M304.5 620.5V625.5 M304.5 719.5V714.5 M535.5 620.5V625.5 M535.5 719.5V714.5 M765.5 620.5V625.5 M765.5 719.5V714.5 M188.5 620.5V623.5 M188.5 719.5V716.5 M419.5 620.5V623.5 M419.5 719.5V716.5 M650.5 620.5V623.5 M650.5 719.5V716.5 M881.5 620.5V623.5 M881.5 719.5V716.5" stroke="#eee8aa" fill="none"/>
<clipPath id="bc"><rect x="73.5" y="620.5" width="923.0" height="99.0"/></clipPath>
<path d="M154 672 L165.5 680 L176.8 724 L188.5 671.5 L200 684 L211.5 684.3 L223 683 L235 692 L246.5 676 L258 667.5 L269.5 691 L281 677.5 L292.5 673 L304 677.5 L315.5 672.5 L327.5 658.5 L338.5 645.5 L350 648 L361.5 651 L373 638.5 L385 647.5 L396.5 682 L408 672.5 L419.5 669 L431 678 L442.5 670.5 L454 687 L465.5 684.5 L477 682 L488.5 696.5 L500 670.5 L511.5 686 L523 691 L535.5 683.5 L547 687 M581 691 L604 691.5 L615.5 693 L627 695.5 L638.5 686 M661 672 L673 680 L684.5 727 M742 694.5 L755 698.5 M130.8 702 L132.6 702 M707.3 673.5 L709.1 673.5" stroke="#ffff00" stroke-width="1" fill="none" clip-path="url(#bc)"/>
<line x1="373.5" y1="620.5" x2="373.5" y2="719.5" stroke="#ff0000"/>
<rect x="73.5" y="620.5" width="923.0" height="99.0" fill="none" stroke="#eee8aa"/>
<text x="64.3" y="651" class="e">-80</text>
<text x="64.3" y="687" class="e">-100</text>
<text x="64.3" y="723" class="e">-120</text>
<text x="73" y="738" class="m">14:59:20</text>
<text x="304" y="738" class="m">14:59:40</text>
<text x="535" y="738" class="m">15:00:00</text>
<text x="766" y="738" class="m">15:00:20</text>
<text x="996" y="738" class="m">15:00:40</text>
</g>
</svg></body></html>
